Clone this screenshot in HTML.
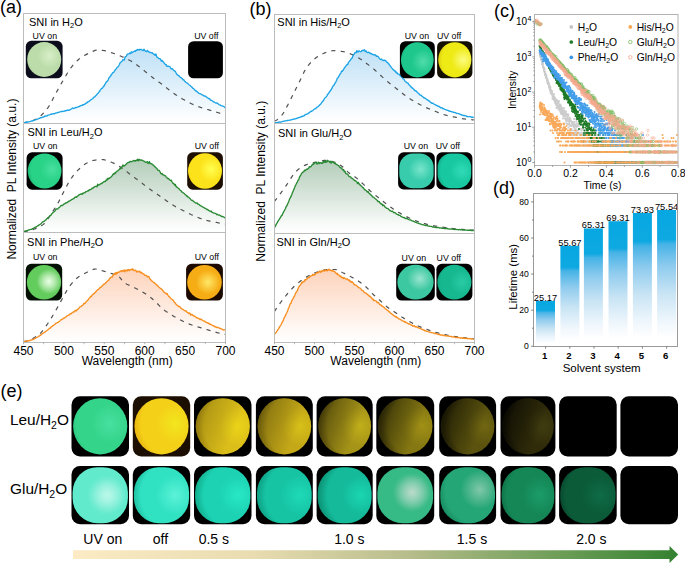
<!DOCTYPE html>
<html><head><meta charset="utf-8"><style>
html,body{margin:0;padding:0;background:#fff;overflow:hidden;width:685px;height:563px;}
svg{display:block;}
text{font-family:"Liberation Sans", sans-serif;fill:#000;}
</style></head><body>
<svg width="685" height="563" viewBox="0 0 685 563">
<defs><linearGradient id="g1" x1="0" y1="49.2" x2="0" y2="123.0" gradientUnits="userSpaceOnUse"><stop offset="0" stop-color="#bfe1f6"/><stop offset="0.5" stop-color="#bfe1f6" stop-opacity="0.5"/><stop offset="0.85" stop-color="#bfe1f6" stop-opacity="0.12"/><stop offset="1" stop-color="#bfe1f6" stop-opacity="0"/></linearGradient><linearGradient id="g2" x1="0" y1="159.2" x2="0" y2="232.0" gradientUnits="userSpaceOnUse"><stop offset="0" stop-color="#b3cdb9"/><stop offset="0.5" stop-color="#b3cdb9" stop-opacity="0.5"/><stop offset="0.85" stop-color="#b3cdb9" stop-opacity="0.12"/><stop offset="1" stop-color="#b3cdb9" stop-opacity="0"/></linearGradient><linearGradient id="g3" x1="0" y1="268.8" x2="0" y2="342.0" gradientUnits="userSpaceOnUse"><stop offset="0" stop-color="#fdd3bb"/><stop offset="0.5" stop-color="#fdd3bb" stop-opacity="0.5"/><stop offset="0.85" stop-color="#fdd3bb" stop-opacity="0.12"/><stop offset="1" stop-color="#fdd3bb" stop-opacity="0"/></linearGradient><linearGradient id="g4" x1="0" y1="49.8" x2="0" y2="123.0" gradientUnits="userSpaceOnUse"><stop offset="0" stop-color="#bfe1f6"/><stop offset="0.5" stop-color="#bfe1f6" stop-opacity="0.5"/><stop offset="0.85" stop-color="#bfe1f6" stop-opacity="0.12"/><stop offset="1" stop-color="#bfe1f6" stop-opacity="0"/></linearGradient><linearGradient id="g5" x1="0" y1="160.3" x2="0" y2="233.0" gradientUnits="userSpaceOnUse"><stop offset="0" stop-color="#b3cdb9"/><stop offset="0.5" stop-color="#b3cdb9" stop-opacity="0.5"/><stop offset="0.85" stop-color="#b3cdb9" stop-opacity="0.12"/><stop offset="1" stop-color="#b3cdb9" stop-opacity="0"/></linearGradient><linearGradient id="g6" x1="0" y1="269.4" x2="0" y2="342.0" gradientUnits="userSpaceOnUse"><stop offset="0" stop-color="#fdd3bb"/><stop offset="0.5" stop-color="#fdd3bb" stop-opacity="0.5"/><stop offset="0.85" stop-color="#fdd3bb" stop-opacity="0.12"/><stop offset="1" stop-color="#fdd3bb" stop-opacity="0"/></linearGradient><radialGradient id="p7" cx="0.65" cy="0.4" r="0.78" fx="0.65" fy="0.4"><stop offset="0" stop-color="#d8f0c8"/><stop offset="0.45" stop-color="#bcdcaa"/><stop offset="0.8" stop-color="#bcdcaa"/><stop offset="1" stop-color="#94bc84"/></radialGradient><radialGradient id="p8" cx="0.72" cy="0.45" r="0.78" fx="0.72" fy="0.45"><stop offset="0" stop-color="#48e0a0"/><stop offset="0.45" stop-color="#28d286"/><stop offset="0.8" stop-color="#28d286"/><stop offset="1" stop-color="#16ae68"/></radialGradient><radialGradient id="p9" cx="0.68" cy="0.45" r="0.78" fx="0.68" fy="0.45"><stop offset="0" stop-color="#ffff50"/><stop offset="0.45" stop-color="#fce21a"/><stop offset="0.8" stop-color="#fce21a"/><stop offset="1" stop-color="#ecb80a"/></radialGradient><radialGradient id="p10" cx="0.64" cy="0.48" r="0.78" fx="0.64" fy="0.48"><stop offset="0" stop-color="#e4fcdc"/><stop offset="0.45" stop-color="#62cc5c"/><stop offset="0.8" stop-color="#62cc5c"/><stop offset="1" stop-color="#38a834"/></radialGradient><radialGradient id="h11" cx="0.66" cy="0.48" r="0.4"><stop offset="0" stop-color="#f0fff0" stop-opacity="0.35"/><stop offset="1" stop-color="#f0fff0" stop-opacity="0"/></radialGradient><radialGradient id="p12" cx="0.6" cy="0.5" r="0.78" fx="0.6" fy="0.5"><stop offset="0" stop-color="#ffe868"/><stop offset="0.45" stop-color="#f6ac14"/><stop offset="0.8" stop-color="#f6ac14"/><stop offset="1" stop-color="#d88a08"/></radialGradient><radialGradient id="p13" cx="0.68" cy="0.55" r="0.78" fx="0.68" fy="0.55"><stop offset="0" stop-color="#50dcac"/><stop offset="0.45" stop-color="#1ec88c"/><stop offset="0.8" stop-color="#1ec88c"/><stop offset="1" stop-color="#149e6c"/></radialGradient><radialGradient id="p14" cx="0.75" cy="0.5" r="0.78" fx="0.75" fy="0.5"><stop offset="0" stop-color="#fcfc80"/><stop offset="0.45" stop-color="#eeea16"/><stop offset="0.8" stop-color="#eeea16"/><stop offset="1" stop-color="#d8c810"/></radialGradient><radialGradient id="p15" cx="0.62" cy="0.45" r="0.78" fx="0.62" fy="0.45"><stop offset="0" stop-color="#78e4cc"/><stop offset="0.45" stop-color="#38ccac"/><stop offset="0.8" stop-color="#38ccac"/><stop offset="1" stop-color="#22aa8c"/></radialGradient><radialGradient id="p16" cx="0.72" cy="0.5" r="0.78" fx="0.72" fy="0.5"><stop offset="0" stop-color="#30dcb8"/><stop offset="0.45" stop-color="#18c8a0"/><stop offset="0.8" stop-color="#18c8a0"/><stop offset="1" stop-color="#0ea482"/></radialGradient><radialGradient id="p17" cx="0.62" cy="0.4" r="0.78" fx="0.62" fy="0.4"><stop offset="0" stop-color="#98e4d0"/><stop offset="0.45" stop-color="#3cc8a0"/><stop offset="0.8" stop-color="#3cc8a0"/><stop offset="1" stop-color="#28a884"/></radialGradient><radialGradient id="p18" cx="0.72" cy="0.5" r="0.78" fx="0.72" fy="0.5"><stop offset="0" stop-color="#28ccA4"/><stop offset="0.45" stop-color="#16b890"/><stop offset="0.8" stop-color="#16b890"/><stop offset="1" stop-color="#0e9a74"/></radialGradient><marker id="m19" markerUnits="userSpaceOnUse" markerWidth="4" markerHeight="4" refX="2" refY="2" overflow="visible"><circle cx="2" cy="2" r="0.98" fill="#cccccc"/></marker><marker id="m20" markerUnits="userSpaceOnUse" markerWidth="4" markerHeight="4" refX="2" refY="2" overflow="visible"><circle cx="2" cy="2" r="0.98" fill="#1e7a26"/></marker><marker id="m21" markerUnits="userSpaceOnUse" markerWidth="4" markerHeight="4" refX="2" refY="2" overflow="visible"><circle cx="2" cy="2" r="0.98" fill="#449eea"/></marker><marker id="m22" markerUnits="userSpaceOnUse" markerWidth="4" markerHeight="4" refX="2" refY="2" overflow="visible"><circle cx="2" cy="2" r="0.98" fill="#f8a858"/></marker><marker id="m23" markerUnits="userSpaceOnUse" markerWidth="4" markerHeight="4" refX="2" refY="2" overflow="visible"><circle cx="2" cy="2" r="1.2" fill="none" stroke="#7cbb62" stroke-width="0.6"/></marker><marker id="m24" markerUnits="userSpaceOnUse" markerWidth="4" markerHeight="4" refX="2" refY="2" overflow="visible"><circle cx="2" cy="2" r="1.2" fill="none" stroke="#f5a88e" stroke-width="0.6"/></marker><linearGradient id="barg" x1="0" y1="0" x2="0" y2="1"><stop offset="0" stop-color="#06a7e2"/><stop offset="0.215" stop-color="#0ea9e1"/><stop offset="0.25" stop-color="#46b3e6"/><stop offset="0.41" stop-color="#8ecbee"/><stop offset="0.61" stop-color="#c8e4f4"/><stop offset="0.81" stop-color="#eef6fc"/><stop offset="0.94" stop-color="#ffffff"/></linearGradient><radialGradient id="p25" cx="0.68" cy="0.45" r="0.78" fx="0.68" fy="0.45"><stop offset="0" stop-color="#48e0a0"/><stop offset="0.45" stop-color="#34d48a"/><stop offset="0.8" stop-color="#34d48a"/><stop offset="1" stop-color="#22b070"/></radialGradient><radialGradient id="p26" cx="0.62" cy="0.5" r="0.78" fx="0.62" fy="0.5"><stop offset="0" stop-color="#b0f6e6"/><stop offset="0.45" stop-color="#62eacd"/><stop offset="0.8" stop-color="#62eacd"/><stop offset="1" stop-color="#44ceb0"/></radialGradient><radialGradient id="h27" cx="0.64" cy="0.5" r="0.3"><stop offset="0" stop-color="#d0faee" stop-opacity="0.35"/><stop offset="1" stop-color="#d0faee" stop-opacity="0"/></radialGradient><radialGradient id="p28" cx="0.75" cy="0.45" r="0.78" fx="0.75" fy="0.45"><stop offset="0" stop-color="#f2e61e"/><stop offset="0.45" stop-color="#f4d018"/><stop offset="0.8" stop-color="#f4d018"/><stop offset="1" stop-color="#e8b010"/></radialGradient><radialGradient id="p29" cx="0.75" cy="0.5" r="0.78" fx="0.75" fy="0.5"><stop offset="0" stop-color="#5cf2d8"/><stop offset="0.45" stop-color="#30e2c2"/><stop offset="0.8" stop-color="#30e2c2"/><stop offset="1" stop-color="#1cbc9c"/></radialGradient><radialGradient id="p30" cx="0.78" cy="0.5" r="0.78" fx="0.78" fy="0.5"><stop offset="0" stop-color="#ead418"/><stop offset="0.45" stop-color="#dcbe1a"/><stop offset="0.8" stop-color="#dcbe1a"/><stop offset="1" stop-color="#b89810"/></radialGradient><linearGradient id="d31" x1="0" y1="0.2" x2="1" y2="0.6"><stop offset="0" stop-color="#000" stop-opacity="0.25"/><stop offset="0.75" stop-color="#000" stop-opacity="0"/></linearGradient><radialGradient id="p32" cx="0.78" cy="0.5" r="0.78" fx="0.78" fy="0.5"><stop offset="0" stop-color="#28e8c6"/><stop offset="0.45" stop-color="#1cd2b2"/><stop offset="0.8" stop-color="#1cd2b2"/><stop offset="1" stop-color="#12ae8e"/></radialGradient><radialGradient id="p33" cx="0.8" cy="0.5" r="0.78" fx="0.8" fy="0.5"><stop offset="0" stop-color="#d6c018"/><stop offset="0.45" stop-color="#c4a818"/><stop offset="0.8" stop-color="#c4a818"/><stop offset="1" stop-color="#9a8410"/></radialGradient><linearGradient id="d34" x1="0" y1="0.2" x2="1" y2="0.6"><stop offset="0" stop-color="#000" stop-opacity="0.35"/><stop offset="0.75" stop-color="#000" stop-opacity="0"/></linearGradient><radialGradient id="p35" cx="0.78" cy="0.5" r="0.78" fx="0.78" fy="0.5"><stop offset="0" stop-color="#1edab8"/><stop offset="0.45" stop-color="#16c4a4"/><stop offset="0.8" stop-color="#16c4a4"/><stop offset="1" stop-color="#0ea084"/></radialGradient><radialGradient id="p36" cx="0.8" cy="0.5" r="0.78" fx="0.8" fy="0.5"><stop offset="0" stop-color="#c0ae1a"/><stop offset="0.45" stop-color="#a69418"/><stop offset="0.8" stop-color="#a69418"/><stop offset="1" stop-color="#7a6a0e"/></radialGradient><linearGradient id="d37" x1="0" y1="0.2" x2="1" y2="0.6"><stop offset="0" stop-color="#000" stop-opacity="0.5"/><stop offset="0.75" stop-color="#000" stop-opacity="0"/></linearGradient><radialGradient id="p38" cx="0.8" cy="0.5" r="0.78" fx="0.8" fy="0.5"><stop offset="0" stop-color="#1ad6b2"/><stop offset="0.45" stop-color="#14ba9a"/><stop offset="0.8" stop-color="#14ba9a"/><stop offset="1" stop-color="#0c9678"/></radialGradient><radialGradient id="p39" cx="0.82" cy="0.5" r="0.78" fx="0.82" fy="0.5"><stop offset="0" stop-color="#a09016"/><stop offset="0.45" stop-color="#857812"/><stop offset="0.8" stop-color="#857812"/><stop offset="1" stop-color="#5a500c"/></radialGradient><linearGradient id="d40" x1="0" y1="0.2" x2="1" y2="0.6"><stop offset="0" stop-color="#000" stop-opacity="0.6"/><stop offset="0.75" stop-color="#000" stop-opacity="0"/></linearGradient><radialGradient id="p41" cx="0.62" cy="0.45" r="0.78" fx="0.62" fy="0.45"><stop offset="0" stop-color="#b4d8c6"/><stop offset="0.45" stop-color="#36ba86"/><stop offset="0.8" stop-color="#36ba86"/><stop offset="1" stop-color="#1f9c6a"/></radialGradient><radialGradient id="h42" cx="0.64" cy="0.45" r="0.3"><stop offset="0" stop-color="#c4e0d2" stop-opacity="0.35"/><stop offset="1" stop-color="#c4e0d2" stop-opacity="0"/></radialGradient><radialGradient id="p43" cx="0.82" cy="0.5" r="0.78" fx="0.82" fy="0.5"><stop offset="0" stop-color="#706612"/><stop offset="0.45" stop-color="#5a520e"/><stop offset="0.8" stop-color="#5a520e"/><stop offset="1" stop-color="#3a3408"/></radialGradient><linearGradient id="d44" x1="0" y1="0.2" x2="1" y2="0.6"><stop offset="0" stop-color="#000" stop-opacity="0.65"/><stop offset="0.75" stop-color="#000" stop-opacity="0"/></linearGradient><radialGradient id="p45" cx="0.72" cy="0.4" r="0.78" fx="0.72" fy="0.4"><stop offset="0" stop-color="#80c8a8"/><stop offset="0.45" stop-color="#24a676"/><stop offset="0.8" stop-color="#24a676"/><stop offset="1" stop-color="#168a5e"/></radialGradient><radialGradient id="p46" cx="0.8" cy="0.5" r="0.78" fx="0.8" fy="0.5"><stop offset="0" stop-color="#403c10"/><stop offset="0.45" stop-color="#302c0a"/><stop offset="0.8" stop-color="#302c0a"/><stop offset="1" stop-color="#1a1805"/></radialGradient><linearGradient id="d47" x1="0" y1="0.2" x2="1" y2="0.6"><stop offset="0" stop-color="#000" stop-opacity="0.7"/><stop offset="0.75" stop-color="#000" stop-opacity="0"/></linearGradient><radialGradient id="p48" cx="0.72" cy="0.5" r="0.78" fx="0.72" fy="0.5"><stop offset="0" stop-color="#1a9c68"/><stop offset="0.45" stop-color="#158656"/><stop offset="0.8" stop-color="#158656"/><stop offset="1" stop-color="#0c6a42"/></radialGradient><radialGradient id="p49" cx="0.72" cy="0.5" r="0.78" fx="0.72" fy="0.5"><stop offset="0" stop-color="#0f6c46"/><stop offset="0.45" stop-color="#0b5a38"/><stop offset="0.8" stop-color="#0b5a38"/><stop offset="1" stop-color="#06422a"/></radialGradient><linearGradient id="arrg" x1="73" y1="0" x2="679" y2="0" gradientUnits="userSpaceOnUse"><stop offset="0" stop-color="#fcebc4"/><stop offset="0.3" stop-color="#e8dcb0"/><stop offset="0.55" stop-color="#b8bd8c"/><stop offset="0.8" stop-color="#6e9e58"/><stop offset="1" stop-color="#338130"/></linearGradient></defs>
<path d="M23.5 122.87 L24.2 122.72 L24.9 122.58 L25.6 122.17 L26.3 122.38 L27.0 121.92 L27.7 122.15 L28.4 121.96 L29.1 121.83 L29.8 121.66 L30.5 121.42 L31.2 121.13 L31.9 120.98 L32.6 121.03 L33.3 120.55 L34.0 120.38 L34.7 120.07 L35.4 119.85 L36.1 119.62 L36.8 119.42 L37.5 119.07 L38.2 118.78 L38.9 118.46 L39.6 118.28 L40.3 117.79 L41.0 117.74 L41.7 117.67 L42.4 117.11 L43.1 116.97 L43.8 117.17 L44.5 116.32 L45.2 115.97 L45.9 115.91 L46.6 116.03 L47.3 115.83 L48.0 115.07 L48.7 115.13 L49.4 114.81 L50.1 114.50 L50.8 114.06 L51.5 114.36 L52.2 113.85 L52.9 113.86 L53.6 113.64 L54.3 113.78 L55.0 113.48 L55.7 112.90 L56.4 112.89 L57.1 112.96 L57.8 112.37 L58.5 112.37 L59.2 112.31 L59.9 111.80 L60.6 111.70 L61.3 111.44 L62.0 111.64 L62.7 111.31 L63.4 111.42 L64.1 111.10 L64.8 111.02 L65.5 110.73 L66.2 110.71 L66.9 110.37 L67.6 110.02 L68.3 110.26 L69.0 110.03 L69.7 110.09 L70.4 109.42 L71.1 109.13 L71.8 108.75 L72.5 108.05 L73.2 108.35 L73.9 108.49 L74.6 107.99 L75.3 107.40 L76.0 107.82 L76.7 107.33 L77.4 107.12 L78.1 106.84 L78.8 106.63 L79.5 106.48 L80.2 105.71 L80.9 105.73 L81.6 105.35 L82.3 105.39 L83.0 104.56 L83.7 104.82 L84.4 104.22 L85.1 104.09 L85.8 103.16 L86.5 103.12 L87.2 102.61 L87.9 101.74 L88.6 101.60 L89.3 101.09 L90.0 100.48 L90.7 100.01 L91.4 99.31 L92.1 99.00 L92.8 98.63 L93.5 97.74 L94.2 96.90 L94.9 96.94 L95.6 95.84 L96.3 95.21 L97.0 94.35 L97.7 93.46 L98.4 92.97 L99.1 91.79 L99.8 91.10 L100.5 89.78 L101.2 88.82 L101.9 88.28 L102.6 88.08 L103.3 86.55 L104.0 86.15 L104.7 84.66 L105.4 83.65 L106.1 82.28 L106.8 81.46 L107.5 81.07 L108.2 79.77 L108.9 78.01 L109.6 77.00 L110.3 76.67 L111.0 74.96 L111.7 74.59 L112.4 72.95 L113.1 72.70 L113.8 72.21 L114.5 71.07 L115.2 69.96 L115.9 69.05 L116.6 68.08 L117.3 67.20 L118.0 66.78 L118.7 65.80 L119.4 64.48 L120.1 62.76 L120.8 62.19 L121.5 61.75 L122.2 60.93 L122.9 59.63 L123.6 59.95 L124.3 60.09 L125.0 57.09 L125.7 56.49 L126.4 56.17 L127.1 54.39 L127.8 53.95 L128.5 53.91 L129.2 53.83 L129.9 53.07 L130.6 53.55 L131.3 51.77 L132.0 52.80 L132.7 52.27 L133.4 51.57 L134.1 51.44 L134.8 50.89 L135.5 51.29 L136.2 50.16 L136.9 50.32 L137.6 49.54 L138.3 49.63 L139.0 50.07 L139.7 49.32 L140.4 49.68 L141.1 49.40 L141.8 49.84 L142.5 50.16 L143.2 50.65 L143.9 49.18 L144.6 50.25 L145.3 50.99 L146.0 51.45 L146.7 51.68 L147.4 50.38 L148.1 51.10 L148.8 51.90 L149.5 52.35 L150.2 52.29 L150.9 52.60 L151.6 52.93 L152.3 52.77 L153.0 53.65 L153.7 54.40 L154.4 54.24 L155.1 55.47 L155.8 53.92 L156.5 55.77 L157.2 57.39 L157.9 57.60 L158.6 58.53 L159.3 58.55 L160.0 58.57 L160.7 59.56 L161.4 61.21 L162.1 60.34 L162.8 61.51 L163.5 61.91 L164.2 63.18 L164.9 63.89 L165.6 64.92 L166.3 64.78 L167.0 66.38 L167.7 66.32 L168.4 66.22 L169.1 66.39 L169.8 66.58 L170.5 67.74 L171.2 69.04 L171.9 68.66 L172.6 68.91 L173.3 70.00 L174.0 70.52 L174.7 71.11 L175.4 71.45 L176.1 72.96 L176.8 74.31 L177.5 74.90 L178.2 75.45 L178.9 75.80 L179.6 76.53 L180.3 77.37 L181.0 77.58 L181.7 78.33 L182.4 78.69 L183.1 79.87 L183.8 79.73 L184.5 80.94 L185.2 81.62 L185.9 82.24 L186.6 82.83 L187.3 83.06 L188.0 83.68 L188.7 84.38 L189.4 85.03 L190.1 85.42 L190.8 86.27 L191.5 86.83 L192.2 87.33 L192.9 88.34 L193.6 88.55 L194.3 89.43 L195.0 90.36 L195.7 90.97 L196.4 90.99 L197.1 91.81 L197.8 92.08 L198.5 93.21 L199.2 93.45 L199.9 93.75 L200.6 93.83 L201.3 94.23 L202.0 94.87 L202.7 95.12 L203.4 95.46 L204.1 96.12 L204.8 95.99 L205.5 96.19 L206.2 96.87 L206.9 97.26 L207.6 97.97 L208.3 98.20 L209.0 98.81 L209.7 98.78 L210.4 100.12 L211.1 100.28 L211.8 100.39 L212.5 101.10 L213.2 101.74 L213.9 102.04 L214.6 102.19 L215.3 102.72 L216.0 103.13 L216.7 102.97 L217.4 103.25 L218.1 103.78 L218.8 104.47 L219.5 104.91 L220.2 104.94 L220.9 105.59 L221.6 105.82 L222.3 105.93 L223.0 106.13 L223.7 106.51 L224.4 107.02 L225.1 107.65 L225.1 123.0 L23.5 123.0 Z" fill="url(#g1)" stroke="none"/>
<path d="M23.5 122.80 L24.0 122.76 L24.5 122.71 L25.0 122.65 L25.5 122.57 L26.0 122.48 L26.5 122.38 L27.0 122.27 L27.5 122.15 L28.0 122.02 L28.5 121.88 L29.0 121.73 L29.5 121.58 L30.0 121.42 L30.5 121.26 L31.0 121.09 L31.5 120.92 L32.0 120.75 L32.5 120.57 L33.0 120.39 L33.5 120.19 L34.0 119.97 L34.5 119.74 L35.0 119.48 L35.5 119.22 L36.0 118.93 L36.5 118.63 L37.0 118.32 L37.5 118.00 L38.0 117.66 L38.5 117.31 L39.0 116.95 L39.5 116.58 L40.0 116.21 L40.5 115.82 L41.0 115.42 L41.5 114.99 L42.0 114.53 L42.5 114.06 L43.0 113.56 L43.5 113.04 L44.0 112.50 L44.5 111.94 L45.0 111.37 L45.5 110.77 L46.0 110.15 L46.5 109.52 L47.0 108.88 L47.5 108.21 L48.0 107.54 L48.5 106.83 L49.0 106.07 L49.5 105.27 L50.0 104.42 L50.5 103.53 L51.0 102.61 L51.5 101.67 L52.0 100.71 L52.5 99.74 L53.0 98.76 L53.5 97.77 L54.0 96.80 L54.5 95.83 L55.0 94.89 L55.5 93.96 L56.0 93.06 L56.5 92.16 L57.0 91.25 L57.5 90.35 L58.0 89.44 L58.5 88.54 L59.0 87.63 L59.5 86.73 L60.0 85.83 L60.5 84.94 L61.0 84.05 L61.5 83.17 L62.0 82.30 L62.5 81.43 L63.0 80.58 L63.5 79.73 L64.0 78.89 L64.5 78.04 L65.0 77.18 L65.5 76.33 L66.0 75.48 L66.5 74.64 L67.0 73.81 L67.5 72.99 L68.0 72.18 L68.5 71.38 L69.0 70.61 L69.5 69.85 L70.0 69.12 L70.5 68.41 L71.0 67.73 L71.5 67.08 L72.0 66.44 L72.5 65.81 L73.0 65.19 L73.5 64.59 L74.0 64.01 L74.5 63.44 L75.0 62.89 L75.5 62.36 L76.0 61.85 L76.5 61.35 L77.0 60.88 L77.5 60.43 L78.0 59.99 L78.5 59.56 L79.0 59.15 L79.5 58.75 L80.0 58.36 L80.5 57.98 L81.0 57.62 L81.5 57.26 L82.0 56.92 L82.5 56.60 L83.0 56.28 L83.5 55.98 L84.0 55.69 L84.5 55.40 L85.0 55.13 L85.5 54.86 L86.0 54.60 L86.5 54.35 L87.0 54.10 L87.5 53.86 L88.0 53.63 L88.5 53.40 L89.0 53.17 L89.5 52.95 L90.0 52.73 L90.5 52.51 L91.0 52.30 L91.5 52.08 L92.0 51.84 L92.5 51.59 L93.0 51.34 L93.5 51.09 L94.0 50.85 L94.5 50.63 L95.0 50.43 L95.5 50.26 L96.0 50.13 L96.5 50.04 L97.0 50.00 L97.5 50.00 L98.0 50.01 L98.5 50.03 L99.0 50.06 L99.5 50.09 L100.0 50.13 L100.5 50.17 L101.0 50.22 L101.5 50.27 L102.0 50.33 L102.5 50.39 L103.0 50.46 L103.5 50.52 L104.0 50.59 L104.5 50.66 L105.0 50.73 L105.5 50.82 L106.0 50.92 L106.5 51.04 L107.0 51.17 L107.5 51.31 L108.0 51.47 L108.5 51.63 L109.0 51.80 L109.5 51.98 L110.0 52.15 L110.5 52.33 L111.0 52.51 L111.5 52.69 L112.0 52.86 L112.5 53.03 L113.0 53.20 L113.5 53.38 L114.0 53.55 L114.5 53.73 L115.0 53.92 L115.5 54.10 L116.0 54.29 L116.5 54.48 L117.0 54.67 L117.5 54.87 L118.0 55.06 L118.5 55.26 L119.0 55.46 L119.5 55.66 L120.0 55.86 L120.5 56.07 L121.0 56.28 L121.5 56.49 L122.0 56.71 L122.5 56.93 L123.0 57.15 L123.5 57.37 L124.0 57.60 L124.5 57.83 L125.0 58.06 L125.5 58.30 L126.0 58.53 L126.5 58.77 L127.0 59.01 L127.5 59.25 L128.0 59.50 L128.5 59.76 L129.0 60.01 L129.5 60.27 L130.0 60.54 L130.5 60.82 L131.0 61.10 L131.5 61.38 L132.0 61.68 L132.5 61.98 L133.0 62.30 L133.5 62.62 L134.0 62.96 L134.5 63.30 L135.0 63.64 L135.5 64.00 L136.0 64.36 L136.5 64.72 L137.0 65.09 L137.5 65.46 L138.0 65.83 L138.5 66.20 L139.0 66.58 L139.5 66.95 L140.0 67.33 L140.5 67.72 L141.0 68.11 L141.5 68.51 L142.0 68.91 L142.5 69.32 L143.0 69.73 L143.5 70.14 L144.0 70.55 L144.5 70.96 L145.0 71.37 L145.5 71.78 L146.0 72.19 L146.5 72.60 L147.0 73.00 L147.5 73.40 L148.0 73.80 L148.5 74.20 L149.0 74.61 L149.5 75.01 L150.0 75.41 L150.5 75.82 L151.0 76.22 L151.5 76.62 L152.0 77.01 L152.5 77.41 L153.0 77.80 L153.5 78.19 L154.0 78.57 L154.5 78.95 L155.0 79.32 L155.5 79.69 L156.0 80.05 L156.5 80.41 L157.0 80.76 L157.5 81.11 L158.0 81.45 L158.5 81.80 L159.0 82.15 L159.5 82.49 L160.0 82.84 L160.5 83.19 L161.0 83.55 L161.5 83.91 L162.0 84.28 L162.5 84.65 L163.0 85.03 L163.5 85.42 L164.0 85.81 L164.5 86.21 L165.0 86.62 L165.5 87.02 L166.0 87.43 L166.5 87.83 L167.0 88.24 L167.5 88.65 L168.0 89.05 L168.5 89.44 L169.0 89.84 L169.5 90.22 L170.0 90.60 L170.5 90.97 L171.0 91.35 L171.5 91.72 L172.0 92.09 L172.5 92.46 L173.0 92.82 L173.5 93.19 L174.0 93.55 L174.5 93.90 L175.0 94.25 L175.5 94.60 L176.0 94.94 L176.5 95.28 L177.0 95.61 L177.5 95.94 L178.0 96.26 L178.5 96.57 L179.0 96.88 L179.5 97.19 L180.0 97.49 L180.5 97.79 L181.0 98.08 L181.5 98.37 L182.0 98.66 L182.5 98.95 L183.0 99.23 L183.5 99.51 L184.0 99.79 L184.5 100.06 L185.0 100.34 L185.5 100.61 L186.0 100.88 L186.5 101.15 L187.0 101.42 L187.5 101.68 L188.0 101.95 L188.5 102.21 L189.0 102.47 L189.5 102.72 L190.0 102.98 L190.5 103.23 L191.0 103.47 L191.5 103.71 L192.0 103.95 L192.5 104.18 L193.0 104.40 L193.5 104.62 L194.0 104.84 L194.5 105.05 L195.0 105.26 L195.5 105.47 L196.0 105.68 L196.5 105.88 L197.0 106.08 L197.5 106.27 L198.0 106.46 L198.5 106.65 L199.0 106.84 L199.5 107.02 L200.0 107.19 L200.5 107.37 L201.0 107.53 L201.5 107.70 L202.0 107.86 L202.5 108.01 L203.0 108.16 L203.5 108.31 L204.0 108.46 L204.5 108.60 L205.0 108.75 L205.5 108.89 L206.0 109.03 L206.5 109.18 L207.0 109.32 L207.5 109.46 L208.0 109.61 L208.5 109.76 L209.0 109.91 L209.5 110.06 L210.0 110.21 L210.5 110.36 L211.0 110.51 L211.5 110.65 L212.0 110.80 L212.5 110.95 L213.0 111.10 L213.5 111.25 L214.0 111.40 L214.5 111.55 L215.0 111.70 L215.5 111.85 L216.0 112.00 L216.5 112.15 L217.0 112.31 L217.5 112.47 L218.0 112.64 L218.5 112.80 L219.0 112.96 L219.5 113.13 L220.0 113.29 L220.5 113.45 L221.0 113.60 L221.5 113.75 L222.0 113.90 L222.5 114.03 L223.0 114.16 L223.5 114.28 L224.0 114.38 L224.5 114.48 L225.0 114.57" fill="none" stroke="#505050" stroke-width="1.2" stroke-dasharray="4.2 5.2"/>
<path d="M23.5 122.87 L24.2 122.72 L24.9 122.58 L25.6 122.17 L26.3 122.38 L27.0 121.92 L27.7 122.15 L28.4 121.96 L29.1 121.83 L29.8 121.66 L30.5 121.42 L31.2 121.13 L31.9 120.98 L32.6 121.03 L33.3 120.55 L34.0 120.38 L34.7 120.07 L35.4 119.85 L36.1 119.62 L36.8 119.42 L37.5 119.07 L38.2 118.78 L38.9 118.46 L39.6 118.28 L40.3 117.79 L41.0 117.74 L41.7 117.67 L42.4 117.11 L43.1 116.97 L43.8 117.17 L44.5 116.32 L45.2 115.97 L45.9 115.91 L46.6 116.03 L47.3 115.83 L48.0 115.07 L48.7 115.13 L49.4 114.81 L50.1 114.50 L50.8 114.06 L51.5 114.36 L52.2 113.85 L52.9 113.86 L53.6 113.64 L54.3 113.78 L55.0 113.48 L55.7 112.90 L56.4 112.89 L57.1 112.96 L57.8 112.37 L58.5 112.37 L59.2 112.31 L59.9 111.80 L60.6 111.70 L61.3 111.44 L62.0 111.64 L62.7 111.31 L63.4 111.42 L64.1 111.10 L64.8 111.02 L65.5 110.73 L66.2 110.71 L66.9 110.37 L67.6 110.02 L68.3 110.26 L69.0 110.03 L69.7 110.09 L70.4 109.42 L71.1 109.13 L71.8 108.75 L72.5 108.05 L73.2 108.35 L73.9 108.49 L74.6 107.99 L75.3 107.40 L76.0 107.82 L76.7 107.33 L77.4 107.12 L78.1 106.84 L78.8 106.63 L79.5 106.48 L80.2 105.71 L80.9 105.73 L81.6 105.35 L82.3 105.39 L83.0 104.56 L83.7 104.82 L84.4 104.22 L85.1 104.09 L85.8 103.16 L86.5 103.12 L87.2 102.61 L87.9 101.74 L88.6 101.60 L89.3 101.09 L90.0 100.48 L90.7 100.01 L91.4 99.31 L92.1 99.00 L92.8 98.63 L93.5 97.74 L94.2 96.90 L94.9 96.94 L95.6 95.84 L96.3 95.21 L97.0 94.35 L97.7 93.46 L98.4 92.97 L99.1 91.79 L99.8 91.10 L100.5 89.78 L101.2 88.82 L101.9 88.28 L102.6 88.08 L103.3 86.55 L104.0 86.15 L104.7 84.66 L105.4 83.65 L106.1 82.28 L106.8 81.46 L107.5 81.07 L108.2 79.77 L108.9 78.01 L109.6 77.00 L110.3 76.67 L111.0 74.96 L111.7 74.59 L112.4 72.95 L113.1 72.70 L113.8 72.21 L114.5 71.07 L115.2 69.96 L115.9 69.05 L116.6 68.08 L117.3 67.20 L118.0 66.78 L118.7 65.80 L119.4 64.48 L120.1 62.76 L120.8 62.19 L121.5 61.75 L122.2 60.93 L122.9 59.63 L123.6 59.95 L124.3 60.09 L125.0 57.09 L125.7 56.49 L126.4 56.17 L127.1 54.39 L127.8 53.95 L128.5 53.91 L129.2 53.83 L129.9 53.07 L130.6 53.55 L131.3 51.77 L132.0 52.80 L132.7 52.27 L133.4 51.57 L134.1 51.44 L134.8 50.89 L135.5 51.29 L136.2 50.16 L136.9 50.32 L137.6 49.54 L138.3 49.63 L139.0 50.07 L139.7 49.32 L140.4 49.68 L141.1 49.40 L141.8 49.84 L142.5 50.16 L143.2 50.65 L143.9 49.18 L144.6 50.25 L145.3 50.99 L146.0 51.45 L146.7 51.68 L147.4 50.38 L148.1 51.10 L148.8 51.90 L149.5 52.35 L150.2 52.29 L150.9 52.60 L151.6 52.93 L152.3 52.77 L153.0 53.65 L153.7 54.40 L154.4 54.24 L155.1 55.47 L155.8 53.92 L156.5 55.77 L157.2 57.39 L157.9 57.60 L158.6 58.53 L159.3 58.55 L160.0 58.57 L160.7 59.56 L161.4 61.21 L162.1 60.34 L162.8 61.51 L163.5 61.91 L164.2 63.18 L164.9 63.89 L165.6 64.92 L166.3 64.78 L167.0 66.38 L167.7 66.32 L168.4 66.22 L169.1 66.39 L169.8 66.58 L170.5 67.74 L171.2 69.04 L171.9 68.66 L172.6 68.91 L173.3 70.00 L174.0 70.52 L174.7 71.11 L175.4 71.45 L176.1 72.96 L176.8 74.31 L177.5 74.90 L178.2 75.45 L178.9 75.80 L179.6 76.53 L180.3 77.37 L181.0 77.58 L181.7 78.33 L182.4 78.69 L183.1 79.87 L183.8 79.73 L184.5 80.94 L185.2 81.62 L185.9 82.24 L186.6 82.83 L187.3 83.06 L188.0 83.68 L188.7 84.38 L189.4 85.03 L190.1 85.42 L190.8 86.27 L191.5 86.83 L192.2 87.33 L192.9 88.34 L193.6 88.55 L194.3 89.43 L195.0 90.36 L195.7 90.97 L196.4 90.99 L197.1 91.81 L197.8 92.08 L198.5 93.21 L199.2 93.45 L199.9 93.75 L200.6 93.83 L201.3 94.23 L202.0 94.87 L202.7 95.12 L203.4 95.46 L204.1 96.12 L204.8 95.99 L205.5 96.19 L206.2 96.87 L206.9 97.26 L207.6 97.97 L208.3 98.20 L209.0 98.81 L209.7 98.78 L210.4 100.12 L211.1 100.28 L211.8 100.39 L212.5 101.10 L213.2 101.74 L213.9 102.04 L214.6 102.19 L215.3 102.72 L216.0 103.13 L216.7 102.97 L217.4 103.25 L218.1 103.78 L218.8 104.47 L219.5 104.91 L220.2 104.94 L220.9 105.59 L221.6 105.82 L222.3 105.93 L223.0 106.13 L223.7 106.51 L224.4 107.02 L225.1 107.65" fill="none" stroke="#1ca4e6" stroke-width="1.35" stroke-linejoin="round"/>
<path d="M23.5 231.67 L24.2 231.40 L24.9 231.05 L25.6 231.00 L26.3 230.79 L27.0 230.60 L27.7 230.50 L28.4 230.03 L29.1 230.08 L29.8 229.56 L30.5 229.43 L31.2 229.32 L31.9 229.02 L32.6 228.54 L33.3 228.57 L34.0 228.04 L34.7 227.50 L35.4 227.28 L36.1 226.76 L36.8 226.56 L37.5 225.87 L38.2 225.71 L38.9 224.88 L39.6 224.84 L40.3 224.19 L41.0 223.83 L41.7 222.93 L42.4 222.12 L43.1 221.68 L43.8 221.31 L44.5 221.14 L45.2 220.29 L45.9 219.83 L46.6 218.78 L47.3 218.22 L48.0 217.62 L48.7 217.28 L49.4 216.27 L50.1 215.66 L50.8 215.37 L51.5 214.09 L52.2 213.54 L52.9 212.49 L53.6 212.02 L54.3 211.57 L55.0 211.00 L55.7 209.76 L56.4 208.90 L57.1 209.12 L57.8 208.89 L58.5 207.77 L59.2 207.54 L59.9 207.00 L60.6 205.94 L61.3 205.34 L62.0 205.59 L62.7 205.29 L63.4 204.28 L64.1 204.16 L64.8 203.58 L65.5 203.10 L66.2 202.57 L66.9 202.87 L67.6 202.11 L68.3 201.62 L69.0 201.13 L69.7 200.98 L70.4 200.30 L71.1 200.09 L71.8 199.38 L72.5 199.32 L73.2 198.69 L73.9 198.55 L74.6 197.46 L75.3 197.29 L76.0 196.74 L76.7 197.25 L77.4 196.13 L78.1 195.91 L78.8 194.97 L79.5 194.84 L80.2 194.20 L80.9 194.36 L81.6 193.71 L82.3 194.21 L83.0 193.04 L83.7 193.35 L84.4 192.61 L85.1 192.51 L85.8 191.66 L86.5 191.63 L87.2 191.24 L87.9 190.66 L88.6 190.79 L89.3 189.67 L90.0 189.77 L90.7 189.37 L91.4 189.08 L92.1 188.21 L92.8 188.48 L93.5 187.48 L94.2 187.17 L94.9 186.61 L95.6 186.41 L96.3 186.28 L97.0 186.85 L97.7 184.26 L98.4 185.24 L99.1 184.82 L99.8 184.65 L100.5 183.77 L101.2 183.46 L101.9 183.60 L102.6 182.51 L103.3 182.14 L104.0 181.64 L104.7 181.40 L105.4 181.52 L106.1 179.94 L106.8 180.33 L107.5 178.34 L108.2 179.01 L108.9 178.09 L109.6 178.28 L110.3 177.51 L111.0 176.93 L111.7 176.26 L112.4 175.57 L113.1 173.91 L113.8 174.38 L114.5 173.02 L115.2 173.52 L115.9 172.10 L116.6 171.78 L117.3 170.90 L118.0 170.53 L118.7 169.96 L119.4 169.50 L120.1 168.05 L120.8 168.84 L121.5 166.96 L122.2 166.84 L122.9 165.01 L123.6 165.99 L124.3 165.82 L125.0 165.43 L125.7 164.58 L126.4 164.07 L127.1 163.02 L127.8 162.73 L128.5 162.48 L129.2 162.35 L129.9 161.43 L130.6 161.54 L131.3 161.78 L132.0 161.37 L132.7 161.01 L133.4 160.45 L134.1 160.84 L134.8 160.58 L135.5 161.08 L136.2 160.13 L136.9 160.53 L137.6 159.23 L138.3 160.91 L139.0 159.26 L139.7 160.03 L140.4 159.98 L141.1 159.99 L141.8 160.27 L142.5 160.31 L143.2 160.81 L143.9 161.06 L144.6 161.70 L145.3 161.94 L146.0 162.44 L146.7 162.00 L147.4 161.59 L148.1 163.52 L148.8 162.90 L149.5 161.61 L150.2 163.67 L150.9 163.59 L151.6 163.74 L152.3 164.29 L153.0 165.16 L153.7 165.28 L154.4 166.39 L155.1 166.79 L155.8 167.39 L156.5 168.32 L157.2 168.92 L157.9 170.25 L158.6 170.44 L159.3 170.52 L160.0 171.74 L160.7 173.27 L161.4 173.98 L162.1 173.50 L162.8 174.79 L163.5 174.86 L164.2 175.51 L164.9 175.49 L165.6 175.98 L166.3 177.09 L167.0 177.85 L167.7 178.48 L168.4 178.44 L169.1 179.28 L169.8 180.03 L170.5 180.54 L171.2 180.11 L171.9 181.53 L172.6 182.72 L173.3 183.64 L174.0 183.78 L174.7 185.30 L175.4 184.48 L176.1 186.85 L176.8 186.79 L177.5 187.75 L178.2 188.06 L178.9 188.63 L179.6 189.60 L180.3 190.38 L181.0 190.59 L181.7 191.91 L182.4 192.10 L183.1 192.89 L183.8 193.22 L184.5 193.84 L185.2 194.65 L185.9 194.79 L186.6 196.06 L187.3 196.00 L188.0 197.14 L188.7 197.21 L189.4 198.08 L190.1 198.48 L190.8 199.62 L191.5 200.30 L192.2 200.15 L192.9 200.92 L193.6 201.33 L194.3 201.93 L195.0 202.46 L195.7 203.11 L196.4 203.03 L197.1 202.89 L197.8 204.02 L198.5 204.12 L199.2 204.59 L199.9 205.39 L200.6 205.89 L201.3 205.91 L202.0 206.66 L202.7 206.87 L203.4 207.40 L204.1 207.58 L204.8 208.39 L205.5 208.31 L206.2 208.90 L206.9 209.52 L207.6 209.44 L208.3 210.17 L209.0 210.56 L209.7 211.02 L210.4 211.60 L211.1 211.03 L211.8 212.12 L212.5 212.32 L213.2 212.85 L213.9 213.07 L214.6 213.08 L215.3 213.43 L216.0 213.65 L216.7 214.47 L217.4 214.36 L218.1 214.88 L218.8 215.06 L219.5 214.96 L220.2 215.63 L220.9 215.95 L221.6 216.58 L222.3 216.51 L223.0 216.60 L223.7 216.99 L224.4 217.54 L225.1 217.76 L225.1 232.0 L23.5 232.0 Z" fill="url(#g2)" stroke="none"/>
<path d="M23.5 231.50 L24.0 231.49 L24.5 231.48 L25.0 231.45 L25.5 231.41 L26.0 231.36 L26.5 231.29 L27.0 231.22 L27.5 231.14 L28.0 231.05 L28.5 230.94 L29.0 230.83 L29.5 230.71 L30.0 230.58 L30.5 230.44 L31.0 230.29 L31.5 230.13 L32.0 229.97 L32.5 229.80 L33.0 229.62 L33.5 229.43 L34.0 229.23 L34.5 229.03 L35.0 228.83 L35.5 228.61 L36.0 228.39 L36.5 228.16 L37.0 227.93 L37.5 227.69 L38.0 227.45 L38.5 227.20 L39.0 226.95 L39.5 226.69 L40.0 226.43 L40.5 226.16 L41.0 225.89 L41.5 225.62 L42.0 225.34 L42.5 225.03 L43.0 224.65 L43.5 224.23 L44.0 223.76 L44.5 223.24 L45.0 222.69 L45.5 222.10 L46.0 221.47 L46.5 220.82 L47.0 220.13 L47.5 219.43 L48.0 218.70 L48.5 217.96 L49.0 217.21 L49.5 216.45 L50.0 215.68 L50.5 214.91 L51.0 214.15 L51.5 213.39 L52.0 212.63 L52.5 211.89 L53.0 211.16 L53.5 210.42 L54.0 209.65 L54.5 208.88 L55.0 208.08 L55.5 207.28 L56.0 206.45 L56.5 205.62 L57.0 204.77 L57.5 203.90 L58.0 203.03 L58.5 202.14 L59.0 201.24 L59.5 200.30 L60.0 199.33 L60.5 198.33 L61.0 197.31 L61.5 196.28 L62.0 195.24 L62.5 194.20 L63.0 193.16 L63.5 192.14 L64.0 191.14 L64.5 190.16 L65.0 189.21 L65.5 188.27 L66.0 187.33 L66.5 186.39 L67.0 185.46 L67.5 184.54 L68.0 183.63 L68.5 182.74 L69.0 181.87 L69.5 181.02 L70.0 180.21 L70.5 179.44 L71.0 178.70 L71.5 177.99 L72.0 177.30 L72.5 176.62 L73.0 175.96 L73.5 175.32 L74.0 174.68 L74.5 174.07 L75.0 173.47 L75.5 172.88 L76.0 172.32 L76.5 171.76 L77.0 171.22 L77.5 170.70 L78.0 170.19 L78.5 169.69 L79.0 169.21 L79.5 168.73 L80.0 168.26 L80.5 167.80 L81.0 167.34 L81.5 166.89 L82.0 166.45 L82.5 166.03 L83.0 165.61 L83.5 165.22 L84.0 164.84 L84.5 164.48 L85.0 164.14 L85.5 163.82 L86.0 163.52 L86.5 163.25 L87.0 162.98 L87.5 162.73 L88.0 162.47 L88.5 162.23 L89.0 161.99 L89.5 161.76 L90.0 161.54 L90.5 161.33 L91.0 161.13 L91.5 160.95 L92.0 160.79 L92.5 160.64 L93.0 160.51 L93.5 160.39 L94.0 160.30 L94.5 160.22 L95.0 160.14 L95.5 160.06 L96.0 159.99 L96.5 159.91 L97.0 159.85 L97.5 159.78 L98.0 159.72 L98.5 159.67 L99.0 159.62 L99.5 159.58 L100.0 159.55 L100.5 159.53 L101.0 159.51 L101.5 159.50 L102.0 159.51 L102.5 159.54 L103.0 159.59 L103.5 159.67 L104.0 159.77 L104.5 159.89 L105.0 160.02 L105.5 160.17 L106.0 160.33 L106.5 160.49 L107.0 160.66 L107.5 160.84 L108.0 161.02 L108.5 161.19 L109.0 161.37 L109.5 161.53 L110.0 161.70 L110.5 161.88 L111.0 162.07 L111.5 162.27 L112.0 162.48 L112.5 162.69 L113.0 162.91 L113.5 163.14 L114.0 163.38 L114.5 163.62 L115.0 163.87 L115.5 164.12 L116.0 164.37 L116.5 164.63 L117.0 164.90 L117.5 165.17 L118.0 165.46 L118.5 165.76 L119.0 166.06 L119.5 166.38 L120.0 166.71 L120.5 167.04 L121.0 167.38 L121.5 167.72 L122.0 168.07 L122.5 168.43 L123.0 168.78 L123.5 169.14 L124.0 169.50 L124.5 169.86 L125.0 170.24 L125.5 170.63 L126.0 171.02 L126.5 171.42 L127.0 171.82 L127.5 172.23 L128.0 172.64 L128.5 173.05 L129.0 173.46 L129.5 173.87 L130.0 174.28 L130.5 174.67 L131.0 175.07 L131.5 175.45 L132.0 175.82 L132.5 176.19 L133.0 176.55 L133.5 176.91 L134.0 177.26 L134.5 177.61 L135.0 177.95 L135.5 178.30 L136.0 178.65 L136.5 178.99 L137.0 179.34 L137.5 179.69 L138.0 180.05 L138.5 180.41 L139.0 180.78 L139.5 181.15 L140.0 181.53 L140.5 181.92 L141.0 182.32 L141.5 182.72 L142.0 183.12 L142.5 183.53 L143.0 183.93 L143.5 184.34 L144.0 184.75 L144.5 185.15 L145.0 185.55 L145.5 185.95 L146.0 186.34 L146.5 186.72 L147.0 187.10 L147.5 187.47 L148.0 187.83 L148.5 188.19 L149.0 188.55 L149.5 188.90 L150.0 189.25 L150.5 189.60 L151.0 189.95 L151.5 190.29 L152.0 190.63 L152.5 190.98 L153.0 191.32 L153.5 191.67 L154.0 192.01 L154.5 192.36 L155.0 192.71 L155.5 193.06 L156.0 193.41 L156.5 193.76 L157.0 194.11 L157.5 194.45 L158.0 194.80 L158.5 195.15 L159.0 195.50 L159.5 195.85 L160.0 196.19 L160.5 196.54 L161.0 196.89 L161.5 197.24 L162.0 197.59 L162.5 197.94 L163.0 198.29 L163.5 198.65 L164.0 199.01 L164.5 199.36 L165.0 199.72 L165.5 200.08 L166.0 200.44 L166.5 200.80 L167.0 201.15 L167.5 201.50 L168.0 201.85 L168.5 202.20 L169.0 202.54 L169.5 202.87 L170.0 203.20 L170.5 203.52 L171.0 203.85 L171.5 204.17 L172.0 204.48 L172.5 204.80 L173.0 205.11 L173.5 205.42 L174.0 205.72 L174.5 206.02 L175.0 206.32 L175.5 206.62 L176.0 206.90 L176.5 207.19 L177.0 207.47 L177.5 207.75 L178.0 208.02 L178.5 208.28 L179.0 208.54 L179.5 208.79 L180.0 209.04 L180.5 209.29 L181.0 209.53 L181.5 209.77 L182.0 210.01 L182.5 210.25 L183.0 210.49 L183.5 210.73 L184.0 210.97 L184.5 211.21 L185.0 211.45 L185.5 211.70 L186.0 211.95 L186.5 212.20 L187.0 212.45 L187.5 212.71 L188.0 212.96 L188.5 213.22 L189.0 213.47 L189.5 213.72 L190.0 213.97 L190.5 214.22 L191.0 214.46 L191.5 214.71 L192.0 214.94 L192.5 215.17 L193.0 215.40 L193.5 215.62 L194.0 215.84 L194.5 216.06 L195.0 216.28 L195.5 216.50 L196.0 216.71 L196.5 216.92 L197.0 217.13 L197.5 217.33 L198.0 217.53 L198.5 217.73 L199.0 217.92 L199.5 218.11 L200.0 218.29 L200.5 218.47 L201.0 218.64 L201.5 218.81 L202.0 218.97 L202.5 219.14 L203.0 219.30 L203.5 219.46 L204.0 219.62 L204.5 219.77 L205.0 219.92 L205.5 220.06 L206.0 220.21 L206.5 220.34 L207.0 220.48 L207.5 220.60 L208.0 220.73 L208.5 220.85 L209.0 220.96 L209.5 221.07 L210.0 221.17 L210.5 221.27 L211.0 221.37 L211.5 221.46 L212.0 221.55 L212.5 221.65 L213.0 221.74 L213.5 221.83 L214.0 221.92 L214.5 222.01 L215.0 222.10 L215.5 222.20 L216.0 222.30 L216.5 222.40 L217.0 222.51 L217.5 222.62 L218.0 222.74 L218.5 222.85 L219.0 222.97 L219.5 223.08 L220.0 223.20 L220.5 223.31 L221.0 223.42 L221.5 223.52 L222.0 223.62 L222.5 223.72 L223.0 223.80 L223.5 223.88 L224.0 223.96 L224.5 224.02 L225.0 224.08" fill="none" stroke="#505050" stroke-width="1.2" stroke-dasharray="4.2 5.2"/>
<path d="M23.5 231.67 L24.2 231.40 L24.9 231.05 L25.6 231.00 L26.3 230.79 L27.0 230.60 L27.7 230.50 L28.4 230.03 L29.1 230.08 L29.8 229.56 L30.5 229.43 L31.2 229.32 L31.9 229.02 L32.6 228.54 L33.3 228.57 L34.0 228.04 L34.7 227.50 L35.4 227.28 L36.1 226.76 L36.8 226.56 L37.5 225.87 L38.2 225.71 L38.9 224.88 L39.6 224.84 L40.3 224.19 L41.0 223.83 L41.7 222.93 L42.4 222.12 L43.1 221.68 L43.8 221.31 L44.5 221.14 L45.2 220.29 L45.9 219.83 L46.6 218.78 L47.3 218.22 L48.0 217.62 L48.7 217.28 L49.4 216.27 L50.1 215.66 L50.8 215.37 L51.5 214.09 L52.2 213.54 L52.9 212.49 L53.6 212.02 L54.3 211.57 L55.0 211.00 L55.7 209.76 L56.4 208.90 L57.1 209.12 L57.8 208.89 L58.5 207.77 L59.2 207.54 L59.9 207.00 L60.6 205.94 L61.3 205.34 L62.0 205.59 L62.7 205.29 L63.4 204.28 L64.1 204.16 L64.8 203.58 L65.5 203.10 L66.2 202.57 L66.9 202.87 L67.6 202.11 L68.3 201.62 L69.0 201.13 L69.7 200.98 L70.4 200.30 L71.1 200.09 L71.8 199.38 L72.5 199.32 L73.2 198.69 L73.9 198.55 L74.6 197.46 L75.3 197.29 L76.0 196.74 L76.7 197.25 L77.4 196.13 L78.1 195.91 L78.8 194.97 L79.5 194.84 L80.2 194.20 L80.9 194.36 L81.6 193.71 L82.3 194.21 L83.0 193.04 L83.7 193.35 L84.4 192.61 L85.1 192.51 L85.8 191.66 L86.5 191.63 L87.2 191.24 L87.9 190.66 L88.6 190.79 L89.3 189.67 L90.0 189.77 L90.7 189.37 L91.4 189.08 L92.1 188.21 L92.8 188.48 L93.5 187.48 L94.2 187.17 L94.9 186.61 L95.6 186.41 L96.3 186.28 L97.0 186.85 L97.7 184.26 L98.4 185.24 L99.1 184.82 L99.8 184.65 L100.5 183.77 L101.2 183.46 L101.9 183.60 L102.6 182.51 L103.3 182.14 L104.0 181.64 L104.7 181.40 L105.4 181.52 L106.1 179.94 L106.8 180.33 L107.5 178.34 L108.2 179.01 L108.9 178.09 L109.6 178.28 L110.3 177.51 L111.0 176.93 L111.7 176.26 L112.4 175.57 L113.1 173.91 L113.8 174.38 L114.5 173.02 L115.2 173.52 L115.9 172.10 L116.6 171.78 L117.3 170.90 L118.0 170.53 L118.7 169.96 L119.4 169.50 L120.1 168.05 L120.8 168.84 L121.5 166.96 L122.2 166.84 L122.9 165.01 L123.6 165.99 L124.3 165.82 L125.0 165.43 L125.7 164.58 L126.4 164.07 L127.1 163.02 L127.8 162.73 L128.5 162.48 L129.2 162.35 L129.9 161.43 L130.6 161.54 L131.3 161.78 L132.0 161.37 L132.7 161.01 L133.4 160.45 L134.1 160.84 L134.8 160.58 L135.5 161.08 L136.2 160.13 L136.9 160.53 L137.6 159.23 L138.3 160.91 L139.0 159.26 L139.7 160.03 L140.4 159.98 L141.1 159.99 L141.8 160.27 L142.5 160.31 L143.2 160.81 L143.9 161.06 L144.6 161.70 L145.3 161.94 L146.0 162.44 L146.7 162.00 L147.4 161.59 L148.1 163.52 L148.8 162.90 L149.5 161.61 L150.2 163.67 L150.9 163.59 L151.6 163.74 L152.3 164.29 L153.0 165.16 L153.7 165.28 L154.4 166.39 L155.1 166.79 L155.8 167.39 L156.5 168.32 L157.2 168.92 L157.9 170.25 L158.6 170.44 L159.3 170.52 L160.0 171.74 L160.7 173.27 L161.4 173.98 L162.1 173.50 L162.8 174.79 L163.5 174.86 L164.2 175.51 L164.9 175.49 L165.6 175.98 L166.3 177.09 L167.0 177.85 L167.7 178.48 L168.4 178.44 L169.1 179.28 L169.8 180.03 L170.5 180.54 L171.2 180.11 L171.9 181.53 L172.6 182.72 L173.3 183.64 L174.0 183.78 L174.7 185.30 L175.4 184.48 L176.1 186.85 L176.8 186.79 L177.5 187.75 L178.2 188.06 L178.9 188.63 L179.6 189.60 L180.3 190.38 L181.0 190.59 L181.7 191.91 L182.4 192.10 L183.1 192.89 L183.8 193.22 L184.5 193.84 L185.2 194.65 L185.9 194.79 L186.6 196.06 L187.3 196.00 L188.0 197.14 L188.7 197.21 L189.4 198.08 L190.1 198.48 L190.8 199.62 L191.5 200.30 L192.2 200.15 L192.9 200.92 L193.6 201.33 L194.3 201.93 L195.0 202.46 L195.7 203.11 L196.4 203.03 L197.1 202.89 L197.8 204.02 L198.5 204.12 L199.2 204.59 L199.9 205.39 L200.6 205.89 L201.3 205.91 L202.0 206.66 L202.7 206.87 L203.4 207.40 L204.1 207.58 L204.8 208.39 L205.5 208.31 L206.2 208.90 L206.9 209.52 L207.6 209.44 L208.3 210.17 L209.0 210.56 L209.7 211.02 L210.4 211.60 L211.1 211.03 L211.8 212.12 L212.5 212.32 L213.2 212.85 L213.9 213.07 L214.6 213.08 L215.3 213.43 L216.0 213.65 L216.7 214.47 L217.4 214.36 L218.1 214.88 L218.8 215.06 L219.5 214.96 L220.2 215.63 L220.9 215.95 L221.6 216.58 L222.3 216.51 L223.0 216.60 L223.7 216.99 L224.4 217.54 L225.1 217.76" fill="none" stroke="#2a8a34" stroke-width="1.35" stroke-linejoin="round"/>
<path d="M23.5 341.54 L24.2 341.45 L24.9 341.32 L25.6 341.01 L26.3 341.18 L27.0 341.16 L27.7 341.03 L28.4 340.67 L29.1 340.85 L29.8 340.63 L30.5 340.16 L31.2 339.98 L31.9 339.91 L32.6 339.49 L33.3 339.27 L34.0 339.09 L34.7 338.74 L35.4 338.13 L36.1 337.76 L36.8 337.34 L37.5 337.02 L38.2 336.62 L38.9 336.14 L39.6 335.90 L40.3 335.34 L41.0 334.87 L41.7 334.06 L42.4 333.65 L43.1 333.24 L43.8 332.90 L44.5 332.16 L45.2 332.06 L45.9 331.28 L46.6 330.77 L47.3 330.21 L48.0 329.74 L48.7 329.26 L49.4 328.41 L50.1 328.26 L50.8 327.22 L51.5 326.92 L52.2 326.20 L52.9 325.66 L53.6 325.30 L54.3 324.67 L55.0 324.47 L55.7 323.48 L56.4 323.20 L57.1 322.72 L57.8 322.58 L58.5 321.98 L59.2 321.28 L59.9 321.04 L60.6 320.37 L61.3 319.50 L62.0 319.32 L62.7 319.10 L63.4 318.23 L64.1 318.34 L64.8 317.62 L65.5 316.95 L66.2 316.83 L66.9 315.88 L67.6 315.69 L68.3 315.17 L69.0 315.16 L69.7 314.28 L70.4 313.67 L71.1 313.73 L71.8 313.03 L72.5 312.48 L73.2 312.03 L73.9 312.02 L74.6 311.26 L75.3 310.48 L76.0 311.04 L76.7 309.82 L77.4 309.75 L78.1 308.96 L78.8 308.53 L79.5 307.29 L80.2 306.85 L80.9 306.71 L81.6 305.91 L82.3 305.40 L83.0 305.16 L83.7 303.41 L84.4 303.45 L85.1 303.45 L85.8 302.06 L86.5 301.50 L87.2 300.85 L87.9 300.04 L88.6 299.23 L89.3 297.96 L90.0 297.62 L90.7 296.47 L91.4 296.55 L92.1 294.96 L92.8 294.61 L93.5 293.76 L94.2 293.64 L94.9 292.60 L95.6 292.21 L96.3 291.07 L97.0 290.53 L97.7 289.69 L98.4 289.41 L99.1 288.75 L99.8 287.77 L100.5 287.09 L101.2 287.09 L101.9 286.33 L102.6 285.49 L103.3 284.78 L104.0 284.08 L104.7 284.01 L105.4 283.09 L106.1 282.39 L106.8 281.76 L107.5 281.10 L108.2 280.45 L108.9 279.90 L109.6 278.27 L110.3 278.27 L111.0 277.10 L111.7 276.84 L112.4 277.02 L113.1 274.83 L113.8 274.51 L114.5 274.28 L115.2 272.77 L115.9 274.62 L116.6 272.53 L117.3 273.26 L118.0 272.00 L118.7 272.39 L119.4 271.98 L120.1 271.20 L120.8 271.46 L121.5 270.69 L122.2 270.65 L122.9 271.58 L123.6 270.20 L124.3 270.06 L125.0 271.80 L125.7 270.10 L126.4 270.34 L127.1 270.94 L127.8 269.68 L128.5 269.54 L129.2 270.74 L129.9 269.67 L130.6 269.78 L131.3 269.43 L132.0 269.89 L132.7 268.81 L133.4 269.87 L134.1 270.48 L134.8 270.65 L135.5 270.10 L136.2 270.97 L136.9 272.05 L137.6 271.27 L138.3 271.85 L139.0 271.59 L139.7 271.15 L140.4 272.76 L141.1 272.20 L141.8 272.69 L142.5 273.47 L143.2 273.82 L143.9 274.19 L144.6 275.26 L145.3 275.21 L146.0 275.63 L146.7 275.55 L147.4 277.04 L148.1 276.50 L148.8 276.60 L149.5 277.94 L150.2 279.32 L150.9 279.82 L151.6 280.94 L152.3 281.20 L153.0 281.87 L153.7 282.52 L154.4 282.73 L155.1 283.45 L155.8 284.09 L156.5 285.02 L157.2 285.16 L157.9 286.02 L158.6 286.97 L159.3 287.45 L160.0 288.00 L160.7 288.66 L161.4 288.86 L162.1 289.45 L162.8 290.31 L163.5 291.66 L164.2 292.20 L164.9 292.59 L165.6 293.34 L166.3 294.01 L167.0 293.37 L167.7 294.72 L168.4 295.90 L169.1 296.91 L169.8 296.97 L170.5 298.26 L171.2 298.80 L171.9 299.22 L172.6 299.61 L173.3 300.46 L174.0 301.64 L174.7 302.56 L175.4 303.27 L176.1 304.26 L176.8 304.96 L177.5 305.43 L178.2 306.15 L178.9 306.66 L179.6 306.49 L180.3 307.20 L181.0 308.20 L181.7 308.81 L182.4 309.07 L183.1 309.40 L183.8 310.00 L184.5 310.53 L185.2 310.89 L185.9 310.69 L186.6 311.82 L187.3 312.38 L188.0 312.63 L188.7 313.66 L189.4 313.04 L190.1 313.35 L190.8 315.21 L191.5 314.39 L192.2 314.38 L192.9 315.29 L193.6 316.05 L194.3 316.00 L195.0 316.44 L195.7 317.10 L196.4 317.76 L197.1 317.79 L197.8 318.01 L198.5 318.16 L199.2 318.80 L199.9 319.66 L200.6 319.02 L201.3 319.38 L202.0 319.90 L202.7 320.51 L203.4 320.83 L204.1 320.97 L204.8 321.26 L205.5 322.04 L206.2 322.17 L206.9 322.72 L207.6 322.70 L208.3 323.36 L209.0 323.26 L209.7 324.29 L210.4 324.11 L211.1 324.49 L211.8 325.04 L212.5 325.28 L213.2 325.55 L213.9 326.13 L214.6 326.24 L215.3 327.10 L216.0 326.86 L216.7 327.46 L217.4 327.42 L218.1 327.49 L218.8 327.65 L219.5 328.39 L220.2 328.35 L220.9 328.91 L221.6 328.96 L222.3 329.33 L223.0 329.57 L223.7 330.12 L224.4 329.95 L225.1 329.91 L225.1 342.0 L23.5 342.0 Z" fill="url(#g3)" stroke="none"/>
<path d="M23.5 341.50 L24.0 341.49 L24.5 341.46 L25.0 341.41 L25.5 341.34 L26.0 341.25 L26.5 341.14 L27.0 341.02 L27.5 340.88 L28.0 340.72 L28.5 340.55 L29.0 340.36 L29.5 340.16 L30.0 339.94 L30.5 339.72 L31.0 339.48 L31.5 339.23 L32.0 338.96 L32.5 338.69 L33.0 338.41 L33.5 338.12 L34.0 337.82 L34.5 337.52 L35.0 337.20 L35.5 336.88 L36.0 336.56 L36.5 336.23 L37.0 335.90 L37.5 335.56 L38.0 335.22 L38.5 334.88 L39.0 334.53 L39.5 334.15 L40.0 333.71 L40.5 333.23 L41.0 332.70 L41.5 332.13 L42.0 331.53 L42.5 330.91 L43.0 330.25 L43.5 329.58 L44.0 328.90 L44.5 328.20 L45.0 327.50 L45.5 326.79 L46.0 326.09 L46.5 325.40 L47.0 324.70 L47.5 323.99 L48.0 323.25 L48.5 322.50 L49.0 321.73 L49.5 320.95 L50.0 320.16 L50.5 319.36 L51.0 318.54 L51.5 317.72 L52.0 316.89 L52.5 316.06 L53.0 315.22 L53.5 314.38 L54.0 313.54 L54.5 312.69 L55.0 311.83 L55.5 310.96 L56.0 310.08 L56.5 309.18 L57.0 308.28 L57.5 307.37 L58.0 306.46 L58.5 305.54 L59.0 304.63 L59.5 303.71 L60.0 302.80 L60.5 301.89 L61.0 300.99 L61.5 300.10 L62.0 299.22 L62.5 298.34 L63.0 297.44 L63.5 296.53 L64.0 295.61 L64.5 294.69 L65.0 293.78 L65.5 292.87 L66.0 291.98 L66.5 291.10 L67.0 290.24 L67.5 289.41 L68.0 288.60 L68.5 287.83 L69.0 287.09 L69.5 286.40 L70.0 285.73 L70.5 285.08 L71.0 284.43 L71.5 283.80 L72.0 283.18 L72.5 282.58 L73.0 281.99 L73.5 281.42 L74.0 280.88 L74.5 280.35 L75.0 279.84 L75.5 279.36 L76.0 278.90 L76.5 278.46 L77.0 278.06 L77.5 277.67 L78.0 277.31 L78.5 276.95 L79.0 276.61 L79.5 276.28 L80.0 275.97 L80.5 275.66 L81.0 275.36 L81.5 275.08 L82.0 274.80 L82.5 274.53 L83.0 274.26 L83.5 274.00 L84.0 273.75 L84.5 273.50 L85.0 273.26 L85.5 273.02 L86.0 272.79 L86.5 272.55 L87.0 272.31 L87.5 272.06 L88.0 271.80 L88.5 271.54 L89.0 271.28 L89.5 271.01 L90.0 270.76 L90.5 270.51 L91.0 270.26 L91.5 270.04 L92.0 269.82 L92.5 269.63 L93.0 269.45 L93.5 269.30 L94.0 269.18 L94.5 269.09 L95.0 269.03 L95.5 269.00 L96.0 269.01 L96.5 269.05 L97.0 269.12 L97.5 269.21 L98.0 269.33 L98.5 269.46 L99.0 269.61 L99.5 269.77 L100.0 269.93 L100.5 270.11 L101.0 270.28 L101.5 270.46 L102.0 270.63 L102.5 270.79 L103.0 270.94 L103.5 271.08 L104.0 271.22 L104.5 271.36 L105.0 271.50 L105.5 271.64 L106.0 271.79 L106.5 271.93 L107.0 272.07 L107.5 272.22 L108.0 272.37 L108.5 272.52 L109.0 272.68 L109.5 272.84 L110.0 273.00 L110.5 273.16 L111.0 273.33 L111.5 273.50 L112.0 273.67 L112.5 273.83 L113.0 273.99 L113.5 274.16 L114.0 274.33 L114.5 274.50 L115.0 274.68 L115.5 274.88 L116.0 275.08 L116.5 275.30 L117.0 275.53 L117.5 275.78 L118.0 276.05 L118.5 276.34 L119.0 276.69 L119.5 277.14 L120.0 277.69 L120.5 278.31 L121.0 278.97 L121.5 279.65 L122.0 280.33 L122.5 280.97 L123.0 281.57 L123.5 282.08 L124.0 282.50 L124.5 282.84 L125.0 283.16 L125.5 283.46 L126.0 283.74 L126.5 284.01 L127.0 284.26 L127.5 284.49 L128.0 284.72 L128.5 284.95 L129.0 285.16 L129.5 285.38 L130.0 285.60 L130.5 285.83 L131.0 286.06 L131.5 286.30 L132.0 286.55 L132.5 286.80 L133.0 287.04 L133.5 287.29 L134.0 287.53 L134.5 287.77 L135.0 288.02 L135.5 288.26 L136.0 288.51 L136.5 288.75 L137.0 289.00 L137.5 289.25 L138.0 289.51 L138.5 289.77 L139.0 290.04 L139.5 290.31 L140.0 290.58 L140.5 290.86 L141.0 291.14 L141.5 291.42 L142.0 291.70 L142.5 291.99 L143.0 292.28 L143.5 292.58 L144.0 292.88 L144.5 293.18 L145.0 293.49 L145.5 293.81 L146.0 294.13 L146.5 294.46 L147.0 294.80 L147.5 295.14 L148.0 295.50 L148.5 295.86 L149.0 296.23 L149.5 296.60 L150.0 296.98 L150.5 297.37 L151.0 297.77 L151.5 298.17 L152.0 298.58 L152.5 299.00 L153.0 299.42 L153.5 299.85 L154.0 300.28 L154.5 300.72 L155.0 301.17 L155.5 301.65 L156.0 302.14 L156.5 302.65 L157.0 303.18 L157.5 303.72 L158.0 304.26 L158.5 304.81 L159.0 305.35 L159.5 305.89 L160.0 306.42 L160.5 306.93 L161.0 307.42 L161.5 307.90 L162.0 308.35 L162.5 308.76 L163.0 309.17 L163.5 309.56 L164.0 309.94 L164.5 310.31 L165.0 310.68 L165.5 311.03 L166.0 311.38 L166.5 311.72 L167.0 312.05 L167.5 312.38 L168.0 312.71 L168.5 313.04 L169.0 313.36 L169.5 313.68 L170.0 314.00 L170.5 314.32 L171.0 314.63 L171.5 314.95 L172.0 315.26 L172.5 315.56 L173.0 315.86 L173.5 316.16 L174.0 316.46 L174.5 316.75 L175.0 317.04 L175.5 317.33 L176.0 317.61 L176.5 317.89 L177.0 318.17 L177.5 318.45 L178.0 318.72 L178.5 318.99 L179.0 319.26 L179.5 319.53 L180.0 319.79 L180.5 320.06 L181.0 320.32 L181.5 320.58 L182.0 320.83 L182.5 321.08 L183.0 321.33 L183.5 321.57 L184.0 321.81 L184.5 322.04 L185.0 322.27 L185.5 322.49 L186.0 322.70 L186.5 322.92 L187.0 323.13 L187.5 323.34 L188.0 323.54 L188.5 323.74 L189.0 323.94 L189.5 324.13 L190.0 324.32 L190.5 324.51 L191.0 324.69 L191.5 324.88 L192.0 325.05 L192.5 325.23 L193.0 325.40 L193.5 325.57 L194.0 325.73 L194.5 325.89 L195.0 326.05 L195.5 326.20 L196.0 326.35 L196.5 326.50 L197.0 326.65 L197.5 326.79 L198.0 326.94 L198.5 327.08 L199.0 327.23 L199.5 327.37 L200.0 327.52 L200.5 327.67 L201.0 327.82 L201.5 327.97 L202.0 328.12 L202.5 328.27 L203.0 328.42 L203.5 328.57 L204.0 328.72 L204.5 328.87 L205.0 329.02 L205.5 329.16 L206.0 329.31 L206.5 329.46 L207.0 329.61 L207.5 329.76 L208.0 329.91 L208.5 330.06 L209.0 330.21 L209.5 330.36 L210.0 330.51 L210.5 330.67 L211.0 330.82 L211.5 330.97 L212.0 331.12 L212.5 331.28 L213.0 331.43 L213.5 331.58 L214.0 331.72 L214.5 331.87 L215.0 332.02 L215.5 332.16 L216.0 332.30 L216.5 332.44 L217.0 332.58 L217.5 332.72 L218.0 332.86 L218.5 333.00 L219.0 333.13 L219.5 333.27 L220.0 333.40 L220.5 333.52 L221.0 333.65 L221.5 333.76 L222.0 333.88 L222.5 333.99 L223.0 334.09 L223.5 334.19 L224.0 334.29 L224.5 334.38 L225.0 334.47" fill="none" stroke="#505050" stroke-width="1.2" stroke-dasharray="4.2 5.2"/>
<path d="M23.5 341.54 L24.2 341.45 L24.9 341.32 L25.6 341.01 L26.3 341.18 L27.0 341.16 L27.7 341.03 L28.4 340.67 L29.1 340.85 L29.8 340.63 L30.5 340.16 L31.2 339.98 L31.9 339.91 L32.6 339.49 L33.3 339.27 L34.0 339.09 L34.7 338.74 L35.4 338.13 L36.1 337.76 L36.8 337.34 L37.5 337.02 L38.2 336.62 L38.9 336.14 L39.6 335.90 L40.3 335.34 L41.0 334.87 L41.7 334.06 L42.4 333.65 L43.1 333.24 L43.8 332.90 L44.5 332.16 L45.2 332.06 L45.9 331.28 L46.6 330.77 L47.3 330.21 L48.0 329.74 L48.7 329.26 L49.4 328.41 L50.1 328.26 L50.8 327.22 L51.5 326.92 L52.2 326.20 L52.9 325.66 L53.6 325.30 L54.3 324.67 L55.0 324.47 L55.7 323.48 L56.4 323.20 L57.1 322.72 L57.8 322.58 L58.5 321.98 L59.2 321.28 L59.9 321.04 L60.6 320.37 L61.3 319.50 L62.0 319.32 L62.7 319.10 L63.4 318.23 L64.1 318.34 L64.8 317.62 L65.5 316.95 L66.2 316.83 L66.9 315.88 L67.6 315.69 L68.3 315.17 L69.0 315.16 L69.7 314.28 L70.4 313.67 L71.1 313.73 L71.8 313.03 L72.5 312.48 L73.2 312.03 L73.9 312.02 L74.6 311.26 L75.3 310.48 L76.0 311.04 L76.7 309.82 L77.4 309.75 L78.1 308.96 L78.8 308.53 L79.5 307.29 L80.2 306.85 L80.9 306.71 L81.6 305.91 L82.3 305.40 L83.0 305.16 L83.7 303.41 L84.4 303.45 L85.1 303.45 L85.8 302.06 L86.5 301.50 L87.2 300.85 L87.9 300.04 L88.6 299.23 L89.3 297.96 L90.0 297.62 L90.7 296.47 L91.4 296.55 L92.1 294.96 L92.8 294.61 L93.5 293.76 L94.2 293.64 L94.9 292.60 L95.6 292.21 L96.3 291.07 L97.0 290.53 L97.7 289.69 L98.4 289.41 L99.1 288.75 L99.8 287.77 L100.5 287.09 L101.2 287.09 L101.9 286.33 L102.6 285.49 L103.3 284.78 L104.0 284.08 L104.7 284.01 L105.4 283.09 L106.1 282.39 L106.8 281.76 L107.5 281.10 L108.2 280.45 L108.9 279.90 L109.6 278.27 L110.3 278.27 L111.0 277.10 L111.7 276.84 L112.4 277.02 L113.1 274.83 L113.8 274.51 L114.5 274.28 L115.2 272.77 L115.9 274.62 L116.6 272.53 L117.3 273.26 L118.0 272.00 L118.7 272.39 L119.4 271.98 L120.1 271.20 L120.8 271.46 L121.5 270.69 L122.2 270.65 L122.9 271.58 L123.6 270.20 L124.3 270.06 L125.0 271.80 L125.7 270.10 L126.4 270.34 L127.1 270.94 L127.8 269.68 L128.5 269.54 L129.2 270.74 L129.9 269.67 L130.6 269.78 L131.3 269.43 L132.0 269.89 L132.7 268.81 L133.4 269.87 L134.1 270.48 L134.8 270.65 L135.5 270.10 L136.2 270.97 L136.9 272.05 L137.6 271.27 L138.3 271.85 L139.0 271.59 L139.7 271.15 L140.4 272.76 L141.1 272.20 L141.8 272.69 L142.5 273.47 L143.2 273.82 L143.9 274.19 L144.6 275.26 L145.3 275.21 L146.0 275.63 L146.7 275.55 L147.4 277.04 L148.1 276.50 L148.8 276.60 L149.5 277.94 L150.2 279.32 L150.9 279.82 L151.6 280.94 L152.3 281.20 L153.0 281.87 L153.7 282.52 L154.4 282.73 L155.1 283.45 L155.8 284.09 L156.5 285.02 L157.2 285.16 L157.9 286.02 L158.6 286.97 L159.3 287.45 L160.0 288.00 L160.7 288.66 L161.4 288.86 L162.1 289.45 L162.8 290.31 L163.5 291.66 L164.2 292.20 L164.9 292.59 L165.6 293.34 L166.3 294.01 L167.0 293.37 L167.7 294.72 L168.4 295.90 L169.1 296.91 L169.8 296.97 L170.5 298.26 L171.2 298.80 L171.9 299.22 L172.6 299.61 L173.3 300.46 L174.0 301.64 L174.7 302.56 L175.4 303.27 L176.1 304.26 L176.8 304.96 L177.5 305.43 L178.2 306.15 L178.9 306.66 L179.6 306.49 L180.3 307.20 L181.0 308.20 L181.7 308.81 L182.4 309.07 L183.1 309.40 L183.8 310.00 L184.5 310.53 L185.2 310.89 L185.9 310.69 L186.6 311.82 L187.3 312.38 L188.0 312.63 L188.7 313.66 L189.4 313.04 L190.1 313.35 L190.8 315.21 L191.5 314.39 L192.2 314.38 L192.9 315.29 L193.6 316.05 L194.3 316.00 L195.0 316.44 L195.7 317.10 L196.4 317.76 L197.1 317.79 L197.8 318.01 L198.5 318.16 L199.2 318.80 L199.9 319.66 L200.6 319.02 L201.3 319.38 L202.0 319.90 L202.7 320.51 L203.4 320.83 L204.1 320.97 L204.8 321.26 L205.5 322.04 L206.2 322.17 L206.9 322.72 L207.6 322.70 L208.3 323.36 L209.0 323.26 L209.7 324.29 L210.4 324.11 L211.1 324.49 L211.8 325.04 L212.5 325.28 L213.2 325.55 L213.9 326.13 L214.6 326.24 L215.3 327.10 L216.0 326.86 L216.7 327.46 L217.4 327.42 L218.1 327.49 L218.8 327.65 L219.5 328.39 L220.2 328.35 L220.9 328.91 L221.6 328.96 L222.3 329.33 L223.0 329.57 L223.7 330.12 L224.4 329.95 L225.1 329.91" fill="none" stroke="#f78e1e" stroke-width="1.35" stroke-linejoin="round"/>
<text x="0" y="13" font-size="18">(a)</text>
<rect x="23.5" y="13.5" width="202.0" height="329.0" fill="none" stroke="#bcbcbc" stroke-width="1"/>
<line x1="23.5" y1="123.5" x2="225.5" y2="123.5" stroke="#bcbcbc" stroke-width="1"/>
<line x1="23.5" y1="232.5" x2="225.5" y2="232.5" stroke="#bcbcbc" stroke-width="1"/>
<line x1="23.5" y1="342.0" x2="23.5" y2="344.2" stroke="#a8a8a8" stroke-width="0.8"/>
<text x="23.5" y="355.2" font-size="12" text-anchor="middle">450</text>
<line x1="43.7" y1="342.0" x2="43.7" y2="344.2" stroke="#a8a8a8" stroke-width="0.8"/>
<line x1="63.9" y1="342.0" x2="63.9" y2="344.2" stroke="#a8a8a8" stroke-width="0.8"/>
<text x="63.9" y="355.2" font-size="12" text-anchor="middle">500</text>
<line x1="84.1" y1="342.0" x2="84.1" y2="344.2" stroke="#a8a8a8" stroke-width="0.8"/>
<line x1="104.3" y1="342.0" x2="104.3" y2="344.2" stroke="#a8a8a8" stroke-width="0.8"/>
<text x="104.3" y="355.2" font-size="12" text-anchor="middle">550</text>
<line x1="124.5" y1="342.0" x2="124.5" y2="344.2" stroke="#a8a8a8" stroke-width="0.8"/>
<line x1="144.7" y1="342.0" x2="144.7" y2="344.2" stroke="#a8a8a8" stroke-width="0.8"/>
<text x="144.7" y="355.2" font-size="12" text-anchor="middle">600</text>
<line x1="164.9" y1="342.0" x2="164.9" y2="344.2" stroke="#a8a8a8" stroke-width="0.8"/>
<line x1="185.1" y1="342.0" x2="185.1" y2="344.2" stroke="#a8a8a8" stroke-width="0.8"/>
<text x="185.1" y="355.2" font-size="12" text-anchor="middle">650</text>
<line x1="205.3" y1="342.0" x2="205.3" y2="344.2" stroke="#a8a8a8" stroke-width="0.8"/>
<line x1="225.5" y1="342.0" x2="225.5" y2="344.2" stroke="#a8a8a8" stroke-width="0.8"/>
<text x="225.5" y="355.2" font-size="12" text-anchor="middle">700</text>
<text x="127.2" y="365.3" font-size="12" text-anchor="middle">Wavelength (nm)</text>
<path d="M274.3 123.02 L275.0 122.88 L275.7 122.72 L276.4 122.66 L277.1 122.64 L277.8 122.44 L278.5 122.25 L279.2 122.00 L279.9 122.10 L280.6 122.23 L281.3 121.86 L282.0 121.69 L282.7 121.40 L283.4 121.34 L284.1 121.01 L284.8 121.09 L285.5 120.91 L286.2 120.85 L286.9 120.49 L287.6 120.49 L288.3 120.43 L289.0 120.32 L289.7 120.16 L290.4 119.99 L291.1 119.88 L291.8 119.74 L292.5 119.43 L293.2 119.25 L293.9 119.17 L294.6 119.01 L295.3 118.86 L296.0 118.51 L296.7 118.50 L297.4 118.02 L298.1 117.95 L298.8 117.76 L299.5 117.41 L300.2 117.00 L300.9 117.05 L301.6 116.62 L302.3 116.20 L303.0 116.22 L303.7 116.02 L304.4 115.58 L305.1 114.70 L305.8 114.48 L306.5 114.45 L307.2 114.02 L307.9 113.58 L308.6 113.10 L309.3 112.70 L310.0 111.97 L310.7 111.51 L311.4 111.39 L312.1 110.91 L312.8 110.64 L313.5 109.89 L314.2 109.15 L314.9 109.04 L315.6 108.29 L316.3 108.10 L317.0 107.23 L317.7 106.93 L318.4 106.16 L319.1 105.71 L319.8 104.74 L320.5 104.42 L321.2 103.37 L321.9 102.32 L322.6 101.29 L323.3 100.85 L324.0 99.33 L324.7 98.41 L325.4 97.43 L326.1 96.93 L326.8 96.10 L327.5 94.61 L328.2 93.99 L328.9 92.81 L329.6 91.74 L330.3 90.81 L331.0 89.98 L331.7 88.67 L332.4 87.18 L333.1 86.06 L333.8 85.24 L334.5 84.27 L335.2 82.88 L335.9 81.79 L336.6 80.15 L337.3 78.34 L338.0 77.66 L338.7 76.69 L339.4 75.18 L340.1 73.98 L340.8 73.35 L341.5 71.15 L342.2 71.29 L342.9 70.56 L343.6 69.45 L344.3 68.20 L345.0 67.18 L345.7 66.51 L346.4 65.16 L347.1 64.46 L347.8 64.58 L348.5 62.19 L349.2 61.75 L349.9 60.50 L350.6 60.02 L351.3 58.68 L352.0 58.23 L352.7 56.64 L353.4 54.66 L354.1 54.39 L354.8 52.78 L355.5 52.38 L356.2 52.75 L356.9 50.56 L357.6 52.06 L358.3 51.76 L359.0 50.78 L359.7 51.27 L360.4 51.65 L361.1 51.59 L361.8 50.54 L362.5 50.26 L363.2 50.68 L363.9 50.09 L364.6 49.78 L365.3 51.65 L366.0 50.85 L366.7 51.98 L367.4 52.58 L368.1 52.38 L368.8 52.26 L369.5 53.17 L370.2 52.95 L370.9 53.85 L371.6 53.70 L372.3 54.35 L373.0 54.48 L373.7 55.03 L374.4 54.58 L375.1 54.67 L375.8 55.53 L376.5 56.39 L377.2 55.93 L377.9 56.62 L378.6 57.01 L379.3 58.44 L380.0 59.02 L380.7 59.50 L381.4 58.99 L382.1 59.93 L382.8 60.29 L383.5 60.65 L384.2 60.16 L384.9 60.18 L385.6 60.95 L386.3 61.31 L387.0 62.23 L387.7 62.81 L388.4 63.53 L389.1 64.26 L389.8 65.32 L390.5 66.43 L391.2 67.11 L391.9 68.06 L392.6 68.93 L393.3 69.82 L394.0 70.33 L394.7 70.98 L395.4 70.94 L396.1 72.85 L396.8 72.30 L397.5 73.71 L398.2 74.18 L398.9 74.04 L399.6 74.79 L400.3 76.02 L401.0 75.68 L401.7 77.37 L402.4 77.60 L403.1 78.93 L403.8 79.04 L404.5 80.27 L405.2 81.51 L405.9 81.83 L406.6 82.32 L407.3 83.12 L408.0 83.01 L408.7 84.46 L409.4 85.08 L410.1 85.93 L410.8 86.37 L411.5 87.72 L412.2 87.74 L412.9 88.47 L413.6 89.02 L414.3 89.98 L415.0 90.82 L415.7 90.78 L416.4 91.08 L417.1 92.18 L417.8 92.83 L418.5 93.43 L419.2 94.09 L419.9 94.97 L420.6 95.22 L421.3 95.27 L422.0 96.25 L422.7 96.77 L423.4 97.30 L424.1 98.05 L424.8 97.89 L425.5 98.67 L426.2 98.93 L426.9 99.64 L427.6 100.10 L428.3 100.10 L429.0 101.07 L429.7 101.17 L430.4 102.30 L431.1 102.55 L431.8 103.23 L432.5 103.12 L433.2 103.40 L433.9 104.04 L434.6 104.36 L435.3 104.76 L436.0 105.28 L436.7 105.40 L437.4 105.79 L438.1 106.42 L438.8 106.19 L439.5 106.91 L440.2 107.37 L440.9 107.91 L441.6 107.77 L442.3 107.94 L443.0 108.76 L443.7 108.75 L444.4 109.11 L445.1 109.42 L445.8 109.68 L446.5 110.00 L447.2 110.32 L447.9 110.27 L448.6 110.64 L449.3 111.23 L450.0 111.29 L450.7 111.40 L451.4 111.59 L452.1 111.89 L452.8 111.96 L453.5 112.30 L454.2 112.32 L454.9 112.57 L455.6 112.71 L456.3 113.31 L457.0 113.43 L457.7 113.40 L458.4 113.72 L459.1 113.96 L459.8 113.99 L460.5 114.58 L461.2 114.61 L461.9 115.06 L462.6 115.15 L463.3 115.59 L464.0 115.32 L464.7 115.76 L465.4 115.94 L466.1 115.85 L466.8 116.69 L467.5 116.39 L468.2 116.56 L468.9 116.69 L469.6 116.58 L470.3 116.69 L471.0 116.93 L471.7 117.32 L472.4 117.05 L473.1 117.39 L473.8 117.47 L473.8 123.0 L274.3 123.0 Z" fill="url(#g4)" stroke="none"/>
<path d="M274.3 121.20 L274.8 121.02 L275.3 120.81 L275.8 120.55 L276.3 120.25 L276.8 119.91 L277.3 119.55 L277.8 119.15 L278.3 118.73 L278.8 118.29 L279.3 117.82 L279.8 117.33 L280.3 116.83 L280.8 116.32 L281.3 115.79 L281.8 115.21 L282.3 114.55 L282.8 113.83 L283.3 113.06 L283.8 112.24 L284.3 111.38 L284.8 110.49 L285.3 109.58 L285.8 108.65 L286.3 107.73 L286.8 106.81 L287.3 105.90 L287.8 104.99 L288.3 104.05 L288.8 103.09 L289.3 102.11 L289.8 101.11 L290.3 100.11 L290.8 99.09 L291.3 98.07 L291.8 97.04 L292.3 96.02 L292.8 95.01 L293.3 94.00 L293.8 93.00 L294.3 92.01 L294.8 91.01 L295.3 90.01 L295.8 89.01 L296.3 88.01 L296.8 87.01 L297.3 86.01 L297.8 85.01 L298.3 84.01 L298.8 83.01 L299.3 82.00 L299.8 81.00 L300.3 79.96 L300.8 78.89 L301.3 77.81 L301.8 76.72 L302.3 75.63 L302.8 74.55 L303.3 73.50 L303.8 72.48 L304.3 71.51 L304.8 70.59 L305.3 69.73 L305.8 68.95 L306.3 68.21 L306.8 67.48 L307.3 66.78 L307.8 66.10 L308.3 65.43 L308.8 64.79 L309.3 64.17 L309.8 63.57 L310.3 62.99 L310.8 62.44 L311.3 61.90 L311.8 61.39 L312.3 60.90 L312.8 60.43 L313.3 59.99 L313.8 59.56 L314.3 59.14 L314.8 58.73 L315.3 58.32 L315.8 57.93 L316.3 57.55 L316.8 57.18 L317.3 56.82 L317.8 56.47 L318.3 56.13 L318.8 55.80 L319.3 55.49 L319.8 55.19 L320.3 54.91 L320.8 54.64 L321.3 54.39 L321.8 54.15 L322.3 53.93 L322.8 53.72 L323.3 53.51 L323.8 53.31 L324.3 53.10 L324.8 52.90 L325.3 52.69 L325.8 52.49 L326.3 52.30 L326.8 52.11 L327.3 51.93 L327.8 51.76 L328.3 51.59 L328.8 51.44 L329.3 51.29 L329.8 51.16 L330.3 51.05 L330.8 50.95 L331.3 50.86 L331.8 50.79 L332.3 50.74 L332.8 50.71 L333.3 50.70 L333.8 50.70 L334.3 50.71 L334.8 50.73 L335.3 50.75 L335.8 50.78 L336.3 50.81 L336.8 50.85 L337.3 50.89 L337.8 50.93 L338.3 50.98 L338.8 51.03 L339.3 51.09 L339.8 51.15 L340.3 51.21 L340.8 51.27 L341.3 51.34 L341.8 51.40 L342.3 51.47 L342.8 51.54 L343.3 51.63 L343.8 51.73 L344.3 51.84 L344.8 51.97 L345.3 52.11 L345.8 52.25 L346.3 52.41 L346.8 52.57 L347.3 52.74 L347.8 52.92 L348.3 53.10 L348.8 53.28 L349.3 53.47 L349.8 53.65 L350.3 53.84 L350.8 54.03 L351.3 54.23 L351.8 54.44 L352.3 54.66 L352.8 54.88 L353.3 55.11 L353.8 55.35 L354.3 55.60 L354.8 55.85 L355.3 56.11 L355.8 56.37 L356.3 56.64 L356.8 56.91 L357.3 57.19 L357.8 57.47 L358.3 57.76 L358.8 58.05 L359.3 58.34 L359.8 58.64 L360.3 58.95 L360.8 59.28 L361.3 59.61 L361.8 59.96 L362.3 60.31 L362.8 60.67 L363.3 61.03 L363.8 61.40 L364.3 61.78 L364.8 62.15 L365.3 62.53 L365.8 62.91 L366.3 63.28 L366.8 63.65 L367.3 64.02 L367.8 64.39 L368.3 64.76 L368.8 65.13 L369.3 65.50 L369.8 65.88 L370.3 66.26 L370.8 66.64 L371.3 67.04 L371.8 67.44 L372.3 67.85 L372.8 68.27 L373.3 68.69 L373.8 69.13 L374.3 69.57 L374.8 70.02 L375.3 70.47 L375.8 70.92 L376.3 71.38 L376.8 71.84 L377.3 72.30 L377.8 72.76 L378.3 73.22 L378.8 73.68 L379.3 74.14 L379.8 74.59 L380.3 75.04 L380.8 75.50 L381.3 75.96 L381.8 76.43 L382.3 76.89 L382.8 77.35 L383.3 77.82 L383.8 78.28 L384.3 78.74 L384.8 79.20 L385.3 79.65 L385.8 80.10 L386.3 80.54 L386.8 80.97 L387.3 81.40 L387.8 81.82 L388.3 82.23 L388.8 82.64 L389.3 83.04 L389.8 83.44 L390.3 83.84 L390.8 84.23 L391.3 84.62 L391.8 85.01 L392.3 85.39 L392.8 85.78 L393.3 86.17 L393.8 86.56 L394.3 86.95 L394.8 87.34 L395.3 87.74 L395.8 88.14 L396.3 88.54 L396.8 88.94 L397.3 89.34 L397.8 89.75 L398.3 90.15 L398.8 90.55 L399.3 90.95 L399.8 91.35 L400.3 91.75 L400.8 92.14 L401.3 92.53 L401.8 92.92 L402.3 93.30 L402.8 93.67 L403.3 94.05 L403.8 94.42 L404.3 94.79 L404.8 95.16 L405.3 95.53 L405.8 95.89 L406.3 96.25 L406.8 96.61 L407.3 96.96 L407.8 97.31 L408.3 97.66 L408.8 98.00 L409.3 98.34 L409.8 98.67 L410.3 99.00 L410.8 99.32 L411.3 99.64 L411.8 99.96 L412.3 100.27 L412.8 100.58 L413.3 100.89 L413.8 101.19 L414.3 101.49 L414.8 101.79 L415.3 102.08 L415.8 102.37 L416.3 102.65 L416.8 102.94 L417.3 103.22 L417.8 103.49 L418.3 103.76 L418.8 104.03 L419.3 104.30 L419.8 104.56 L420.3 104.83 L420.8 105.08 L421.3 105.34 L421.8 105.59 L422.3 105.84 L422.8 106.09 L423.3 106.33 L423.8 106.57 L424.3 106.81 L424.8 107.04 L425.3 107.27 L425.8 107.49 L426.3 107.71 L426.8 107.92 L427.3 108.13 L427.8 108.33 L428.3 108.54 L428.8 108.74 L429.3 108.93 L429.8 109.13 L430.3 109.32 L430.8 109.52 L431.3 109.71 L431.8 109.91 L432.3 110.10 L432.8 110.30 L433.3 110.50 L433.8 110.70 L434.3 110.91 L434.8 111.12 L435.3 111.33 L435.8 111.54 L436.3 111.75 L436.8 111.96 L437.3 112.17 L437.8 112.37 L438.3 112.58 L438.8 112.78 L439.3 112.97 L439.8 113.17 L440.3 113.35 L440.8 113.53 L441.3 113.70 L441.8 113.87 L442.3 114.04 L442.8 114.21 L443.3 114.38 L443.8 114.54 L444.3 114.70 L444.8 114.85 L445.3 115.01 L445.8 115.15 L446.3 115.30 L446.8 115.44 L447.3 115.57 L447.8 115.70 L448.3 115.83 L448.8 115.95 L449.3 116.06 L449.8 116.17 L450.3 116.27 L450.8 116.38 L451.3 116.47 L451.8 116.57 L452.3 116.66 L452.8 116.75 L453.3 116.85 L453.8 116.94 L454.3 117.03 L454.8 117.12 L455.3 117.21 L455.8 117.30 L456.3 117.40 L456.8 117.50 L457.3 117.60 L457.8 117.71 L458.3 117.81 L458.8 117.92 L459.3 118.03 L459.8 118.13 L460.3 118.24 L460.8 118.34 L461.3 118.44 L461.8 118.54 L462.3 118.63 L462.8 118.72 L463.3 118.80 L463.8 118.87 L464.3 118.94 L464.8 119.00 L465.3 119.06 L465.8 119.12 L466.3 119.17 L466.8 119.23 L467.3 119.28 L467.8 119.32 L468.3 119.37 L468.8 119.42 L469.3 119.47 L469.8 119.51 L470.3 119.56 L470.8 119.61 L471.3 119.67 L471.8 119.72 L472.3 119.78 L472.8 119.84 L473.3 119.89 L473.8 119.95" fill="none" stroke="#505050" stroke-width="1.2" stroke-dasharray="4.2 5.2"/>
<path d="M274.3 123.02 L275.0 122.88 L275.7 122.72 L276.4 122.66 L277.1 122.64 L277.8 122.44 L278.5 122.25 L279.2 122.00 L279.9 122.10 L280.6 122.23 L281.3 121.86 L282.0 121.69 L282.7 121.40 L283.4 121.34 L284.1 121.01 L284.8 121.09 L285.5 120.91 L286.2 120.85 L286.9 120.49 L287.6 120.49 L288.3 120.43 L289.0 120.32 L289.7 120.16 L290.4 119.99 L291.1 119.88 L291.8 119.74 L292.5 119.43 L293.2 119.25 L293.9 119.17 L294.6 119.01 L295.3 118.86 L296.0 118.51 L296.7 118.50 L297.4 118.02 L298.1 117.95 L298.8 117.76 L299.5 117.41 L300.2 117.00 L300.9 117.05 L301.6 116.62 L302.3 116.20 L303.0 116.22 L303.7 116.02 L304.4 115.58 L305.1 114.70 L305.8 114.48 L306.5 114.45 L307.2 114.02 L307.9 113.58 L308.6 113.10 L309.3 112.70 L310.0 111.97 L310.7 111.51 L311.4 111.39 L312.1 110.91 L312.8 110.64 L313.5 109.89 L314.2 109.15 L314.9 109.04 L315.6 108.29 L316.3 108.10 L317.0 107.23 L317.7 106.93 L318.4 106.16 L319.1 105.71 L319.8 104.74 L320.5 104.42 L321.2 103.37 L321.9 102.32 L322.6 101.29 L323.3 100.85 L324.0 99.33 L324.7 98.41 L325.4 97.43 L326.1 96.93 L326.8 96.10 L327.5 94.61 L328.2 93.99 L328.9 92.81 L329.6 91.74 L330.3 90.81 L331.0 89.98 L331.7 88.67 L332.4 87.18 L333.1 86.06 L333.8 85.24 L334.5 84.27 L335.2 82.88 L335.9 81.79 L336.6 80.15 L337.3 78.34 L338.0 77.66 L338.7 76.69 L339.4 75.18 L340.1 73.98 L340.8 73.35 L341.5 71.15 L342.2 71.29 L342.9 70.56 L343.6 69.45 L344.3 68.20 L345.0 67.18 L345.7 66.51 L346.4 65.16 L347.1 64.46 L347.8 64.58 L348.5 62.19 L349.2 61.75 L349.9 60.50 L350.6 60.02 L351.3 58.68 L352.0 58.23 L352.7 56.64 L353.4 54.66 L354.1 54.39 L354.8 52.78 L355.5 52.38 L356.2 52.75 L356.9 50.56 L357.6 52.06 L358.3 51.76 L359.0 50.78 L359.7 51.27 L360.4 51.65 L361.1 51.59 L361.8 50.54 L362.5 50.26 L363.2 50.68 L363.9 50.09 L364.6 49.78 L365.3 51.65 L366.0 50.85 L366.7 51.98 L367.4 52.58 L368.1 52.38 L368.8 52.26 L369.5 53.17 L370.2 52.95 L370.9 53.85 L371.6 53.70 L372.3 54.35 L373.0 54.48 L373.7 55.03 L374.4 54.58 L375.1 54.67 L375.8 55.53 L376.5 56.39 L377.2 55.93 L377.9 56.62 L378.6 57.01 L379.3 58.44 L380.0 59.02 L380.7 59.50 L381.4 58.99 L382.1 59.93 L382.8 60.29 L383.5 60.65 L384.2 60.16 L384.9 60.18 L385.6 60.95 L386.3 61.31 L387.0 62.23 L387.7 62.81 L388.4 63.53 L389.1 64.26 L389.8 65.32 L390.5 66.43 L391.2 67.11 L391.9 68.06 L392.6 68.93 L393.3 69.82 L394.0 70.33 L394.7 70.98 L395.4 70.94 L396.1 72.85 L396.8 72.30 L397.5 73.71 L398.2 74.18 L398.9 74.04 L399.6 74.79 L400.3 76.02 L401.0 75.68 L401.7 77.37 L402.4 77.60 L403.1 78.93 L403.8 79.04 L404.5 80.27 L405.2 81.51 L405.9 81.83 L406.6 82.32 L407.3 83.12 L408.0 83.01 L408.7 84.46 L409.4 85.08 L410.1 85.93 L410.8 86.37 L411.5 87.72 L412.2 87.74 L412.9 88.47 L413.6 89.02 L414.3 89.98 L415.0 90.82 L415.7 90.78 L416.4 91.08 L417.1 92.18 L417.8 92.83 L418.5 93.43 L419.2 94.09 L419.9 94.97 L420.6 95.22 L421.3 95.27 L422.0 96.25 L422.7 96.77 L423.4 97.30 L424.1 98.05 L424.8 97.89 L425.5 98.67 L426.2 98.93 L426.9 99.64 L427.6 100.10 L428.3 100.10 L429.0 101.07 L429.7 101.17 L430.4 102.30 L431.1 102.55 L431.8 103.23 L432.5 103.12 L433.2 103.40 L433.9 104.04 L434.6 104.36 L435.3 104.76 L436.0 105.28 L436.7 105.40 L437.4 105.79 L438.1 106.42 L438.8 106.19 L439.5 106.91 L440.2 107.37 L440.9 107.91 L441.6 107.77 L442.3 107.94 L443.0 108.76 L443.7 108.75 L444.4 109.11 L445.1 109.42 L445.8 109.68 L446.5 110.00 L447.2 110.32 L447.9 110.27 L448.6 110.64 L449.3 111.23 L450.0 111.29 L450.7 111.40 L451.4 111.59 L452.1 111.89 L452.8 111.96 L453.5 112.30 L454.2 112.32 L454.9 112.57 L455.6 112.71 L456.3 113.31 L457.0 113.43 L457.7 113.40 L458.4 113.72 L459.1 113.96 L459.8 113.99 L460.5 114.58 L461.2 114.61 L461.9 115.06 L462.6 115.15 L463.3 115.59 L464.0 115.32 L464.7 115.76 L465.4 115.94 L466.1 115.85 L466.8 116.69 L467.5 116.39 L468.2 116.56 L468.9 116.69 L469.6 116.58 L470.3 116.69 L471.0 116.93 L471.7 117.32 L472.4 117.05 L473.1 117.39 L473.8 117.47" fill="none" stroke="#1ca4e6" stroke-width="1.35" stroke-linejoin="round"/>
<path d="M274.3 227.59 L275.0 226.74 L275.7 225.39 L276.4 224.07 L277.1 222.98 L277.8 221.69 L278.5 220.43 L279.2 219.43 L279.9 218.29 L280.6 217.16 L281.3 215.89 L282.0 215.37 L282.7 213.74 L283.4 212.20 L284.1 211.12 L284.8 209.74 L285.5 208.49 L286.2 206.51 L286.9 205.79 L287.6 203.96 L288.3 202.48 L289.0 200.75 L289.7 198.72 L290.4 197.73 L291.1 196.11 L291.8 194.44 L292.5 192.57 L293.2 191.10 L293.9 189.27 L294.6 187.67 L295.3 185.60 L296.0 184.53 L296.7 183.07 L297.4 181.76 L298.1 180.26 L298.8 179.58 L299.5 177.07 L300.2 175.80 L300.9 174.82 L301.6 173.39 L302.3 172.63 L303.0 172.12 L303.7 171.86 L304.4 170.24 L305.1 170.65 L305.8 170.12 L306.5 169.11 L307.2 169.41 L307.9 168.78 L308.6 168.24 L309.3 166.67 L310.0 166.79 L310.7 166.75 L311.4 165.95 L312.1 165.01 L312.8 164.06 L313.5 164.43 L314.2 163.19 L314.9 163.06 L315.6 162.46 L316.3 162.56 L317.0 164.13 L317.7 163.34 L318.4 162.13 L319.1 163.69 L319.8 162.74 L320.5 162.71 L321.2 163.38 L321.9 162.87 L322.6 163.33 L323.3 161.42 L324.0 162.20 L324.7 161.05 L325.4 162.35 L326.1 161.02 L326.8 162.11 L327.5 160.29 L328.2 161.18 L328.9 161.20 L329.6 162.20 L330.3 161.28 L331.0 163.15 L331.7 162.13 L332.4 161.55 L333.1 162.37 L333.8 162.44 L334.5 163.51 L335.2 162.96 L335.9 164.18 L336.6 164.62 L337.3 164.65 L338.0 165.23 L338.7 165.67 L339.4 166.84 L340.1 167.28 L340.8 168.01 L341.5 167.83 L342.2 169.29 L342.9 169.94 L343.6 169.61 L344.3 171.69 L345.0 171.32 L345.7 173.24 L346.4 173.89 L347.1 173.80 L347.8 174.23 L348.5 175.59 L349.2 176.50 L349.9 176.70 L350.6 176.99 L351.3 178.00 L352.0 178.18 L352.7 178.89 L353.4 179.26 L354.1 180.14 L354.8 180.64 L355.5 180.60 L356.2 181.48 L356.9 181.98 L357.6 183.52 L358.3 182.35 L359.0 183.89 L359.7 184.35 L360.4 185.33 L361.1 185.88 L361.8 186.22 L362.5 187.55 L363.2 187.55 L363.9 188.57 L364.6 189.78 L365.3 189.86 L366.0 190.42 L366.7 191.00 L367.4 192.02 L368.1 191.51 L368.8 193.19 L369.5 193.34 L370.2 194.38 L370.9 194.98 L371.6 195.27 L372.3 196.67 L373.0 197.09 L373.7 197.14 L374.4 197.96 L375.1 198.58 L375.8 199.00 L376.5 199.65 L377.2 200.38 L377.9 201.58 L378.6 201.33 L379.3 201.71 L380.0 203.10 L380.7 203.22 L381.4 204.32 L382.1 204.11 L382.8 205.68 L383.5 205.06 L384.2 205.73 L384.9 206.75 L385.6 207.61 L386.3 207.86 L387.0 208.44 L387.7 208.49 L388.4 208.89 L389.1 209.91 L389.8 210.36 L390.5 210.88 L391.2 211.26 L391.9 211.48 L392.6 211.23 L393.3 212.19 L394.0 212.81 L394.7 212.48 L395.4 212.89 L396.1 213.62 L396.8 214.23 L397.5 214.64 L398.2 214.48 L398.9 215.28 L399.6 215.31 L400.3 215.63 L401.0 216.47 L401.7 216.78 L402.4 217.10 L403.1 217.48 L403.8 217.38 L404.5 217.66 L405.2 218.59 L405.9 218.40 L406.6 218.66 L407.3 218.67 L408.0 219.15 L408.7 219.53 L409.4 219.84 L410.1 219.91 L410.8 220.17 L411.5 220.66 L412.2 220.85 L412.9 221.13 L413.6 221.27 L414.3 221.58 L415.0 222.18 L415.7 222.37 L416.4 222.47 L417.1 222.78 L417.8 223.03 L418.5 223.39 L419.2 223.53 L419.9 223.81 L420.6 223.93 L421.3 224.33 L422.0 224.53 L422.7 224.56 L423.4 224.83 L424.1 225.15 L424.8 225.15 L425.5 225.56 L426.2 224.97 L426.9 225.65 L427.6 225.73 L428.3 226.15 L429.0 226.11 L429.7 226.25 L430.4 226.33 L431.1 226.43 L431.8 226.68 L432.5 226.99 L433.2 227.03 L433.9 226.92 L434.6 227.25 L435.3 227.28 L436.0 227.61 L436.7 227.42 L437.4 227.68 L438.1 227.46 L438.8 227.57 L439.5 228.01 L440.2 227.93 L440.9 227.91 L441.6 228.24 L442.3 228.29 L443.0 228.22 L443.7 228.26 L444.4 228.62 L445.1 228.55 L445.8 228.45 L446.5 228.69 L447.2 228.50 L447.9 228.74 L448.6 228.81 L449.3 228.99 L450.0 229.19 L450.7 229.09 L451.4 229.15 L452.1 229.02 L452.8 229.06 L453.5 229.31 L454.2 229.26 L454.9 229.54 L455.6 229.30 L456.3 229.39 L457.0 229.60 L457.7 229.66 L458.4 229.77 L459.1 229.50 L459.8 229.57 L460.5 229.74 L461.2 229.62 L461.9 229.86 L462.6 229.98 L463.3 229.83 L464.0 230.11 L464.7 230.01 L465.4 230.11 L466.1 230.11 L466.8 230.12 L467.5 230.22 L468.2 230.43 L468.9 229.94 L469.6 230.37 L470.3 230.19 L471.0 230.49 L471.7 230.58 L472.4 230.37 L473.1 230.53 L473.8 230.53 L473.8 233.0 L274.3 233.0 Z" fill="url(#g5)" stroke="none"/>
<path d="M274.3 201.60 L274.8 200.96 L275.3 200.31 L275.8 199.67 L276.3 199.02 L276.8 198.36 L277.3 197.71 L277.8 197.05 L278.3 196.39 L278.8 195.72 L279.3 195.06 L279.8 194.39 L280.3 193.72 L280.8 193.04 L281.3 192.36 L281.8 191.68 L282.3 191.00 L282.8 190.32 L283.3 189.63 L283.8 188.94 L284.3 188.24 L284.8 187.55 L285.3 186.85 L285.8 186.14 L286.3 185.43 L286.8 184.72 L287.3 184.00 L287.8 183.26 L288.3 182.50 L288.8 181.70 L289.3 180.90 L289.8 180.08 L290.3 179.25 L290.8 178.43 L291.3 177.62 L291.8 176.82 L292.3 176.04 L292.8 175.30 L293.3 174.58 L293.8 173.91 L294.3 173.28 L294.8 172.71 L295.3 172.19 L295.8 171.69 L296.3 171.21 L296.8 170.74 L297.3 170.28 L297.8 169.84 L298.3 169.42 L298.8 169.01 L299.3 168.62 L299.8 168.25 L300.3 167.89 L300.8 167.55 L301.3 167.22 L301.8 166.91 L302.3 166.62 L302.8 166.35 L303.3 166.08 L303.8 165.83 L304.3 165.58 L304.8 165.34 L305.3 165.11 L305.8 164.89 L306.3 164.67 L306.8 164.47 L307.3 164.27 L307.8 164.09 L308.3 163.91 L308.8 163.74 L309.3 163.58 L309.8 163.44 L310.3 163.30 L310.8 163.17 L311.3 163.05 L311.8 162.94 L312.3 162.84 L312.8 162.73 L313.3 162.64 L313.8 162.55 L314.3 162.46 L314.8 162.37 L315.3 162.28 L315.8 162.20 L316.3 162.11 L316.8 162.02 L317.3 161.93 L317.8 161.84 L318.3 161.74 L318.8 161.63 L319.3 161.51 L319.8 161.38 L320.3 161.25 L320.8 161.12 L321.3 160.99 L321.8 160.86 L322.3 160.74 L322.8 160.63 L323.3 160.53 L323.8 160.45 L324.3 160.38 L324.8 160.33 L325.3 160.30 L325.8 160.30 L326.3 160.32 L326.8 160.35 L327.3 160.41 L327.8 160.47 L328.3 160.55 L328.8 160.64 L329.3 160.75 L329.8 160.86 L330.3 160.98 L330.8 161.11 L331.3 161.24 L331.8 161.38 L332.3 161.52 L332.8 161.66 L333.3 161.80 L333.8 161.95 L334.3 162.11 L334.8 162.30 L335.3 162.50 L335.8 162.71 L336.3 162.94 L336.8 163.18 L337.3 163.43 L337.8 163.69 L338.3 163.97 L338.8 164.25 L339.3 164.55 L339.8 164.85 L340.3 165.16 L340.8 165.47 L341.3 165.80 L341.8 166.16 L342.3 166.56 L342.8 166.99 L343.3 167.44 L343.8 167.92 L344.3 168.41 L344.8 168.91 L345.3 169.41 L345.8 169.91 L346.3 170.41 L346.8 170.90 L347.3 171.37 L347.8 171.83 L348.3 172.26 L348.8 172.66 L349.3 173.04 L349.8 173.41 L350.3 173.76 L350.8 174.11 L351.3 174.44 L351.8 174.78 L352.3 175.11 L352.8 175.43 L353.3 175.76 L353.8 176.10 L354.3 176.44 L354.8 176.79 L355.3 177.14 L355.8 177.51 L356.3 177.90 L356.8 178.30 L357.3 178.71 L357.8 179.13 L358.3 179.56 L358.8 180.00 L359.3 180.44 L359.8 180.89 L360.3 181.35 L360.8 181.81 L361.3 182.28 L361.8 182.74 L362.3 183.21 L362.8 183.68 L363.3 184.15 L363.8 184.61 L364.3 185.08 L364.8 185.55 L365.3 186.04 L365.8 186.52 L366.3 187.02 L366.8 187.51 L367.3 188.01 L367.8 188.51 L368.3 189.01 L368.8 189.50 L369.3 189.99 L369.8 190.48 L370.3 190.95 L370.8 191.42 L371.3 191.88 L371.8 192.33 L372.3 192.76 L372.8 193.18 L373.3 193.60 L373.8 194.00 L374.3 194.41 L374.8 194.80 L375.3 195.19 L375.8 195.58 L376.3 195.96 L376.8 196.35 L377.3 196.73 L377.8 197.12 L378.3 197.50 L378.8 197.89 L379.3 198.28 L379.8 198.68 L380.3 199.08 L380.8 199.49 L381.3 199.89 L381.8 200.30 L382.3 200.71 L382.8 201.12 L383.3 201.53 L383.8 201.94 L384.3 202.35 L384.8 202.75 L385.3 203.15 L385.8 203.55 L386.3 203.94 L386.8 204.32 L387.3 204.70 L387.8 205.07 L388.3 205.44 L388.8 205.81 L389.3 206.18 L389.8 206.54 L390.3 206.90 L390.8 207.25 L391.3 207.60 L391.8 207.95 L392.3 208.30 L392.8 208.64 L393.3 208.98 L393.8 209.31 L394.3 209.64 L394.8 209.97 L395.3 210.29 L395.8 210.61 L396.3 210.93 L396.8 211.24 L397.3 211.55 L397.8 211.86 L398.3 212.17 L398.8 212.47 L399.3 212.77 L399.8 213.06 L400.3 213.35 L400.8 213.64 L401.3 213.92 L401.8 214.20 L402.3 214.48 L402.8 214.75 L403.3 215.02 L403.8 215.29 L404.3 215.56 L404.8 215.82 L405.3 216.08 L405.8 216.34 L406.3 216.59 L406.8 216.84 L407.3 217.09 L407.8 217.34 L408.3 217.58 L408.8 217.81 L409.3 218.05 L409.8 218.27 L410.3 218.50 L410.8 218.72 L411.3 218.94 L411.8 219.16 L412.3 219.37 L412.8 219.59 L413.3 219.80 L413.8 220.00 L414.3 220.21 L414.8 220.41 L415.3 220.60 L415.8 220.80 L416.3 220.99 L416.8 221.17 L417.3 221.35 L417.8 221.53 L418.3 221.70 L418.8 221.87 L419.3 222.04 L419.8 222.20 L420.3 222.36 L420.8 222.52 L421.3 222.68 L421.8 222.83 L422.3 222.98 L422.8 223.12 L423.3 223.27 L423.8 223.41 L424.3 223.55 L424.8 223.69 L425.3 223.82 L425.8 223.95 L426.3 224.08 L426.8 224.21 L427.3 224.34 L427.8 224.47 L428.3 224.59 L428.8 224.72 L429.3 224.84 L429.8 224.96 L430.3 225.07 L430.8 225.19 L431.3 225.30 L431.8 225.40 L432.3 225.51 L432.8 225.60 L433.3 225.70 L433.8 225.79 L434.3 225.88 L434.8 225.97 L435.3 226.05 L435.8 226.13 L436.3 226.21 L436.8 226.28 L437.3 226.36 L437.8 226.43 L438.3 226.50 L438.8 226.58 L439.3 226.65 L439.8 226.72 L440.3 226.80 L440.8 226.87 L441.3 226.95 L441.8 227.02 L442.3 227.10 L442.8 227.17 L443.3 227.25 L443.8 227.32 L444.3 227.40 L444.8 227.47 L445.3 227.54 L445.8 227.62 L446.3 227.69 L446.8 227.76 L447.3 227.83 L447.8 227.89 L448.3 227.96 L448.8 228.03 L449.3 228.09 L449.8 228.15 L450.3 228.22 L450.8 228.28 L451.3 228.34 L451.8 228.41 L452.3 228.47 L452.8 228.53 L453.3 228.58 L453.8 228.64 L454.3 228.70 L454.8 228.75 L455.3 228.80 L455.8 228.85 L456.3 228.90 L456.8 228.95 L457.3 228.99 L457.8 229.03 L458.3 229.08 L458.8 229.12 L459.3 229.16 L459.8 229.19 L460.3 229.23 L460.8 229.27 L461.3 229.31 L461.8 229.34 L462.3 229.38 L462.8 229.41 L463.3 229.45 L463.8 229.49 L464.3 229.52 L464.8 229.56 L465.3 229.59 L465.8 229.63 L466.3 229.67 L466.8 229.70 L467.3 229.74 L467.8 229.77 L468.3 229.81 L468.8 229.84 L469.3 229.87 L469.8 229.90 L470.3 229.93 L470.8 229.96 L471.3 229.99 L471.8 230.01 L472.3 230.03 L472.8 230.05 L473.3 230.07 L473.8 230.09" fill="none" stroke="#505050" stroke-width="1.2" stroke-dasharray="4.2 5.2"/>
<path d="M274.3 227.59 L275.0 226.74 L275.7 225.39 L276.4 224.07 L277.1 222.98 L277.8 221.69 L278.5 220.43 L279.2 219.43 L279.9 218.29 L280.6 217.16 L281.3 215.89 L282.0 215.37 L282.7 213.74 L283.4 212.20 L284.1 211.12 L284.8 209.74 L285.5 208.49 L286.2 206.51 L286.9 205.79 L287.6 203.96 L288.3 202.48 L289.0 200.75 L289.7 198.72 L290.4 197.73 L291.1 196.11 L291.8 194.44 L292.5 192.57 L293.2 191.10 L293.9 189.27 L294.6 187.67 L295.3 185.60 L296.0 184.53 L296.7 183.07 L297.4 181.76 L298.1 180.26 L298.8 179.58 L299.5 177.07 L300.2 175.80 L300.9 174.82 L301.6 173.39 L302.3 172.63 L303.0 172.12 L303.7 171.86 L304.4 170.24 L305.1 170.65 L305.8 170.12 L306.5 169.11 L307.2 169.41 L307.9 168.78 L308.6 168.24 L309.3 166.67 L310.0 166.79 L310.7 166.75 L311.4 165.95 L312.1 165.01 L312.8 164.06 L313.5 164.43 L314.2 163.19 L314.9 163.06 L315.6 162.46 L316.3 162.56 L317.0 164.13 L317.7 163.34 L318.4 162.13 L319.1 163.69 L319.8 162.74 L320.5 162.71 L321.2 163.38 L321.9 162.87 L322.6 163.33 L323.3 161.42 L324.0 162.20 L324.7 161.05 L325.4 162.35 L326.1 161.02 L326.8 162.11 L327.5 160.29 L328.2 161.18 L328.9 161.20 L329.6 162.20 L330.3 161.28 L331.0 163.15 L331.7 162.13 L332.4 161.55 L333.1 162.37 L333.8 162.44 L334.5 163.51 L335.2 162.96 L335.9 164.18 L336.6 164.62 L337.3 164.65 L338.0 165.23 L338.7 165.67 L339.4 166.84 L340.1 167.28 L340.8 168.01 L341.5 167.83 L342.2 169.29 L342.9 169.94 L343.6 169.61 L344.3 171.69 L345.0 171.32 L345.7 173.24 L346.4 173.89 L347.1 173.80 L347.8 174.23 L348.5 175.59 L349.2 176.50 L349.9 176.70 L350.6 176.99 L351.3 178.00 L352.0 178.18 L352.7 178.89 L353.4 179.26 L354.1 180.14 L354.8 180.64 L355.5 180.60 L356.2 181.48 L356.9 181.98 L357.6 183.52 L358.3 182.35 L359.0 183.89 L359.7 184.35 L360.4 185.33 L361.1 185.88 L361.8 186.22 L362.5 187.55 L363.2 187.55 L363.9 188.57 L364.6 189.78 L365.3 189.86 L366.0 190.42 L366.7 191.00 L367.4 192.02 L368.1 191.51 L368.8 193.19 L369.5 193.34 L370.2 194.38 L370.9 194.98 L371.6 195.27 L372.3 196.67 L373.0 197.09 L373.7 197.14 L374.4 197.96 L375.1 198.58 L375.8 199.00 L376.5 199.65 L377.2 200.38 L377.9 201.58 L378.6 201.33 L379.3 201.71 L380.0 203.10 L380.7 203.22 L381.4 204.32 L382.1 204.11 L382.8 205.68 L383.5 205.06 L384.2 205.73 L384.9 206.75 L385.6 207.61 L386.3 207.86 L387.0 208.44 L387.7 208.49 L388.4 208.89 L389.1 209.91 L389.8 210.36 L390.5 210.88 L391.2 211.26 L391.9 211.48 L392.6 211.23 L393.3 212.19 L394.0 212.81 L394.7 212.48 L395.4 212.89 L396.1 213.62 L396.8 214.23 L397.5 214.64 L398.2 214.48 L398.9 215.28 L399.6 215.31 L400.3 215.63 L401.0 216.47 L401.7 216.78 L402.4 217.10 L403.1 217.48 L403.8 217.38 L404.5 217.66 L405.2 218.59 L405.9 218.40 L406.6 218.66 L407.3 218.67 L408.0 219.15 L408.7 219.53 L409.4 219.84 L410.1 219.91 L410.8 220.17 L411.5 220.66 L412.2 220.85 L412.9 221.13 L413.6 221.27 L414.3 221.58 L415.0 222.18 L415.7 222.37 L416.4 222.47 L417.1 222.78 L417.8 223.03 L418.5 223.39 L419.2 223.53 L419.9 223.81 L420.6 223.93 L421.3 224.33 L422.0 224.53 L422.7 224.56 L423.4 224.83 L424.1 225.15 L424.8 225.15 L425.5 225.56 L426.2 224.97 L426.9 225.65 L427.6 225.73 L428.3 226.15 L429.0 226.11 L429.7 226.25 L430.4 226.33 L431.1 226.43 L431.8 226.68 L432.5 226.99 L433.2 227.03 L433.9 226.92 L434.6 227.25 L435.3 227.28 L436.0 227.61 L436.7 227.42 L437.4 227.68 L438.1 227.46 L438.8 227.57 L439.5 228.01 L440.2 227.93 L440.9 227.91 L441.6 228.24 L442.3 228.29 L443.0 228.22 L443.7 228.26 L444.4 228.62 L445.1 228.55 L445.8 228.45 L446.5 228.69 L447.2 228.50 L447.9 228.74 L448.6 228.81 L449.3 228.99 L450.0 229.19 L450.7 229.09 L451.4 229.15 L452.1 229.02 L452.8 229.06 L453.5 229.31 L454.2 229.26 L454.9 229.54 L455.6 229.30 L456.3 229.39 L457.0 229.60 L457.7 229.66 L458.4 229.77 L459.1 229.50 L459.8 229.57 L460.5 229.74 L461.2 229.62 L461.9 229.86 L462.6 229.98 L463.3 229.83 L464.0 230.11 L464.7 230.01 L465.4 230.11 L466.1 230.11 L466.8 230.12 L467.5 230.22 L468.2 230.43 L468.9 229.94 L469.6 230.37 L470.3 230.19 L471.0 230.49 L471.7 230.58 L472.4 230.37 L473.1 230.53 L473.8 230.53" fill="none" stroke="#2a8a34" stroke-width="1.35" stroke-linejoin="round"/>
<path d="M274.3 334.51 L275.0 333.68 L275.7 332.82 L276.4 332.21 L277.1 330.99 L277.8 329.88 L278.5 328.85 L279.2 327.61 L279.9 326.37 L280.6 325.49 L281.3 324.23 L282.0 322.44 L282.7 321.61 L283.4 320.07 L284.1 317.92 L284.8 316.81 L285.5 315.43 L286.2 313.73 L286.9 312.49 L287.6 310.90 L288.3 308.74 L289.0 307.32 L289.7 305.37 L290.4 303.62 L291.1 303.19 L291.8 300.57 L292.5 299.77 L293.2 298.24 L293.9 296.89 L294.6 296.00 L295.3 293.87 L296.0 292.53 L296.7 291.75 L297.4 290.16 L298.1 288.66 L298.8 287.05 L299.5 285.82 L300.2 285.23 L300.9 284.36 L301.6 282.45 L302.3 282.82 L303.0 281.55 L303.7 281.42 L304.4 281.53 L305.1 279.60 L305.8 279.94 L306.5 279.41 L307.2 278.75 L307.9 277.37 L308.6 277.48 L309.3 277.47 L310.0 276.60 L310.7 276.15 L311.4 275.69 L312.1 275.64 L312.8 274.23 L313.5 275.11 L314.2 274.67 L314.9 274.86 L315.6 273.69 L316.3 272.92 L317.0 272.77 L317.7 272.57 L318.4 272.75 L319.1 271.15 L319.8 271.44 L320.5 272.38 L321.2 270.84 L321.9 271.46 L322.6 270.60 L323.3 270.81 L324.0 270.66 L324.7 271.15 L325.4 269.63 L326.1 270.29 L326.8 270.53 L327.5 270.77 L328.2 269.36 L328.9 269.93 L329.6 269.40 L330.3 270.52 L331.0 270.10 L331.7 270.90 L332.4 270.57 L333.1 271.22 L333.8 270.87 L334.5 271.63 L335.2 272.06 L335.9 273.25 L336.6 273.84 L337.3 273.26 L338.0 274.95 L338.7 274.89 L339.4 275.59 L340.1 276.53 L340.8 275.88 L341.5 277.70 L342.2 277.74 L342.9 277.25 L343.6 278.64 L344.3 277.68 L345.0 278.47 L345.7 278.87 L346.4 279.26 L347.1 278.67 L347.8 279.85 L348.5 279.99 L349.2 279.81 L349.9 281.47 L350.6 281.03 L351.3 282.31 L352.0 281.70 L352.7 282.50 L353.4 283.11 L354.1 284.80 L354.8 284.74 L355.5 285.11 L356.2 285.23 L356.9 285.88 L357.6 286.87 L358.3 287.05 L359.0 287.85 L359.7 287.82 L360.4 288.43 L361.1 289.01 L361.8 290.43 L362.5 290.52 L363.2 290.88 L363.9 292.05 L364.6 292.72 L365.3 292.98 L366.0 293.30 L366.7 293.67 L367.4 294.33 L368.1 295.20 L368.8 295.20 L369.5 296.56 L370.2 296.31 L370.9 297.30 L371.6 297.90 L372.3 299.04 L373.0 299.16 L373.7 300.61 L374.4 300.23 L375.1 300.68 L375.8 300.83 L376.5 301.50 L377.2 302.69 L377.9 302.35 L378.6 302.57 L379.3 303.87 L380.0 304.82 L380.7 304.80 L381.4 305.49 L382.1 306.22 L382.8 306.38 L383.5 306.93 L384.2 307.57 L384.9 308.35 L385.6 308.97 L386.3 309.41 L387.0 309.86 L387.7 310.60 L388.4 310.74 L389.1 311.85 L389.8 311.94 L390.5 313.31 L391.2 313.34 L391.9 314.10 L392.6 314.61 L393.3 315.23 L394.0 315.83 L394.7 316.01 L395.4 316.97 L396.1 316.57 L396.8 317.62 L397.5 317.52 L398.2 318.42 L398.9 318.94 L399.6 318.94 L400.3 319.63 L401.0 319.67 L401.7 320.40 L402.4 320.80 L403.1 321.04 L403.8 321.19 L404.5 322.06 L405.2 321.65 L405.9 322.70 L406.6 322.80 L407.3 323.24 L408.0 323.48 L408.7 324.03 L409.4 324.03 L410.1 324.19 L410.8 324.66 L411.5 325.23 L412.2 325.29 L412.9 326.30 L413.6 325.90 L414.3 325.72 L415.0 326.57 L415.7 327.01 L416.4 326.72 L417.1 327.17 L417.8 327.62 L418.5 327.73 L419.2 328.01 L419.9 328.58 L420.6 328.71 L421.3 328.85 L422.0 329.33 L422.7 329.41 L423.4 330.08 L424.1 330.02 L424.8 330.76 L425.5 330.78 L426.2 331.28 L426.9 331.33 L427.6 331.34 L428.3 331.67 L429.0 331.97 L429.7 332.13 L430.4 332.44 L431.1 332.51 L431.8 332.63 L432.5 332.86 L433.2 332.93 L433.9 333.18 L434.6 333.53 L435.3 333.71 L436.0 333.69 L436.7 333.65 L437.4 334.13 L438.1 334.28 L438.8 334.54 L439.5 334.65 L440.2 334.99 L440.9 334.93 L441.6 335.04 L442.3 334.99 L443.0 335.57 L443.7 335.37 L444.4 335.50 L445.1 335.56 L445.8 335.89 L446.5 335.73 L447.2 335.98 L447.9 335.85 L448.6 336.21 L449.3 336.43 L450.0 336.41 L450.7 336.31 L451.4 336.50 L452.1 337.05 L452.8 336.82 L453.5 336.92 L454.2 337.03 L454.9 337.16 L455.6 337.53 L456.3 337.35 L457.0 337.54 L457.7 337.28 L458.4 337.53 L459.1 337.58 L459.8 337.92 L460.5 338.25 L461.2 337.91 L461.9 337.76 L462.6 338.40 L463.3 337.83 L464.0 338.05 L464.7 338.42 L465.4 338.54 L466.1 338.28 L466.8 338.27 L467.5 338.73 L468.2 338.57 L468.9 338.48 L469.6 338.58 L470.3 338.84 L471.0 338.61 L471.7 339.07 L472.4 339.10 L473.1 339.14 L473.8 339.39 L473.8 342.0 L274.3 342.0 Z" fill="url(#g6)" stroke="none"/>
<path d="M274.3 311.60 L274.8 310.84 L275.3 310.09 L275.8 309.34 L276.3 308.60 L276.8 307.87 L277.3 307.14 L277.8 306.42 L278.3 305.71 L278.8 305.00 L279.3 304.30 L279.8 303.60 L280.3 302.92 L280.8 302.24 L281.3 301.57 L281.8 300.90 L282.3 300.24 L282.8 299.58 L283.3 298.94 L283.8 298.29 L284.3 297.66 L284.8 297.03 L285.3 296.41 L285.8 295.80 L286.3 295.19 L286.8 294.59 L287.3 294.00 L287.8 293.41 L288.3 292.83 L288.8 292.24 L289.3 291.66 L289.8 291.08 L290.3 290.51 L290.8 289.95 L291.3 289.39 L291.8 288.84 L292.3 288.30 L292.8 287.77 L293.3 287.25 L293.8 286.75 L294.3 286.26 L294.8 285.78 L295.3 285.33 L295.8 284.88 L296.3 284.44 L296.8 284.01 L297.3 283.58 L297.8 283.17 L298.3 282.76 L298.8 282.37 L299.3 281.98 L299.8 281.59 L300.3 281.22 L300.8 280.85 L301.3 280.48 L301.8 280.13 L302.3 279.78 L302.8 279.43 L303.3 279.09 L303.8 278.75 L304.3 278.42 L304.8 278.09 L305.3 277.76 L305.8 277.44 L306.3 277.13 L306.8 276.82 L307.3 276.52 L307.8 276.23 L308.3 275.95 L308.8 275.67 L309.3 275.40 L309.8 275.15 L310.3 274.90 L310.8 274.66 L311.3 274.43 L311.8 274.20 L312.3 273.97 L312.8 273.75 L313.3 273.54 L313.8 273.33 L314.3 273.12 L314.8 272.92 L315.3 272.73 L315.8 272.55 L316.3 272.37 L316.8 272.19 L317.3 272.02 L317.8 271.86 L318.3 271.71 L318.8 271.54 L319.3 271.38 L319.8 271.21 L320.3 271.04 L320.8 270.87 L321.3 270.70 L321.8 270.54 L322.3 270.38 L322.8 270.23 L323.3 270.09 L323.8 269.96 L324.3 269.85 L324.8 269.74 L325.3 269.66 L325.8 269.59 L326.3 269.54 L326.8 269.51 L327.3 269.50 L327.8 269.50 L328.3 269.50 L328.8 269.50 L329.3 269.50 L329.8 269.50 L330.3 269.50 L330.8 269.50 L331.3 269.50 L331.8 269.50 L332.3 269.50 L332.8 269.50 L333.3 269.50 L333.8 269.50 L334.3 269.50 L334.8 269.50 L335.3 269.52 L335.8 269.59 L336.3 269.70 L336.8 269.85 L337.3 270.02 L337.8 270.23 L338.3 270.45 L338.8 270.70 L339.3 270.95 L339.8 271.22 L340.3 271.49 L340.8 271.75 L341.3 272.02 L341.8 272.27 L342.3 272.51 L342.8 272.73 L343.3 272.96 L343.8 273.19 L344.3 273.42 L344.8 273.66 L345.3 273.90 L345.8 274.14 L346.3 274.39 L346.8 274.63 L347.3 274.88 L347.8 275.14 L348.3 275.39 L348.8 275.65 L349.3 275.91 L349.8 276.18 L350.3 276.44 L350.8 276.71 L351.3 276.98 L351.8 277.25 L352.3 277.53 L352.8 277.80 L353.3 278.08 L353.8 278.36 L354.3 278.64 L354.8 278.93 L355.3 279.22 L355.8 279.51 L356.3 279.81 L356.8 280.12 L357.3 280.43 L357.8 280.74 L358.3 281.06 L358.8 281.39 L359.3 281.73 L359.8 282.08 L360.3 282.43 L360.8 282.79 L361.3 283.15 L361.8 283.53 L362.3 283.91 L362.8 284.30 L363.3 284.70 L363.8 285.10 L364.3 285.52 L364.8 285.94 L365.3 286.37 L365.8 286.81 L366.3 287.26 L366.8 287.71 L367.3 288.19 L367.8 288.69 L368.3 289.22 L368.8 289.77 L369.3 290.34 L369.8 290.91 L370.3 291.48 L370.8 292.04 L371.3 292.58 L371.8 293.10 L372.3 293.59 L372.8 294.07 L373.3 294.54 L373.8 295.01 L374.3 295.46 L374.8 295.91 L375.3 296.35 L375.8 296.79 L376.3 297.22 L376.8 297.66 L377.3 298.09 L377.8 298.52 L378.3 298.96 L378.8 299.40 L379.3 299.84 L379.8 300.29 L380.3 300.75 L380.8 301.21 L381.3 301.68 L381.8 302.16 L382.3 302.63 L382.8 303.11 L383.3 303.58 L383.8 304.05 L384.3 304.52 L384.8 304.98 L385.3 305.43 L385.8 305.87 L386.3 306.29 L386.8 306.70 L387.3 307.10 L387.8 307.48 L388.3 307.85 L388.8 308.21 L389.3 308.56 L389.8 308.90 L390.3 309.24 L390.8 309.57 L391.3 309.89 L391.8 310.22 L392.3 310.54 L392.8 310.86 L393.3 311.18 L393.8 311.51 L394.3 311.83 L394.8 312.17 L395.3 312.50 L395.8 312.84 L396.3 313.19 L396.8 313.53 L397.3 313.87 L397.8 314.22 L398.3 314.56 L398.8 314.91 L399.3 315.25 L399.8 315.59 L400.3 315.93 L400.8 316.26 L401.3 316.60 L401.8 316.92 L402.3 317.25 L402.8 317.56 L403.3 317.88 L403.8 318.19 L404.3 318.50 L404.8 318.81 L405.3 319.11 L405.8 319.41 L406.3 319.71 L406.8 320.01 L407.3 320.30 L407.8 320.59 L408.3 320.88 L408.8 321.17 L409.3 321.45 L409.8 321.73 L410.3 322.00 L410.8 322.27 L411.3 322.54 L411.8 322.81 L412.3 323.08 L412.8 323.35 L413.3 323.61 L413.8 323.87 L414.3 324.13 L414.8 324.38 L415.3 324.63 L415.8 324.87 L416.3 325.12 L416.8 325.35 L417.3 325.58 L417.8 325.81 L418.3 326.03 L418.8 326.25 L419.3 326.46 L419.8 326.67 L420.3 326.87 L420.8 327.07 L421.3 327.27 L421.8 327.47 L422.3 327.66 L422.8 327.85 L423.3 328.04 L423.8 328.23 L424.3 328.42 L424.8 328.60 L425.3 328.79 L425.8 328.97 L426.3 329.16 L426.8 329.35 L427.3 329.53 L427.8 329.71 L428.3 329.90 L428.8 330.08 L429.3 330.26 L429.8 330.44 L430.3 330.61 L430.8 330.78 L431.3 330.95 L431.8 331.12 L432.3 331.28 L432.8 331.44 L433.3 331.60 L433.8 331.75 L434.3 331.90 L434.8 332.05 L435.3 332.19 L435.8 332.34 L436.3 332.48 L436.8 332.61 L437.3 332.75 L437.8 332.88 L438.3 333.02 L438.8 333.15 L439.3 333.27 L439.8 333.40 L440.3 333.53 L440.8 333.65 L441.3 333.77 L441.8 333.90 L442.3 334.02 L442.8 334.14 L443.3 334.25 L443.8 334.37 L444.3 334.49 L444.8 334.60 L445.3 334.71 L445.8 334.82 L446.3 334.93 L446.8 335.04 L447.3 335.14 L447.8 335.24 L448.3 335.34 L448.8 335.44 L449.3 335.53 L449.8 335.63 L450.3 335.72 L450.8 335.81 L451.3 335.90 L451.8 335.98 L452.3 336.07 L452.8 336.15 L453.3 336.23 L453.8 336.32 L454.3 336.40 L454.8 336.47 L455.3 336.55 L455.8 336.63 L456.3 336.70 L456.8 336.77 L457.3 336.85 L457.8 336.92 L458.3 336.99 L458.8 337.06 L459.3 337.12 L459.8 337.19 L460.3 337.26 L460.8 337.32 L461.3 337.38 L461.8 337.45 L462.3 337.51 L462.8 337.57 L463.3 337.62 L463.8 337.68 L464.3 337.73 L464.8 337.78 L465.3 337.84 L465.8 337.89 L466.3 337.93 L466.8 337.98 L467.3 338.03 L467.8 338.07 L468.3 338.12 L468.8 338.16 L469.3 338.21 L469.8 338.25 L470.3 338.29 L470.8 338.33 L471.3 338.38 L471.8 338.42 L472.3 338.46 L472.8 338.50 L473.3 338.53 L473.8 338.57" fill="none" stroke="#505050" stroke-width="1.2" stroke-dasharray="4.2 5.2"/>
<path d="M274.3 334.51 L275.0 333.68 L275.7 332.82 L276.4 332.21 L277.1 330.99 L277.8 329.88 L278.5 328.85 L279.2 327.61 L279.9 326.37 L280.6 325.49 L281.3 324.23 L282.0 322.44 L282.7 321.61 L283.4 320.07 L284.1 317.92 L284.8 316.81 L285.5 315.43 L286.2 313.73 L286.9 312.49 L287.6 310.90 L288.3 308.74 L289.0 307.32 L289.7 305.37 L290.4 303.62 L291.1 303.19 L291.8 300.57 L292.5 299.77 L293.2 298.24 L293.9 296.89 L294.6 296.00 L295.3 293.87 L296.0 292.53 L296.7 291.75 L297.4 290.16 L298.1 288.66 L298.8 287.05 L299.5 285.82 L300.2 285.23 L300.9 284.36 L301.6 282.45 L302.3 282.82 L303.0 281.55 L303.7 281.42 L304.4 281.53 L305.1 279.60 L305.8 279.94 L306.5 279.41 L307.2 278.75 L307.9 277.37 L308.6 277.48 L309.3 277.47 L310.0 276.60 L310.7 276.15 L311.4 275.69 L312.1 275.64 L312.8 274.23 L313.5 275.11 L314.2 274.67 L314.9 274.86 L315.6 273.69 L316.3 272.92 L317.0 272.77 L317.7 272.57 L318.4 272.75 L319.1 271.15 L319.8 271.44 L320.5 272.38 L321.2 270.84 L321.9 271.46 L322.6 270.60 L323.3 270.81 L324.0 270.66 L324.7 271.15 L325.4 269.63 L326.1 270.29 L326.8 270.53 L327.5 270.77 L328.2 269.36 L328.9 269.93 L329.6 269.40 L330.3 270.52 L331.0 270.10 L331.7 270.90 L332.4 270.57 L333.1 271.22 L333.8 270.87 L334.5 271.63 L335.2 272.06 L335.9 273.25 L336.6 273.84 L337.3 273.26 L338.0 274.95 L338.7 274.89 L339.4 275.59 L340.1 276.53 L340.8 275.88 L341.5 277.70 L342.2 277.74 L342.9 277.25 L343.6 278.64 L344.3 277.68 L345.0 278.47 L345.7 278.87 L346.4 279.26 L347.1 278.67 L347.8 279.85 L348.5 279.99 L349.2 279.81 L349.9 281.47 L350.6 281.03 L351.3 282.31 L352.0 281.70 L352.7 282.50 L353.4 283.11 L354.1 284.80 L354.8 284.74 L355.5 285.11 L356.2 285.23 L356.9 285.88 L357.6 286.87 L358.3 287.05 L359.0 287.85 L359.7 287.82 L360.4 288.43 L361.1 289.01 L361.8 290.43 L362.5 290.52 L363.2 290.88 L363.9 292.05 L364.6 292.72 L365.3 292.98 L366.0 293.30 L366.7 293.67 L367.4 294.33 L368.1 295.20 L368.8 295.20 L369.5 296.56 L370.2 296.31 L370.9 297.30 L371.6 297.90 L372.3 299.04 L373.0 299.16 L373.7 300.61 L374.4 300.23 L375.1 300.68 L375.8 300.83 L376.5 301.50 L377.2 302.69 L377.9 302.35 L378.6 302.57 L379.3 303.87 L380.0 304.82 L380.7 304.80 L381.4 305.49 L382.1 306.22 L382.8 306.38 L383.5 306.93 L384.2 307.57 L384.9 308.35 L385.6 308.97 L386.3 309.41 L387.0 309.86 L387.7 310.60 L388.4 310.74 L389.1 311.85 L389.8 311.94 L390.5 313.31 L391.2 313.34 L391.9 314.10 L392.6 314.61 L393.3 315.23 L394.0 315.83 L394.7 316.01 L395.4 316.97 L396.1 316.57 L396.8 317.62 L397.5 317.52 L398.2 318.42 L398.9 318.94 L399.6 318.94 L400.3 319.63 L401.0 319.67 L401.7 320.40 L402.4 320.80 L403.1 321.04 L403.8 321.19 L404.5 322.06 L405.2 321.65 L405.9 322.70 L406.6 322.80 L407.3 323.24 L408.0 323.48 L408.7 324.03 L409.4 324.03 L410.1 324.19 L410.8 324.66 L411.5 325.23 L412.2 325.29 L412.9 326.30 L413.6 325.90 L414.3 325.72 L415.0 326.57 L415.7 327.01 L416.4 326.72 L417.1 327.17 L417.8 327.62 L418.5 327.73 L419.2 328.01 L419.9 328.58 L420.6 328.71 L421.3 328.85 L422.0 329.33 L422.7 329.41 L423.4 330.08 L424.1 330.02 L424.8 330.76 L425.5 330.78 L426.2 331.28 L426.9 331.33 L427.6 331.34 L428.3 331.67 L429.0 331.97 L429.7 332.13 L430.4 332.44 L431.1 332.51 L431.8 332.63 L432.5 332.86 L433.2 332.93 L433.9 333.18 L434.6 333.53 L435.3 333.71 L436.0 333.69 L436.7 333.65 L437.4 334.13 L438.1 334.28 L438.8 334.54 L439.5 334.65 L440.2 334.99 L440.9 334.93 L441.6 335.04 L442.3 334.99 L443.0 335.57 L443.7 335.37 L444.4 335.50 L445.1 335.56 L445.8 335.89 L446.5 335.73 L447.2 335.98 L447.9 335.85 L448.6 336.21 L449.3 336.43 L450.0 336.41 L450.7 336.31 L451.4 336.50 L452.1 337.05 L452.8 336.82 L453.5 336.92 L454.2 337.03 L454.9 337.16 L455.6 337.53 L456.3 337.35 L457.0 337.54 L457.7 337.28 L458.4 337.53 L459.1 337.58 L459.8 337.92 L460.5 338.25 L461.2 337.91 L461.9 337.76 L462.6 338.40 L463.3 337.83 L464.0 338.05 L464.7 338.42 L465.4 338.54 L466.1 338.28 L466.8 338.27 L467.5 338.73 L468.2 338.57 L468.9 338.48 L469.6 338.58 L470.3 338.84 L471.0 338.61 L471.7 339.07 L472.4 339.10 L473.1 339.14 L473.8 339.39" fill="none" stroke="#f78e1e" stroke-width="1.35" stroke-linejoin="round"/>
<text x="249.5" y="14.7" font-size="18">(b)</text>
<rect x="274.5" y="14.5" width="200.0" height="328.0" fill="none" stroke="#bcbcbc" stroke-width="1"/>
<line x1="274.5" y1="123.5" x2="474.5" y2="123.5" stroke="#bcbcbc" stroke-width="1"/>
<line x1="274.5" y1="233.5" x2="474.5" y2="233.5" stroke="#bcbcbc" stroke-width="1"/>
<line x1="274.5" y1="342.0" x2="274.5" y2="344.2" stroke="#a8a8a8" stroke-width="0.8"/>
<text x="274.5" y="355.2" font-size="12" text-anchor="middle">450</text>
<line x1="294.5" y1="342.0" x2="294.5" y2="344.2" stroke="#a8a8a8" stroke-width="0.8"/>
<line x1="314.5" y1="342.0" x2="314.5" y2="344.2" stroke="#a8a8a8" stroke-width="0.8"/>
<text x="314.5" y="355.2" font-size="12" text-anchor="middle">500</text>
<line x1="334.5" y1="342.0" x2="334.5" y2="344.2" stroke="#a8a8a8" stroke-width="0.8"/>
<line x1="354.5" y1="342.0" x2="354.5" y2="344.2" stroke="#a8a8a8" stroke-width="0.8"/>
<text x="354.5" y="355.2" font-size="12" text-anchor="middle">550</text>
<line x1="374.5" y1="342.0" x2="374.5" y2="344.2" stroke="#a8a8a8" stroke-width="0.8"/>
<line x1="394.5" y1="342.0" x2="394.5" y2="344.2" stroke="#a8a8a8" stroke-width="0.8"/>
<text x="394.5" y="355.2" font-size="12" text-anchor="middle">600</text>
<line x1="414.5" y1="342.0" x2="414.5" y2="344.2" stroke="#a8a8a8" stroke-width="0.8"/>
<line x1="434.5" y1="342.0" x2="434.5" y2="344.2" stroke="#a8a8a8" stroke-width="0.8"/>
<text x="434.5" y="355.2" font-size="12" text-anchor="middle">650</text>
<line x1="454.5" y1="342.0" x2="454.5" y2="344.2" stroke="#a8a8a8" stroke-width="0.8"/>
<line x1="474.5" y1="342.0" x2="474.5" y2="344.2" stroke="#a8a8a8" stroke-width="0.8"/>
<text x="474.5" y="355.2" font-size="12" text-anchor="middle">700</text>
<text x="375.8" y="365.3" font-size="12" text-anchor="middle">Wavelength (nm)</text>
<text transform="translate(16.0 179.1) rotate(-90)" font-size="12" text-anchor="middle" xml:space="preserve">Normalized  PL Intensity (a.u.)</text>
<text transform="translate(265.4 181.3) rotate(-90)" font-size="12" text-anchor="middle" xml:space="preserve">Normalized  PL Intensity (a.u.)</text>
<text x="29" y="26.0" font-size="11">SNI in H<tspan font-size="7.48" dy="2.31">2</tspan><tspan dy="-2.31">O</tspan></text>
<text x="27.4" y="136.4" font-size="11">SNI in Leu/H<tspan font-size="7.48" dy="2.31">2</tspan><tspan dy="-2.31">O</tspan></text>
<text x="27.1" y="246.0" font-size="11">SNI in Phe/H<tspan font-size="7.48" dy="2.31">2</tspan><tspan dy="-2.31">O</tspan></text>
<text x="277.3" y="25.9" font-size="11">SNI in His/H<tspan font-size="7.48" dy="2.31">2</tspan><tspan dy="-2.31">O</tspan></text>
<text x="278" y="137.3" font-size="11">SNI in Glu/H<tspan font-size="7.48" dy="2.31">2</tspan><tspan dy="-2.31">O</tspan></text>
<text x="276.5" y="246.1" font-size="11">SNI in Gln/H<tspan font-size="7.48" dy="2.31">2</tspan><tspan dy="-2.31">O</tspan></text>
<text x="32.6" y="39" font-size="8.8">UV on</text>
<text x="194.2" y="39" font-size="8.8">UV off</text>
<text x="33" y="149.2" font-size="8.8">UV on</text>
<text x="194.7" y="149.2" font-size="8.8">UV off</text>
<text x="33" y="260.4" font-size="8.8">UV on</text>
<text x="194.7" y="260.4" font-size="8.8">UV off</text>
<text x="404.7" y="38.8" font-size="8.8">UV on</text>
<text x="436.9" y="38.8" font-size="8.8">UV off</text>
<text x="403.7" y="149.3" font-size="8.8">UV on</text>
<text x="435.7" y="149.3" font-size="8.8">UV off</text>
<text x="401.6" y="260.9" font-size="8.8">UV on</text>
<text x="436.6" y="260.9" font-size="8.8">UV off</text>
<rect x="25.8" y="40.8" width="36.8" height="37.5" rx="5.5" fill="#0b0d1c"/>
<ellipse cx="44.2" cy="59.5" rx="17.0" ry="17.4" fill="url(#p7)"/>
<rect x="188.1" y="41.2" width="34.8" height="37.1" rx="5.5" fill="#000"/>
<rect x="26.6" y="152.3" width="36" height="37.4" rx="5.5" fill="#000"/>
<ellipse cx="44.6" cy="171.0" rx="16.9" ry="17.6" fill="url(#p8)"/>
<rect x="187.2" y="152.3" width="35.7" height="37.4" rx="5.5" fill="#1c0e00"/>
<ellipse cx="205.0" cy="171.0" rx="17.0" ry="17.8" fill="url(#p9)"/>
<rect x="25.8" y="263.8" width="36.4" height="36.8" rx="5.5" fill="#041004"/>
<ellipse cx="44.0" cy="282.2" rx="17.1" ry="17.3" fill="url(#p10)"/>
<ellipse cx="44.0" cy="282.2" rx="17.1" ry="17.3" fill="url(#h11)"/>
<rect x="186.1" y="263.8" width="36.8" height="36.8" rx="5.5" fill="#1c0a00"/>
<ellipse cx="204.5" cy="282.2" rx="17.3" ry="17.3" fill="url(#p12)"/>
<rect x="399.9" y="41.2" width="34.9" height="37.1" rx="5.5" fill="#000"/>
<ellipse cx="417.3" cy="59.8" rx="16.4" ry="17.6" fill="url(#p13)"/>
<rect x="437.1" y="41.2" width="35.3" height="37.1" rx="5.5" fill="#141000"/>
<ellipse cx="454.8" cy="59.8" rx="16.6" ry="17.6" fill="url(#p14)"/>
<rect x="398.1" y="152.3" width="36.7" height="37.1" rx="5.5" fill="#000"/>
<rect x="399.3" y="153.5" width="34.3" height="34.7" rx="13.7" ry="13.9" fill="url(#p15)"/>
<rect x="436.4" y="152.3" width="36" height="37.1" rx="5.5" fill="#000"/>
<rect x="437.6" y="153.5" width="33.6" height="34.7" rx="13.4" ry="13.9" fill="url(#p16)"/>
<rect x="396.2" y="263.8" width="38.6" height="36.8" rx="5.5" fill="#000"/>
<ellipse cx="415.5" cy="282.2" rx="18.1" ry="17.4" fill="url(#p17)"/>
<rect x="436.4" y="263.8" width="36" height="36.8" rx="5.5" fill="#000"/>
<ellipse cx="454.4" cy="282.2" rx="17.0" ry="17.4" fill="url(#p18)"/>
<text x="494" y="17.2" font-size="18">(c)</text>
<path d="M571 121 566 113.5 566 111.5 544.5 71 628.5 162.5 569 120 560.5 111.5 638 162.5 557 101 567 120 642.5 162.5 588 138 568 116.5 581.5 152 617 162.5 590.5 145.5 553 96.5 579 133 581.5 129 625 152 571 129 593 152 549.5 86 582.5 141.5 581 133 568.5 114.5 543.5 67 544 70 577 123.5 586 138 554 100 548.5 83.5 583.5 135 584.5 138 603.5 162.5 595 145.5 579 129 548.5 83 540 53.5 551.5 94 566.5 115 558.5 102 564 110.5 554.5 99.5 593.5 152 553.5 97 547 80 582 141.5 565 112 554 94 577 135 551 91 575.5 126 569.5 120 540 54.5 567 119 568 119 583 141.5 547.5 82.5 556 103.5 576 126 562 110 613.5 162.5 618.5 162.5 560.5 110.5 579 138 595.5 162.5 579 145.5 569.5 117.5 605.5 162.5 556.5 102.5 602 152 577.5 126 573 124.5 588 152 591.5 145.5 608 162.5 609 145.5 572 130.5 578 126 591.5 152 568.5 127.5 565 118.5 572.5 124.5 539.5 53 552 94 596 162.5 574.5 124.5 575 138 551.5 91 563.5 116.5 553 94.5 543.5 67.5 597 152 543 65.5 576.5 127.5 558 107.5 598 138 569.5 122 541.5 59.5 588.5 152 554.5 97.5 546 76 591.5 138 627 162.5 583.5 141.5 581 141.5 568 116 557.5 100.5 574 126 557 107.5 573 123.5 598.5 145.5 574 119 599.5 162.5 610 162.5 622 162.5 558.5 106.5 545.5 73.5 567 114.5 577.5 133 606.5 162.5 582 138 568.5 124.5 595.5 152 565.5 119 632.5 162.5 575.5 135 586 135 594.5 145.5 575 135 626 162.5 559 101 561 113.5 550 88 584 133 565 112.5 578.5 124.5 551 90.5 590.5 138 561 107.5 547 80.5 641 162.5 603 152 585 141.5 602 145.5 584 138 602.5 162.5 576 124.5 561.5 112 570 124.5 548.5 82.5 545.5 75.5 570.5 121 564.5 114.5 596 152 600.5 152 569.5 121 577 126 632 162.5 589.5 145.5 562.5 114 550.5 91 621.5 162.5 550 90.5 646.5 162.5 581 135 546 77.5 542 64 601 162.5 563.5 112.5 567 123.5 563 111.5 552 93.5 574 130.5 612 162.5 599 162.5 559.5 109 601 152 541 58 608.5 152 577.5 135 540 53 564 111 554 96.5 550 88.5 542.5 64.5 595 152 564.5 110.5 559.5 109.5 580 135 543.5 68 564 114.5 555.5 103.5 574.5 122 582 152 586.5 138 580 133 550.5 89.5 583 145.5 580 152 566 121 574 127.5 638.5 162.5 598 141.5 572.5 123.5 584.5 145.5 572 135 613 162.5 585.5 152 582.5 138 594.5 141.5 543 67 555.5 101 551.5 91.5 549.5 87 600.5 145.5 587 133 565.5 112 566.5 123.5 576.5 130.5 545 74.5 588 141.5 565.5 114.5 557.5 105.5 598 152 560 109.5 570.5 118.5 576.5 133 615 162.5 545 72 650.5 162.5 552.5 95 567.5 114.5 576 138 570.5 120 544 69 554.5 100.5 608 152 566.5 117.5 624.5 162.5 555 102 549 85 547 79 623.5 162.5 541 56.5 562.5 109.5 583 138 593.5 162.5 557 108 592.5 152 606 162.5 594 145.5 550.5 87.5 550 86.5 551 90 540.5 56 611 152 548 83.5 545 75 549 86 541.5 60 547.5 81 655 162.5 576.5 123.5 570.5 129 573.5 126 574.5 133 610.5 162.5 587.5 141.5 547.5 80.5 564 116.5 596.5 162.5 586 152 544.5 71.5 561.5 114 559 109 544 70.5 571.5 122 597.5 141.5 574.5 127.5 569 123.5 546.5 78 571 130.5 591 145.5 607 162.5 541.5 60.5 567.5 115 575.5 133 597 162.5 551.5 92 662 162.5 567 121 548 83 562 111 542 60 580.5 138 584.5 141.5 588.5 135 560 104.5 542.5 63 599 145.5 545.5 75 565 116 572 126 549 87.5 593 141.5 582.5 135 592 141.5 564.5 123.5 558.5 109.5 570 126 593 138 546 75.5 590.5 162.5 540 55 603 162.5 558.5 105.5 580.5 124.5 589 145.5 591.5 135 563 115 600 152 568 124.5 555 102.5 540.5 57 568.5 121 608.5 162.5 600 141.5 617.5 162.5 599.5 145.5 573.5 133 548.5 84 609 162.5 545 73.5 555.5 99 564 108 556.5 103 562 109.5 611.5 162.5 544.5 69 557 105 576 130.5 593.5 145.5 572.5 135 575 129 609.5 145.5 558 103.5 551 91.5 586.5 141.5 562.5 112 540 56 607.5 162.5 580.5 145.5 571 133 571.5 129 605.5 152 578 141.5 617.5 152 623 162.5 578.5 126 587.5 138 553.5 98 541 58.5 561 105.5 567.5 116.5 605 162.5 574 124.5 592.5 162.5 572.5 122 552.5 99 561 111.5 565.5 113.5 546.5 78.5 560.5 107.5 586.5 145.5 611.5 152 540.5 55 547 78 563 118.5 586 145.5 543 64 583.5 138 554 97 581 138 548 84 597 135 590 152 586.5 152 561.5 108 544.5 72 584 130.5 562 112 541 59 589.5 162.5 621 162.5 560 110.5 594.5 152 676.5 162.5 551.5 90.5 585.5 145.5 580 129 558.5 102.5 579.5 138 572 123.5 549.5 85.5 568.5 119 558 102 546.5 75.5 585.5 138 604.5 162.5 593 145.5 566.5 114 556 99.5 559.5 104.5 548 81.5 589 141.5 595 162.5 552 91.5 596.5 152 584 152 549 84 542.5 64 559.5 107.5 573.5 124.5 581.5 130.5 554 98 561 107 571 126 563.5 114 556 105 560 108.5 597.5 152 563 114.5 555 98 543 66 600 162.5 578.5 130.5 549.5 88 545.5 74.5 547.5 83 576.5 121 578 133 569.5 133 553 96 589 152 550.5 93 590 145.5 597.5 162.5 580.5 135 604 152 590 138 584.5 152 593 162.5 587 141.5 674.5 162.5 587 152 590.5 152 592 152 575 119 552 92.5 564.5 115 618 162.5 557 102.5 540.5 56.5 559.5 106 546 76.5 556.5 100 601.5 162.5 570 119 566.5 120 547.5 79.5 588.5 162.5 598.5 152 579.5 135 599 152 554.5 99 602.5 152 559 105.5 585 138 598 145.5 577 130.5 589 162.5 558 107 555.5 100.5 552.5 95.5 604 162.5 567.5 118.5 591.5 141.5 590 162.5 583.5 145.5 573.5 123.5 645 162.5 565.5 118.5 557.5 106 583 129 582.5 133 552.5 97 542 62 643.5 162.5 573 141.5 558 103 566 119 581.5 135 586 130.5 544 68 596.5 141.5 562.5 108 587.5 162.5 591 162.5 569 119 550 90 546 77 561.5 110.5 625.5 162.5 556.5 107.5 560.5 112 573 122 578 145.5 614 162.5 553.5 95.5 619 162.5 553 95 612.5 152" fill="none" stroke="none" marker-start="url(#m19)" marker-mid="url(#m19)" marker-end="url(#m19)"/>
<path d="M541 49.5 580.5 118.5 665 162.5 576 110.5 550.5 68 637.5 162.5 567 99.5 560 86 604.5 152 618.5 152 540 46.5 613.5 152 573 112 564 97.5 588.5 135 593.5 129 576.5 116.5 549.5 67.5 571 103.5 555.5 78.5 552 68.5 569.5 102.5 574.5 109 552 72 575 110 580.5 122 629.5 162.5 604 141.5 676 162.5 572 104.5 557 79 578.5 116.5 597.5 152 581 116.5 545.5 57.5 572 111 562 89.5 563.5 90 541.5 51.5 603.5 162.5 641 162.5 572.5 104 560.5 88.5 545 56.5 561.5 87 597 141.5 603.5 135 544 56 551 69.5 553 72 566 98 586.5 129 573 107.5 589.5 127.5 585.5 121 578.5 118.5 546 59.5 574.5 110.5 620 162.5 561.5 90.5 561.5 88.5 546 60.5 570.5 102.5 592.5 135 603 145.5 564.5 96 618 162.5 574.5 106.5 596 141.5 563 90 595.5 138 546 60 581 124.5 645 162.5 587.5 138 583 127.5 601 145.5 599.5 133 646 162.5 600.5 145.5 542 51 593 133 541.5 49.5 616 145.5 590 133 566.5 94.5 559 85 601.5 133 590.5 135 557.5 83.5 588 127.5 556 79 625.5 162.5 553 72.5 590.5 129 562.5 91.5 578.5 114.5 588.5 138 561 87 553.5 71.5 553.5 75.5 556 77.5 566 95.5 607.5 162.5 554 73.5 659 162.5 610 152 602 141.5 586 133 580.5 121 651 162.5 567.5 96.5 593.5 141.5 574 106.5 631.5 162.5 545 59 576 114 599 138 676.5 162.5 612 141.5 566.5 96.5 595 138 598 145.5 568 96.5 671.5 162.5 578.5 115 588.5 133 550 67 595.5 130.5 561 88.5 551 68.5 599.5 162.5 590.5 138 642.5 152 573.5 107 557.5 79.5 606 162.5 596.5 138 570.5 103 559.5 83.5 596.5 162.5 570.5 101.5 663 162.5 559 82 564.5 99 582 124.5 658 162.5 545.5 59 643.5 162.5 661 162.5 587.5 129 561 89 559.5 85.5 555 77.5 544.5 53 551 70.5 576 110 600.5 162.5 568.5 98.5 583.5 124.5 549.5 68 571.5 104 561.5 89.5 590.5 122 563.5 94 578 116.5 600.5 133 623.5 162.5 549 68 638.5 162.5 628.5 162.5 579.5 122 570 104.5 585 118.5 557 78 568 102.5 541 49 560.5 89.5 585 124.5 626.5 162.5 614 162.5 575.5 108.5 552.5 72.5 612.5 162.5 539.5 46 598.5 135 591.5 133 583.5 141.5 579.5 116.5 564 93 578 112 591 129 625 152 545 58.5 555 78 613 162.5 558.5 83 542.5 51.5 599.5 152 668.5 162.5 573 109 557.5 80.5 582 117.5 579 116.5 598.5 141.5 616.5 152 574 108 543.5 53.5 630.5 152 548 62.5 549.5 65.5 582 118.5 627.5 162.5 592 130.5 582.5 121 587.5 124.5 541.5 50.5 587 133 583 121 632.5 162.5 572 109 594 145.5 590 141.5 546 61.5 612.5 152 542 53 556.5 83 610.5 162.5 555.5 77 609.5 145.5 567.5 97 574 105.5 616 162.5 608.5 162.5 623 162.5 544 54.5 611.5 152 585.5 127.5 544.5 56 571.5 108 547.5 61.5 563.5 91 657.5 162.5 577.5 115 584.5 122 551 71 661.5 162.5 610 141.5 601.5 152 543.5 54.5 590 138 556 80 576.5 112 603.5 152 547.5 64.5 540.5 48 561 84.5 540 47 673.5 162.5 563 89 626.5 152 613.5 162.5 602 138 601.5 138 569.5 102 546 59 622.5 162.5 555.5 77.5 573.5 109 587 123.5 609 162.5 577 119 575 108 570.5 105 625 162.5 595 135 604 162.5 564 94 595 133 542 52.5 656 162.5 578 111.5 579 119 586.5 133 554 76.5 547 60.5 567.5 97.5 568.5 99 542 52 580 120 560.5 87 575 109.5 600 152 575.5 111.5 566.5 95.5 546.5 60 565.5 95.5 542.5 53 611.5 138 572.5 107 607 145.5 570 102 595 162.5 572.5 104.5 581.5 122 594 141.5 595.5 133 558 82.5 570 100 562.5 90 545.5 57 562 88 593 138 619 162.5 575 106.5 584.5 123.5 560 82.5 560 83.5 583 126 558 81 572.5 106.5 648 162.5 605 152 634.5 162.5 608.5 135 584 123.5 554.5 77.5 575.5 116 552.5 69.5 567.5 98.5 558 80 607.5 145.5 573 104.5 622.5 152 645.5 162.5 602.5 145.5 615 162.5 669.5 162.5 672.5 162.5 583.5 127.5 544.5 57 543 53 551.5 70.5 556.5 79 552 72.5 545 58 543 54 577 114.5 573.5 110.5 541.5 51 584.5 130.5 564 95 599 141.5 594.5 138 559 86 555.5 76.5 598.5 162.5 614.5 162.5 549 66.5 634 152 559 80.5 565.5 92 581.5 115 607.5 152 627 162.5 565 93 577 111.5 614.5 152 580 121 621 162.5 589 123.5 567 97.5 666 162.5 589 126 557.5 82 544 54 599 152 615.5 162.5 579 121 572.5 107.5 554.5 75 622 162.5 544 55 620.5 162.5 577.5 119 636.5 162.5 649 162.5 547.5 64 588 130.5 584 135 577 117.5 632 162.5 568.5 101 576.5 113.5 593 141.5 585.5 124.5 575.5 104.5 576.5 112.5 582.5 117.5 598 162.5 591 130.5 566 97 603.5 145.5 586 124.5 597 145.5 606 141.5 567 96 606.5 152 571.5 102.5 565.5 94.5 626 145.5 550 69.5 584 133 553 75.5 568.5 99.5 635.5 162.5 601.5 145.5 577.5 112 569 96.5 633.5 152 567 98 565 98 596.5 141.5 612 145.5 610 162.5 581.5 121 565 92.5 594 152 548.5 63 556 75 569 100.5 635 162.5 584 124.5 579 129 558 82 572 105.5 561 86 636 162.5 641.5 162.5 571.5 104.5 555 76 599 162.5 612.5 145.5 608 145.5 601 141.5 586 123.5 598 141.5 591.5 127.5 556.5 78 548.5 62 611.5 162.5 569.5 101 582.5 115 563.5 92 593 130.5 588 152 558.5 83.5 591.5 135 589 133 548.5 64 551.5 72.5 589 129 591.5 138 562.5 89 574 111.5 547.5 62 659.5 162.5 550 65.5 563 91.5 617.5 152 542.5 53.5 558.5 84.5 594.5 130.5 639 162.5 551.5 70 540.5 49 583.5 119 618.5 162.5 579.5 117.5 580 110 600 138 558.5 82 540.5 46.5 557 81 544.5 55 618 152 609.5 152 581 121 624.5 162.5 590 135 614 145.5 606.5 162.5 613 152 582.5 116 579 115 589.5 133 592 135 541 48 557 81.5 548.5 64.5 550 68.5 554 74.5 550.5 67.5 602 145.5 581 114 619.5 162.5 546.5 61 575 113.5 547 59.5 573.5 107.5 593 145.5 617 162.5 571 102 553 73 604.5 162.5 615.5 152 543.5 53 579.5 115 667.5 162.5 600 162.5 587 130.5 654 162.5 596 145.5 607 162.5 619 152 553 74 611 152 601 162.5 623.5 145.5 569.5 103.5 596 152 630 162.5 596.5 145.5 609 152 560.5 88 566 98.5 574.5 112.5 548 64 543 51.5 549 65 643 162.5 548.5 65 564.5 93 633.5 162.5 562 87.5 577 112.5 631 152 603 152 565 94 568.5 101.5 543 53.5 547 62 592 141.5 622 141.5 574 107.5 549 65.5 568 97 588 123.5 624 162.5 550.5 70.5 642.5 162.5 587.5 126 556.5 80.5 547 61 580.5 124.5 579.5 123.5 585 123.5 629 162.5 597.5 138 571 102.5 608.5 145.5 557 82.5 598.5 145.5 593.5 133 582 116 546.5 59.5 640.5 162.5 639.5 162.5 597.5 145.5 593.5 138 612 162.5 595.5 145.5 586.5 122 564 90 577.5 107 602.5 152 605.5 145.5 571 105 570 105.5 552 70.5 586 135 605 145.5 634 162.5 613 141.5 660 162.5 604 138 543 55 573.5 105.5 542.5 52.5 589.5 124.5 548 62 591.5 141.5 616.5 162.5 662 162.5 552.5 72 552.5 74 594.5 145.5 565 96 591 152 586.5 126 642 162.5 677 162.5 588 133 559.5 83 621.5 162.5 594.5 141.5 569 102.5 594 138 615.5 145.5 610.5 145.5 562 90.5 553.5 75 581.5 120 589.5 129 600.5 130.5 592.5 130.5 564.5 91.5 540.5 47.5 605.5 162.5" fill="none" stroke="none" marker-start="url(#m20)" marker-mid="url(#m20)" marker-end="url(#m20)"/>
<path d="M641 152 642.5 141.5 592.5 121 547.5 63.5 666 162.5 640.5 152 544.5 60 649.5 152 639 152 631 162.5 603.5 126 673.5 162.5 607.5 123.5 592.5 116 672.5 162.5 549 65 601 123.5 589 110 546.5 60.5 605.5 127.5 605 129 620 138 613 145.5 669.5 162.5 540 52 576 99.5 619 138 624.5 145.5 578 102.5 564.5 88 591.5 119 556 74 635.5 162.5 607 124.5 567 88.5 583.5 106.5 548.5 61.5 596.5 130.5 612.5 133 573.5 92.5 588 112.5 615 130.5 595.5 123.5 567 89 548 62.5 585 112.5 571.5 95.5 594 127.5 544.5 59.5 579.5 99.5 599 123.5 631.5 162.5 568 91.5 632.5 145.5 542.5 52.5 595 126 554 71.5 573.5 96 585.5 106 550.5 69 570.5 94.5 552 67 612 145.5 549 63.5 651 145.5 579.5 98.5 562.5 83 553 69 548.5 66.5 608.5 135 606 133 609 130.5 552.5 69 558 76.5 640 162.5 593.5 121 613.5 141.5 546.5 61 540.5 53.5 676 162.5 668 162.5 648.5 141.5 662 152 568 88 547.5 61 587.5 109 543 61.5 590.5 116.5 601 129 644 152 618 138 599 133 614.5 152 591.5 116 563.5 82 561 80.5 604.5 129 637 162.5 575 98.5 624.5 152 598 124.5 555 73 654 162.5 550 67 635 145.5 560 79 674 162.5 591.5 115 581.5 104 649 145.5 576 102.5 618.5 135 555 76 665.5 162.5 626.5 141.5 610.5 145.5 592 122 643 152 584 109.5 616.5 152 578.5 102.5 579.5 98 597 119 574.5 94 596.5 115 583 104 543.5 59 541.5 54 540.5 52 593.5 115 569.5 91 619.5 135 603 119 564.5 82.5 568.5 92 560 77.5 647.5 162.5 560.5 81 642.5 152 610 133 596.5 117.5 556 77.5 555.5 73.5 650 162.5 626.5 162.5 636.5 152 600 116.5 558.5 77 653.5 145.5 570 92 576 99 584.5 103.5 630 152 651.5 152 596 116.5 617 145.5 584 111 553.5 68 575 98 551 66.5 588 111 588.5 112.5 582.5 108 550 67.5 658 162.5 550.5 66.5 597.5 118.5 556 75 589.5 120 572 98 612 152 566 91 545.5 58 666.5 162.5 566 87.5 616 141.5 594 114 586 114.5 573.5 98.5 636 141.5 574 93.5 598 123.5 570 96 583 108 600.5 124.5 656 162.5 568.5 92.5 586 108 556 73 616 145.5 543 54.5 594.5 119 591.5 116.5 574.5 101 600 133 603.5 130.5 562.5 82.5 575.5 101.5 554.5 77 645 162.5 606 141.5 547.5 60.5 575.5 96.5 650 152 573 98 596 121 642.5 162.5 643.5 152 631 145.5 675.5 162.5 622.5 141.5 579.5 100.5 563 84.5 560 82 552 68.5 604.5 126 575.5 103 560.5 78.5 634.5 141.5 565 84.5 541 54 559 78.5 597 126 624 138 594.5 121 578.5 107.5 589.5 114.5 618 141.5 569 86.5 585.5 105 612.5 152 589 108 667 162.5 634 152 659 162.5 586 110 601.5 119 540 51.5 571 92.5 554 72 670.5 162.5 552.5 67 565.5 87.5 546.5 62 572.5 95.5 577 104.5 624 152 628 162.5 549 64.5 548 60.5 581 106.5 665 152 620 145.5 547.5 62.5 627.5 141.5 567.5 88 587.5 105.5 643.5 162.5 634.5 162.5 580.5 108 581 107.5 571.5 98 607 133 542.5 55.5 578.5 101 647.5 152 612 133 557.5 79 645.5 162.5 558.5 79 609 127.5 578.5 98 546 63.5 628.5 141.5 594.5 117.5 626.5 145.5 652.5 162.5 600.5 121 543.5 57.5 602.5 141.5 574 98 551 67.5 595 120 638 152 621 162.5 633 145.5 606 123.5 580 105 561.5 82.5 557.5 76 544 54 602.5 127.5 577 101 544.5 58.5 614 145.5 593 119 556.5 75.5 554.5 70 626 152 599 114 623.5 133 558.5 74.5 639.5 162.5 568.5 89.5 675 162.5 566.5 87.5 542 54 606 138 651.5 145.5 548 59.5 592 112.5 568.5 89 641.5 152 671 162.5 582.5 114 601.5 126 596.5 114 561.5 78.5 556.5 74.5 634 145.5 561.5 78 617.5 135 572 96 590.5 113.5 557 75.5 569.5 91.5 575.5 97 599.5 124.5 621 152 573 98.5 600 135 610.5 130.5 593.5 123.5 589 116.5 573.5 97.5 589 114 631 152 608 127.5 581.5 107 561 83 591 111 545.5 55 560 75.5 611 130.5 545 55.5 543.5 53 603 130.5 592 114.5 586 112.5 598.5 123.5 615 135 660 162.5 634 141.5 617 138 557.5 78 572.5 95 586.5 111.5 622 162.5 590.5 112.5 602.5 123.5 623.5 145.5 619 145.5 627 145.5 655 162.5 616 162.5 556.5 72.5 546 59 597 120 544.5 56.5 606.5 130.5 625 141.5 553.5 73 616.5 145.5 627 141.5 638 162.5 580.5 109.5 595.5 115 621.5 138 613.5 135 635 162.5 615.5 141.5 588.5 117.5 619.5 138 609 135 596 123.5 605 141.5 664 152 585 107 563.5 82.5 625.5 145.5 549.5 64.5 579 100 671.5 162.5 595 124.5 591 122 571.5 90.5 652.5 145.5 643 135 654 152 581 99 637 152 638.5 162.5 573 94.5 570.5 96 556.5 73.5 568.5 90 605.5 135 592.5 120 631.5 152 551.5 72.5 641 162.5 670 162.5 542 54.5 615.5 138 636 152 569.5 93.5 611.5 135 602 130.5 674.5 162.5 544 61 546 56.5 625.5 162.5 591 116 591.5 110.5 554.5 71.5 553 67.5 545 58 605 124.5 572 92.5 632.5 162.5 583.5 107.5 571 92 641.5 162.5 544 56.5 614.5 141.5 628.5 162.5 586.5 110.5 575 100.5 544 56 602 133 627.5 162.5 586.5 112.5 569 86 622.5 129 554 71 559 78 541.5 51.5 614 138 551.5 65.5 549.5 64 603 135 555 75.5 569.5 90.5 658.5 141.5 588.5 116 584 107.5 564 86.5 570.5 94 552.5 69.5 668.5 162.5 599 126 560.5 78 564.5 86.5 563 83.5 543 56 580 109.5 619.5 141.5 588 111.5 547 62.5 546.5 60 541 53.5 571 93.5 579 102.5 603.5 129 562 83.5 565 85 585 104.5 569 91.5 580.5 103.5 659.5 152 544.5 58 540 50.5 559.5 80 609 123.5 559 80 597.5 123.5 611.5 127.5 572.5 91 587 105.5 587 114 558.5 74 582 112 620 135 553 69.5 541.5 52.5 604 133 575.5 98.5 551.5 67.5 620.5 162.5 581.5 103.5 605 127.5 618.5 141.5 554 70 549.5 65 622.5 152 553.5 74 600.5 118.5 620 141.5 654.5 162.5 637 145.5 581 103.5 588.5 109.5 627 152 599.5 126 594 119 574 99 586.5 112 578 104 562.5 80 592 117.5 609.5 138 550.5 65.5 628 152 664.5 162.5 577.5 100.5 601.5 133 648.5 152 648.5 162.5 568 88.5 561 81.5 592.5 113.5 659.5 162.5 637.5 152 553 72.5 613.5 162.5 567 89.5 566 88 552.5 70.5 548.5 62.5 542 56.5 594.5 122 588 115 607.5 135 563 85 574.5 95.5 560 78.5 568 86.5 601.5 127.5 552.5 72.5 658.5 152 630 138 582 107.5 642 152 548 65.5 646.5 152 610 129 626 145.5 607.5 129 623 141.5 580.5 104.5 644.5 162.5 564 86 545 60 550 63.5 585.5 113.5 647 162.5 614 135 577.5 102.5 630.5 138 576.5 99.5 582 103.5 565.5 83 620.5 145.5 608.5 130.5 565.5 86 588 116.5 565.5 87 590 113.5 547 60 633.5 162.5 677 162.5 563 86.5 545.5 61.5 581 100 595 122 607.5 133 587.5 109.5 586.5 109.5 618.5 145.5 589.5 116.5 597.5 116.5 625 152 676.5 162.5 621 145.5 602 121 541.5 56 601.5 116.5 614.5 138 557 73.5 563 82.5 589.5 111.5 589 113.5 583 112 607 129 570 87.5 556 71 605.5 133 642 162.5 574.5 100.5 646.5 141.5 608 129 622 145.5 662 162.5 644.5 152 561.5 80 621.5 145.5 572.5 96.5 593 117.5 557 77.5 582.5 109.5 540.5 54 634.5 152 564 80 625 162.5 587.5 111.5 559.5 77.5 577 104 627.5 145.5 582.5 106 625.5 141.5 623 152 630.5 152 552 70.5 612.5 129 570.5 89 539.5 50.5 561.5 82 600 129 557 79.5 578 103 558 77.5 546 63 562 82 600.5 133 554.5 73.5 585.5 110.5 613 135 603.5 124.5 615.5 145.5 610.5 138 560.5 79.5 632 162.5 559.5 80.5 542.5 59.5 590.5 110 618 152 595.5 116.5 576 97.5 565.5 86.5 564 83.5 598.5 129 604 129 628.5 145.5 566.5 82.5 572.5 97 596 124.5 587 108 600.5 126 640.5 162.5 584.5 107.5 621.5 152 599 130.5 562 78 542 56 594.5 112 615 152 655.5 152 610.5 141.5 570 91 590 114 610 145.5 561 81 621.5 162.5 606.5 138 611.5 141.5 640 152 661 162.5 568 91 566.5 86.5 594 116.5 633.5 152 558 75.5 629 152 674.5 152 555.5 72 605.5 124.5 596.5 118.5 544 55.5 628 145.5 549.5 65.5 567.5 90 674 152 624 162.5 577.5 101.5 646 162.5 609.5 133 622 141.5 608.5 133 603 141.5 559.5 79.5 613 141.5 563.5 87.5 609.5 135 549 65.5 580 103.5 578 102 616.5 135 567.5 86.5 622.5 138 572 95.5 591 121 639.5 152 617 141.5 648 162.5 558 76 645 145.5 604 130.5 553 70 550 65 604.5 127.5 644 162.5 587.5 111 669 162.5 627 162.5 616 152 607.5 152 660.5 162.5 541 51.5 617.5 145.5 612.5 141.5 599.5 127.5 618.5 162.5 619.5 133 650.5 162.5 549 63 547 65 554.5 78 584 108.5 632 152 617.5 141.5 598 115 652 152 585 109.5 602.5 130.5 613 138 596 127.5 630 162.5 587 112 563.5 87 649 162.5 635 152 551 68.5 540.5 49.5 626 141.5 590 121 547 62 593.5 117.5 583.5 111.5 593 123.5 618 145.5 562.5 82 636 162.5 611 138 583.5 106 569.5 95.5 565 83.5 657.5 162.5 564 84.5 598 116.5 559 79.5 542.5 53.5 611.5 129 582 108 625 145.5 547.5 59.5 657 152 574 92.5 626 135 598.5 120 598.5 121 601 130.5 614.5 133 573.5 95 558.5 76.5 551 69.5 557.5 74.5 579 100.5 595 116.5 629.5 162.5 547 58.5 576.5 100.5 635.5 138 672 162.5 562 86 615.5 135 565 85.5 545.5 57.5 566.5 88.5 553.5 70 567 88 555 73.5 573 97 624.5 162.5 572 95 630.5 145.5 543.5 56 626.5 152 607 130.5 575 97.5 582.5 110.5 579 107.5 577 98.5 583 109.5 576.5 96 564.5 87.5 608.5 138 658.5 162.5 621.5 135 580.5 102.5 548.5 66 623 145.5 590 120 606.5 120 585 108 565 86.5 653.5 162.5 614 133 599.5 130.5 578 107.5 604.5 133 651 162.5 612 130.5 636.5 162.5 634 162.5 604 121 586 116 581.5 106 584 112.5 575 96.5 629 141.5 569 94 582 111.5 571.5 91 623 138" fill="none" stroke="none" marker-start="url(#m21)" marker-mid="url(#m21)" marker-end="url(#m21)"/>
<path d="M661.5 152 643 162.5 594.5 145.5 671 162.5 546.5 113.5 561 130.5 624 145.5 572 152 660.5 145.5 578 141.5 629 145.5 673.5 162.5 670.5 162.5 617.5 162.5 563.5 127.5 666 141.5 574 135 575 141.5 595 162.5 535.5 22 561 141.5 551 117.5 616 141.5 619 152 542 109 657.5 152 552.5 114.5 589.5 145.5 590 162.5 666.5 162.5 548.5 116.5 610 162.5 601 152 592 162.5 567.5 133 635.5 152 544.5 107.5 620 162.5 602 162.5 629.5 145.5 676.5 152 632 145.5 564 130.5 631 162.5 671.5 162.5 628 162.5 578.5 141.5 654.5 145.5 550.5 115 635 133 575.5 152 624.5 162.5 607.5 145.5 621.5 152 563 138 612 145.5 570.5 145.5 634.5 162.5 670 141.5 657.5 141.5 551 115 641 152 550 113.5 570.5 135 640 162.5 577 162.5 548.5 118.5 549 119 630 152 601 145.5 611 138 548.5 120 567.5 138 597.5 145.5 560.5 145.5 609 145.5 581 145.5 628.5 162.5 606 152 544.5 108 664.5 162.5 588 162.5 665.5 162.5 568.5 133 559.5 130.5 540.5 106 645 152 607 145.5 605 162.5 630.5 145.5 669.5 152 672.5 145.5 566 138 608 162.5 646 145.5 548.5 116 583 162.5 540 108 591 162.5 664.5 152 562.5 145.5 578 152 544 114 582.5 162.5 620.5 145.5 558.5 124.5 562.5 130.5 656 152 649.5 145.5 589.5 152 559 124.5 537 21 590.5 135 580 141.5 642.5 162.5 658.5 152 588.5 152 652 162.5 555.5 138 557 118.5 558.5 123.5 583.5 138 545.5 110 584.5 162.5 619 145.5 550 123.5 565.5 145.5 545.5 115 599.5 145.5 660 141.5 633 141.5 581.5 162.5 663 152 579.5 152 636 162.5 591 152 591.5 152 558.5 135 556.5 130.5 595 145.5 659 152 627 162.5 556 127.5 604 162.5 545 112 564.5 127.5 553.5 121 549 116.5 552 118.5 564.5 130.5 544.5 110.5 644 162.5 565.5 135 540.5 103 603.5 162.5 546 120 600.5 145.5 565 129 603.5 152 553 133 558 124.5 560 152 543.5 110.5 670 162.5 553.5 127.5 577 152 541 103.5 548 112.5 575 145.5 639.5 152 544.5 114.5 602.5 162.5 579.5 145.5 553.5 123.5 576 152 587 145.5 542.5 109.5 545 114.5 570.5 152 585.5 152 650.5 152 655 152 630 145.5 563.5 138 599 145.5 620.5 152 612.5 145.5 555.5 123.5 612.5 162.5 613.5 141.5 577.5 145.5 631.5 145.5 625.5 162.5 652.5 152 559 141.5 586.5 135 543.5 114 622.5 162.5 545.5 111.5 610.5 141.5 629.5 162.5 588.5 162.5 676 141.5 557.5 138 624 152 661 162.5 561 124.5 606.5 162.5 558 129 673 145.5 563 145.5 622 162.5 584.5 141.5 594 141.5 653.5 162.5 660.5 162.5 671.5 138 589 141.5 563 135 573 141.5 547.5 120 632.5 162.5 541 24 618 152 643.5 152 555 122 660 145.5 545 109 561.5 130.5 589 145.5 595.5 152 608 141.5 623 162.5 560.5 126 652 152 632.5 152 595 138 553 121 646.5 145.5 613 152 610 152 638.5 152 640.5 162.5 667 162.5 580.5 152 559.5 135 591.5 145.5 582 138 639 162.5 600 162.5 584.5 138 617 145.5 549.5 113.5 578 138 547 119 655.5 152 628 145.5 556 123.5 648 152 592 152 674 162.5 559.5 121 552 123.5 618.5 152 597.5 162.5 677 152 581.5 141.5 669 162.5 572 138 541.5 105 646 152 562 138 655 141.5 613 162.5 672.5 152 548.5 112.5 664 141.5 550 124.5 586 162.5 656 145.5 541.5 110.5 559.5 129 540 105 669.5 162.5 554 124.5 557.5 129 673.5 138 540.5 106.5 567.5 141.5 554 123.5 594 162.5 560.5 127.5 598.5 138 565.5 129 558 135 582.5 152 630.5 162.5 670 152 544 111 581 135 556.5 124.5 561.5 124.5 563 133 647.5 162.5 599.5 162.5 565.5 138 676 162.5 666 162.5 614.5 152 598 162.5 543 108.5 588 145.5 647 145.5 557.5 126 633.5 152 643 152 641.5 145.5 632 152 624.5 141.5 601.5 152 597 145.5 580.5 145.5 604.5 145.5 637.5 162.5 550 114 567 145.5 626.5 162.5 665 145.5 629.5 152 663 138 560.5 133 646.5 162.5 631.5 152 659 141.5 653.5 152 562 135 554 126 647 162.5 611 152 592.5 152 543.5 112.5 616 138 585 152 611.5 145.5 603.5 141.5 658 162.5 585 141.5 659.5 152 572.5 152 668.5 162.5 617.5 152 571 141.5 675.5 141.5 616.5 152 588.5 145.5 564 127.5 655.5 141.5 552 120 572 145.5 602 145.5 601.5 162.5 609 162.5 601.5 145.5 639.5 162.5 665.5 152 556.5 121 641 162.5 642.5 141.5 547 115 674.5 145.5 614 162.5 596 162.5 566.5 126 637 162.5 635 162.5 551.5 114 587.5 138 581.5 152 565 130.5 622 152 619.5 152 651 145.5 608.5 141.5 627.5 152 613.5 162.5 575 152 610.5 152 642.5 152 576.5 152 620 152 550.5 130.5 561.5 152 677 162.5 587.5 135 540.5 109.5 597 152 648.5 162.5 593 145.5 653 145.5 570 130.5 611.5 162.5 667.5 145.5 650.5 141.5 590.5 152 571.5 152 668.5 145.5 586.5 152 604.5 141.5 579.5 162.5 582 152 566 141.5 647 152 554.5 126 555.5 119 637 141.5 600 152 584 162.5 593.5 162.5 542 110 661.5 141.5 573.5 152 593.5 152 566 145.5 650 152 676 145.5 549 121 659 162.5 628.5 152 622.5 152 659 145.5 667.5 141.5 645.5 145.5 623 141.5 608.5 162.5 596.5 162.5 567 133 643.5 162.5 550.5 118.5 637.5 138 673.5 145.5 637.5 145.5 623.5 152 538.5 24.5 540 114.5 569.5 145.5 623.5 162.5 651.5 145.5 551 116 652 141.5 551 118.5 553 126 602.5 152 665 141.5 662.5 162.5 547.5 114 553 122 645 162.5 604 141.5 576 145.5 544 114.5 645.5 152 634 135 541 110 596 145.5 618 141.5 558.5 126 563 129 655 145.5 576 162.5 571.5 145.5 619.5 162.5 566.5 133 560 145.5 657 141.5 557 130.5 558 138 644.5 145.5 562 152 673 141.5 559 126 563.5 123.5 583 141.5 616 152 560 133 607.5 162.5 654 145.5 567 138 631.5 138 589.5 141.5 615 145.5 555.5 126 659.5 162.5 557 116.5 603 145.5 593 162.5 547 117.5 662 162.5 562 133 648.5 145.5 586.5 145.5 615.5 152 582.5 145.5 587 152 542 107.5 551.5 122 674 152 560 123.5 563.5 135 642 152 579 138 584 145.5 561 127.5 570 135 584 152 645 141.5 627 152 570 133 560 127.5 565 145.5 616.5 162.5 658 152 619 162.5 648 145.5 568 138 605.5 152 544.5 113.5 547.5 116 569 135 667.5 162.5 574.5 152 579 152 575.5 130.5 658.5 162.5 628 152 571 138 551.5 118.5 538 22 585 145.5 568.5 138 630 162.5 604 152 621.5 141.5 546.5 118.5 638 141.5 555 130.5 535 20 650.5 162.5 573.5 133 547 120 614 152 625.5 145.5 621.5 162.5 561 138 637 152 549 111 649 145.5 546.5 112.5 675 152 644.5 152 543 110.5 595.5 145.5 566.5 129 606 141.5 574 145.5 649.5 162.5 633 152 643.5 145.5 654.5 162.5 568.5 141.5 566 135 568.5 152 548 116 656.5 145.5 663.5 162.5 645.5 162.5 609 152 570 138 595 152 585.5 162.5 626.5 152 566.5 145.5 540.5 102.5 638 162.5 546 111.5 540 104 593 152 665 162.5 650.5 145.5 555 123.5 536.5 21.5 611 162.5 556 117.5 582 141.5 554 117.5 596 141.5 642 162.5 671 152 605 152 568 130.5 542.5 114 557 133 564 124.5 542.5 106.5 603 162.5 587.5 145.5 641.5 162.5 581 141.5 610 138 666.5 145.5 640.5 152 635.5 145.5 632.5 145.5 603 152 574 141.5 578.5 145.5 598.5 145.5 573.5 141.5 576.5 135 555.5 124.5 549.5 116.5 626 162.5 655.5 162.5 557 141.5 562.5 138 543 112.5 638 152 586.5 138 580 138 550 116.5 573 138 572.5 138 672 145.5 609.5 145.5 565 152 631 145.5 612 162.5 663.5 152 586 152 645 145.5 608.5 145.5 636.5 152 606 145.5 657 152 674.5 152 559 133 662.5 135 579 162.5 614.5 162.5 611.5 152 544 105 676.5 162.5 590 141.5 661 145.5 605.5 162.5 607.5 141.5 633 162.5 635 152 562.5 133 564 135 626.5 138 591 145.5 568 141.5 636 152 615 152 541 112 610.5 162.5 636 141.5 624.5 145.5 607 162.5 659.5 145.5 552.5 130.5 652.5 162.5 575.5 138 553 116 602.5 141.5 666 152 674.5 162.5 568 152 539.5 23.5 654 152 591.5 162.5 554.5 127.5 578.5 152 556.5 123.5 638.5 162.5 577.5 141.5 608 145.5 541 108 551.5 120 634.5 152 545.5 120 586 141.5 657.5 145.5 550.5 117.5 638 145.5 613.5 152 670.5 141.5 540 25 625 162.5 629 162.5 625 145.5 606 162.5 580.5 141.5 552.5 124.5 590 145.5 576.5 145.5 581 152 639 141.5 580 162.5 577.5 138 631 141.5 594.5 138 660 152 546 112 613 145.5 575 162.5 572.5 145.5 569 152 649 152 564 133 571 145.5 589 152 641.5 152 648 162.5 558.5 141.5 578 145.5 608.5 152 571.5 141.5 574.5 145.5 582.5 141.5 654.5 152 649.5 152 592.5 141.5 551.5 116.5 589 138 600.5 162.5 553.5 119 546 110.5 657 162.5 545.5 114.5 593.5 138 609.5 152 548 116.5 555 129 569 133 612.5 152 571 133 666.5 152 624 141.5 570.5 129 540 105.5 562.5 135 636.5 145.5 634 162.5 547.5 114.5 558 121 566.5 135 552.5 123.5 631 152 607.5 152 572 133 609 141.5 576.5 138 577 145.5 576 138 549 118.5 671.5 145.5 565 127.5 564.5 162.5 554.5 122 617 152 552.5 121 575.5 145.5 675.5 152 621 152 649 162.5 620 145.5 577.5 133 663 162.5 618.5 162.5 648.5 152 658 141.5 668 162.5 549.5 121 599 152 574.5 162.5 583.5 152 633.5 162.5 626 152 607 141.5 609.5 162.5 669 145.5 650 141.5 669 152 542.5 104 557.5 119 664 162.5 541.5 107.5 546.5 112 672 162.5 598.5 162.5 569.5 133 644 152 656.5 162.5 646.5 141.5 541.5 109 556 126 547 111 677 135 583.5 145.5 665 152 551 121 574 152 581 162.5 623 152 656 162.5 673 162.5 651 141.5 569.5 135 661.5 162.5 564.5 138 539.5 106.5" fill="none" stroke="none" marker-start="url(#m22)" marker-mid="url(#m22)" marker-end="url(#m22)"/>
<path d="M590 98 616 129 605.5 115 610.5 114 599 111.5 618.5 127.5 600 109 584 89.5 600 104.5 631.5 141.5 595 101 612.5 124.5 675.5 152 582 86 575.5 79.5 551 53 626 127.5 632 135 598.5 104.5 580 85 543 44 620 135 615.5 121 568 73 643.5 162.5 652 162.5 576.5 81.5 561 64 570 74 575.5 80 594 100 629 129 597.5 108.5 607 116 541 41.5 572 76.5 560.5 63.5 572.5 77.5 571.5 74.5 641 141.5 553 56 624.5 127.5 585 89.5 586 92 651 162.5 642 141.5 576 81 668.5 162.5 542 41.5 643 152 561.5 64.5 649 152 587 93 596 105.5 663 152 545 46 638 145.5 657 162.5 558 61 611 116.5 557 60 627 145.5 652.5 162.5 625.5 127.5 659 152 602.5 107.5 631.5 133 597.5 108 645.5 145.5 561 64.5 551.5 54 633.5 135 622.5 124.5 592.5 97.5 604 108 592 100 665 152 565.5 70 570.5 74 627.5 135 566.5 71.5 639 138 579 84.5 581 88 601 113.5 660 145.5 665.5 162.5 546.5 46.5 611 112.5 614 116 612 111 579.5 83.5 656.5 162.5 625 130.5 652 145.5 578.5 84 566.5 71 577 82.5 584.5 90 609.5 116 564.5 68 650 152 634.5 138 627.5 138 604.5 108 599.5 106 568.5 73.5 583.5 91 594 97.5 664 162.5 545.5 47 654.5 162.5 630 152 595.5 102 635.5 135 545.5 46 605 113.5 639.5 138 548 49 663.5 152 617.5 124.5 616.5 124.5 572 76 576 80.5 621 135 646.5 162.5 620.5 122 655 162.5 544 44.5 613.5 114 624 127.5 578.5 84.5 593 98 663 162.5 553.5 55.5 644 162.5 575 80 570 74.5 627 126 633.5 145.5 672.5 152 547 47 670.5 162.5 647 162.5 585 91.5 635 135 592.5 98 590.5 96.5 614 116.5 660 152 626 145.5 544.5 46 575 77.5 591.5 96.5 638.5 141.5 619.5 119 644 141.5 597 104.5 578 84.5 538 23 586.5 93 627 133 618 118.5 611.5 116 659.5 152 602 107.5 540.5 40 648.5 152 614.5 124.5 565.5 69.5 622 135 648.5 162.5 544.5 45.5 610.5 111.5 630.5 135 588 91.5 536.5 22 582 87.5 646 145.5 579 83.5 589 95 542.5 43 613 112.5 569.5 75 603.5 108.5 644.5 145.5 603 112 605.5 116.5 642.5 162.5 559 62.5 619 127.5 638 141.5 628.5 129 623.5 133 645 145.5 564.5 68.5 574 79.5 568 72 601 107 543 43 636.5 129 556 59.5 593 95.5 541 24 535.5 21.5 589.5 94.5 607.5 117.5 572.5 78 582 91 538.5 23.5 641.5 162.5 574 80.5 650 162.5 604.5 109.5 629.5 138 620.5 127.5 657.5 152 588.5 97 583.5 87.5 561.5 66.5 595.5 103.5 647.5 145.5 574.5 78.5 623 124.5 577.5 84.5 558.5 62.5 569.5 74.5 623.5 130.5 550 51.5 577 80.5 640 152 658 152 672.5 162.5 556 56.5 639.5 162.5 570.5 76 654.5 145.5 586.5 92 636.5 152 628 135 600.5 105.5 562.5 65.5 596 104 580.5 87 661 152 559 61.5 592 99 566 70.5 632 138 630.5 130.5 619 126 661.5 162.5 612.5 126 652.5 145.5 548.5 49 634.5 141.5 590.5 98.5 584.5 91.5 605 112.5 550.5 53 606 112 550 52 590 97.5 554.5 57 645.5 152 544 44 594.5 100 555 57 571 76.5 610 121 551 53.5 647.5 162.5 558 60.5 573.5 79 643 145.5 540 40.5 583 89.5 640.5 135 543.5 44 669.5 162.5 609 118.5 648 145.5 588.5 98 554.5 58 650.5 145.5 635 145.5 628.5 145.5 614.5 123.5 668 152 633 130.5 573.5 80.5 672 162.5 653.5 162.5 602 107 622.5 121 572.5 80.5 583 88.5 669 162.5 617.5 119 621 122 541 40.5 618 133 604.5 112.5 598.5 105.5 624.5 123.5 635.5 145.5 621.5 126 608 111.5 596.5 102 659 162.5 608 115 655 152 542.5 42.5 636 141.5 653 141.5 620 138 571 76 582.5 88.5 629.5 129 668 162.5 567 74 618 122 606 112.5 568 72.5 571.5 76 548.5 50 640.5 145.5 551.5 55.5 542 43.5 595 98 591 96.5 633 145.5 558.5 61.5 601.5 106.5 586 92.5 556.5 59 673 162.5 567.5 70 543.5 45 606.5 117.5 676 162.5 541.5 42 547.5 48.5 595.5 100.5 675 162.5 563 65.5 541.5 42.5 609 114 655.5 162.5 585.5 93.5 631 135 565 69.5 654 162.5 625.5 129 650.5 162.5 613.5 120 591.5 98.5 667.5 162.5 586.5 94 628 138 634 141.5 599.5 104 638.5 145.5 655.5 152 606.5 112 630 133 556.5 59.5 581 84.5 641 138 567 69.5 649.5 162.5 640 141.5 623 126 547 49 535 21 597 103.5 612 112.5 598 104 589.5 98.5 624 126 615 119 593.5 103 622 127.5 598 104.5 577 81.5 559 62 631 152 610 112 646 141.5 664.5 152 555 59 545.5 46.5 611.5 119 636 145.5 607 114.5 637.5 162.5 621.5 133 585.5 91.5 573 78 617 135 569 73.5 596.5 106 587 91 557 59.5 631.5 135 555.5 59 591 95.5 668.5 152 600 107.5 555.5 58.5 579.5 85.5 626.5 138 554 57 549.5 50.5 637 138 632.5 141.5 651 141.5 577.5 82.5 552 54 656 162.5 603.5 106.5 617 122 563.5 68 608.5 110.5 600.5 109 560 64 651.5 152 613.5 127.5 591 96 559.5 64 588 93 548 49.5 643.5 145.5 562.5 66.5 567.5 71.5 568.5 71.5 609 114.5 557.5 60 553 54.5 541 41 546.5 49 658.5 162.5 615 116.5 618.5 129 563.5 67 559.5 63.5 604 112 587.5 91 608.5 117.5 660.5 152 658.5 145.5 563 67 616 121 580.5 86.5 564 68.5 602.5 106.5 549 51 619.5 130.5 642 145.5 609.5 115 666.5 152 593.5 100.5 562 65.5 574.5 81 632.5 127.5 582.5 86.5 670 162.5 546 47 578 83 537 24 552.5 54.5 594.5 99.5 639 145.5 599 107.5 615.5 124.5 654 152 637 141.5 554 55.5 581.5 84 560 62.5 654.5 152 607.5 114.5 613 121 540 24.5 642.5 152 581.5 88.5 539.5 24.5 671 152 637.5 152 603 114 589 91.5 616.5 119 540 40 587.5 94.5 564 68 622.5 127.5 648 162.5 601.5 108.5 576.5 81" fill="none" stroke="none" marker-start="url(#m23)" marker-mid="url(#m23)" marker-end="url(#m23)"/>
<path d="M610 129 641 152 650.5 145.5 546 52 627.5 130.5 624.5 127.5 598 108.5 663.5 162.5 666 152 599 114 644.5 145.5 672.5 152 641 141.5 651.5 162.5 628 133 618.5 124.5 613 116.5 676 162.5 645.5 145.5 643.5 145.5 654.5 152 604.5 112.5 548 52.5 633 135 553 59.5 558.5 65.5 672.5 145.5 650 162.5 608.5 124.5 612.5 133 613.5 118.5 614.5 116 591 99 602 108.5 582.5 93 540 25 663.5 152 639.5 145.5 654.5 145.5 602 112.5 600 108 589.5 98 577 84.5 583 92 593.5 102 595.5 106 563.5 70.5 553 56.5 586 90 632 138 630 126 581 89 542.5 45.5 675 152 589 99 650.5 152 578.5 88.5 648.5 141.5 575.5 84.5 600 109.5 615.5 127.5 621 126 622.5 133 648.5 162.5 548.5 53 601 111.5 571 78 570 76.5 616 121 569 78 551.5 56.5 594 102.5 602.5 114 611 117.5 556.5 62.5 607 114 565.5 71.5 566.5 74 614.5 124.5 575.5 81.5 592 102.5 630.5 138 650 141.5 592 103.5 561 67.5 661.5 141.5 562.5 69 576 81.5 617.5 127.5 572.5 78.5 669.5 152 626.5 135 591 101.5 580.5 86.5 631.5 130.5 645 152 611.5 123.5 598.5 110.5 665.5 145.5 567.5 74 560 67 597 104.5 565.5 75 558 61.5 593.5 104 640 138 660 162.5 554.5 60 616.5 121 552 55.5 585.5 95 657 152 629.5 133 572.5 80 631 141.5 646 162.5 540.5 43 630.5 141.5 575 83.5 620.5 121 673 162.5 617.5 123.5 625 129 628.5 135 564.5 69.5 549 52.5 547 49.5 670 162.5 649.5 145.5 656 152 628.5 141.5 634.5 130.5 660.5 141.5 559.5 65 627 127.5 671 145.5 631 135 605.5 118.5 581.5 89.5 568.5 75 639.5 141.5 540.5 45 668 162.5 595.5 104.5 622.5 126 674 162.5 556.5 63 591 98 677 162.5 577 85 592.5 101 608 114.5 653.5 162.5 547.5 52 634.5 135 632.5 152 643 152 542 45 593 104 552.5 57 604.5 118.5 636.5 135 597.5 107 607 116.5 621 133 587 97 657 162.5 646.5 162.5 654 138 578 87.5 622 133 669.5 162.5 544 47 570.5 76.5 667 162.5 602.5 113.5 576.5 84 586 98.5 641.5 141.5 538.5 22 571 77.5 666 162.5 601.5 110 567 75 656 162.5 657.5 162.5 585.5 95.5 573 81 560.5 65 646.5 141.5 658 162.5 604 112 583 93.5 635 145.5 551 53.5 610 119 565 72.5 647 152 586.5 93.5 649 162.5 584.5 96 582.5 91 629 127.5 609 117.5 584 92.5 559 65.5 665 162.5 599 107.5 626 129 666.5 152 618.5 133 550 54 596 104 587.5 95.5 612 121 592.5 101.5 619 133 625 133 613 124.5 573 80.5 671 152 628 129 663 152 561.5 68.5 649 141.5 581.5 92.5 662.5 162.5 636.5 141.5 566 74.5 605 113.5 541 24 588.5 95 607.5 113.5 673.5 152 590 96 664 152 568.5 75.5 545 46.5 543.5 47.5 627 130.5 579.5 88.5 632.5 135 562 67 544.5 47.5 618 121 623.5 126 554 58.5 638 162.5 646 152 570.5 75.5 648 162.5 572.5 81 636 133 606 118.5 636 152 638.5 145.5 637.5 152 589.5 96.5 555.5 61 664.5 152 555.5 62 576 82 662 145.5 608 116.5 620 129 566 71 547.5 50 631.5 127.5 562.5 68.5 579 86 609 121 651 141.5 611.5 118.5 668 141.5 603 112.5 653.5 152 670.5 152 545 49 550.5 54.5 556 61.5 550.5 54 588 95.5 620 141.5 574 81.5 557 63 578.5 85 609 120 610.5 127.5 605 124.5 587 96 612 123.5 588 97 634 145.5 535 22 597 110 571.5 80 591.5 102.5 635 152 642.5 152 559 65 548.5 53.5 613.5 133 630 141.5 622.5 120 624 135 603.5 117.5 633.5 152 600.5 109 569 75.5 580 89 645 141.5 544.5 48 582 94.5 661.5 145.5 606.5 117.5 543 46.5 644 145.5 571.5 80.5 660.5 152 666.5 162.5 541.5 44 621.5 130.5 576.5 86 631.5 138 627 138 596 100 671.5 162.5 580.5 88.5 545.5 49 552 58.5 640.5 141.5 651 152 580 86.5 551.5 57 641.5 145.5 587.5 95 598.5 105.5 594.5 105.5 635.5 145.5 573.5 83 588.5 98 547 52.5 573.5 81.5 590 102.5 615.5 126 647.5 135 668.5 152 658.5 152 554.5 58 566.5 73.5 586.5 94.5 633.5 133 615 123.5 622 130.5 611 116 636 145.5 591.5 99.5 621.5 127.5 554.5 61 540 41.5 568 76.5 596.5 107.5 618 123.5 617 133 617 124.5 541 44 601.5 111.5 546.5 52 585 90.5 599.5 112 598 106.5 564 71 644 152 642 133 633 138 594 103.5 569.5 75.5 550 55 675.5 145.5 556 60 638.5 162.5 574.5 83.5 565 73.5 612.5 119 603.5 106.5 564.5 70.5 654 152 629 135 667.5 162.5 541.5 44.5 665.5 152 618 126 572 79 585 95 549 52 604.5 111 546 49.5 540 42.5 604 112.5 551 55.5 584 90.5 574 83.5 594.5 102.5 568 77 624 133 619.5 126 537 20 652.5 162.5 606.5 118.5 656.5 141.5 560 66.5 582 92 642 141.5 593 102 545.5 49.5 652 138 538 22.5 563 69 620.5 127.5 648 130.5 655.5 152 590.5 100.5 541 45 597.5 106.5 608.5 114 647.5 152 656.5 152 548 53 606 116.5 583.5 91.5 557.5 62.5 672 162.5 572 78.5 564 70.5 657.5 152 550 53.5 600.5 105 635.5 135 595 103.5 552.5 57.5 616 119 557.5 63 603 111 627.5 127.5 609.5 123.5 639 152 557 60.5 637 141.5 595.5 102 607.5 116 614 122 632 141.5 596.5 107 613.5 120 643.5 138 570 77.5 626 145.5 643 145.5 535.5 21 674 152 567 75.5 619 119 640.5 152 590.5 97 542.5 46.5 558.5 63.5 558 63.5 582 90 645.5 162.5 605.5 108.5 542 46 589 96.5 600 112 599.5 108 560.5 66 574.5 83 638 135 659 152 609.5 121 554 60 549.5 54.5 579 87 644.5 152 584.5 95.5 559.5 66 614 117.5 676.5 152 553.5 58.5 623.5 133 659.5 162.5 655 152 640.5 145.5 541 43 623 130.5 546.5 49.5 567.5 75 610.5 116.5 561.5 68 544 48.5 586.5 96.5 539.5 24 536.5 21.5 637.5 135 555 60 577.5 85.5 543.5 45 595 104.5 616.5 129 626.5 141.5 625.5 127.5 578 84.5 583.5 90.5" fill="none" stroke="none" marker-start="url(#m24)" marker-mid="url(#m24)" marker-end="url(#m24)"/>
<rect x="534.5" y="14.5" width="143.5" height="151.0" fill="none" stroke="#b2b2b2" stroke-width="1"/>
<line x1="534.6" y1="165.5" x2="534.6" y2="167.7" stroke="#777" stroke-width="0.7"/>
<text x="534.6" y="177.3" font-size="10.5" text-anchor="middle">0.0</text>
<line x1="552.6" y1="165.5" x2="552.6" y2="166.9" stroke="#777" stroke-width="0.7"/>
<line x1="570.5" y1="165.5" x2="570.5" y2="167.7" stroke="#777" stroke-width="0.7"/>
<text x="570.5" y="177.3" font-size="10.5" text-anchor="middle">0.2</text>
<line x1="588.5" y1="165.5" x2="588.5" y2="166.9" stroke="#777" stroke-width="0.7"/>
<line x1="606.4" y1="165.5" x2="606.4" y2="167.7" stroke="#777" stroke-width="0.7"/>
<text x="606.4" y="177.3" font-size="10.5" text-anchor="middle">0.4</text>
<line x1="624.4" y1="165.5" x2="624.4" y2="166.9" stroke="#777" stroke-width="0.7"/>
<line x1="642.3" y1="165.5" x2="642.3" y2="167.7" stroke="#777" stroke-width="0.7"/>
<text x="642.3" y="177.3" font-size="10.5" text-anchor="middle">0.6</text>
<line x1="660.2" y1="165.5" x2="660.2" y2="166.9" stroke="#777" stroke-width="0.7"/>
<line x1="678.2" y1="165.5" x2="678.2" y2="167.7" stroke="#777" stroke-width="0.7"/>
<text x="678.2" y="177.3" font-size="10.5" text-anchor="middle">0.8</text>
<text x="602.5" y="188.6" font-size="10.5" text-anchor="middle">Time (s)</text>
<line x1="534.5" y1="162.5" x2="532.3" y2="162.5" stroke="#777" stroke-width="0.7"/>
<line x1="534.5" y1="151.9" x2="533.3" y2="151.9" stroke="#777" stroke-width="0.7"/>
<line x1="534.5" y1="145.7" x2="533.3" y2="145.7" stroke="#777" stroke-width="0.7"/>
<line x1="534.5" y1="141.3" x2="533.3" y2="141.3" stroke="#777" stroke-width="0.7"/>
<line x1="534.5" y1="137.9" x2="533.3" y2="137.9" stroke="#777" stroke-width="0.7"/>
<line x1="534.5" y1="135.1" x2="533.3" y2="135.1" stroke="#777" stroke-width="0.7"/>
<line x1="534.5" y1="132.8" x2="533.3" y2="132.8" stroke="#777" stroke-width="0.7"/>
<line x1="534.5" y1="130.7" x2="533.3" y2="130.7" stroke="#777" stroke-width="0.7"/>
<line x1="534.5" y1="128.9" x2="533.3" y2="128.9" stroke="#777" stroke-width="0.7"/>
<text x="527.2" y="166.1" font-size="10" text-anchor="end">10</text>
<text x="527.6" y="161.9" font-size="7">0</text>
<line x1="534.5" y1="127.3" x2="532.3" y2="127.3" stroke="#777" stroke-width="0.7"/>
<line x1="534.5" y1="116.7" x2="533.3" y2="116.7" stroke="#777" stroke-width="0.7"/>
<line x1="534.5" y1="110.5" x2="533.3" y2="110.5" stroke="#777" stroke-width="0.7"/>
<line x1="534.5" y1="106.1" x2="533.3" y2="106.1" stroke="#777" stroke-width="0.7"/>
<line x1="534.5" y1="102.7" x2="533.3" y2="102.7" stroke="#777" stroke-width="0.7"/>
<line x1="534.5" y1="99.9" x2="533.3" y2="99.9" stroke="#777" stroke-width="0.7"/>
<line x1="534.5" y1="97.6" x2="533.3" y2="97.6" stroke="#777" stroke-width="0.7"/>
<line x1="534.5" y1="95.5" x2="533.3" y2="95.5" stroke="#777" stroke-width="0.7"/>
<line x1="534.5" y1="93.7" x2="533.3" y2="93.7" stroke="#777" stroke-width="0.7"/>
<text x="527.2" y="130.9" font-size="10" text-anchor="end">10</text>
<text x="527.6" y="126.7" font-size="7">1</text>
<line x1="534.5" y1="92.1" x2="532.3" y2="92.1" stroke="#777" stroke-width="0.7"/>
<line x1="534.5" y1="81.5" x2="533.3" y2="81.5" stroke="#777" stroke-width="0.7"/>
<line x1="534.5" y1="75.3" x2="533.3" y2="75.3" stroke="#777" stroke-width="0.7"/>
<line x1="534.5" y1="70.9" x2="533.3" y2="70.9" stroke="#777" stroke-width="0.7"/>
<line x1="534.5" y1="67.5" x2="533.3" y2="67.5" stroke="#777" stroke-width="0.7"/>
<line x1="534.5" y1="64.7" x2="533.3" y2="64.7" stroke="#777" stroke-width="0.7"/>
<line x1="534.5" y1="62.4" x2="533.3" y2="62.4" stroke="#777" stroke-width="0.7"/>
<line x1="534.5" y1="60.3" x2="533.3" y2="60.3" stroke="#777" stroke-width="0.7"/>
<line x1="534.5" y1="58.5" x2="533.3" y2="58.5" stroke="#777" stroke-width="0.7"/>
<text x="527.2" y="95.7" font-size="10" text-anchor="end">10</text>
<text x="527.6" y="91.5" font-size="7">2</text>
<line x1="534.5" y1="56.9" x2="532.3" y2="56.9" stroke="#777" stroke-width="0.7"/>
<line x1="534.5" y1="46.3" x2="533.3" y2="46.3" stroke="#777" stroke-width="0.7"/>
<line x1="534.5" y1="40.1" x2="533.3" y2="40.1" stroke="#777" stroke-width="0.7"/>
<line x1="534.5" y1="35.7" x2="533.3" y2="35.7" stroke="#777" stroke-width="0.7"/>
<line x1="534.5" y1="32.3" x2="533.3" y2="32.3" stroke="#777" stroke-width="0.7"/>
<line x1="534.5" y1="29.5" x2="533.3" y2="29.5" stroke="#777" stroke-width="0.7"/>
<line x1="534.5" y1="27.2" x2="533.3" y2="27.2" stroke="#777" stroke-width="0.7"/>
<line x1="534.5" y1="25.1" x2="533.3" y2="25.1" stroke="#777" stroke-width="0.7"/>
<line x1="534.5" y1="23.3" x2="533.3" y2="23.3" stroke="#777" stroke-width="0.7"/>
<text x="527.2" y="60.5" font-size="10" text-anchor="end">10</text>
<text x="527.6" y="56.3" font-size="7">3</text>
<line x1="534.5" y1="21.7" x2="532.3" y2="21.7" stroke="#777" stroke-width="0.7"/>
<text x="527.2" y="25.3" font-size="10" text-anchor="end">10</text>
<text x="527.6" y="21.1" font-size="7">4</text>
<text transform="translate(515.7 89.9) rotate(-90)" font-size="10.3" text-anchor="middle">Intensity</text>
<circle cx="571.3" cy="26.9" r="1.85" fill="#c4c4c4"/>
<text x="577.6999999999999" y="30.5" font-size="10.3">H<tspan font-size="7.0" dy="2.16">2</tspan><tspan dy="-2.16">O</tspan></text>
<circle cx="571.3" cy="42" r="1.85" fill="#1e7a26"/>
<text x="577.6999999999999" y="45.6" font-size="10.3">Leu/H<tspan font-size="7.0" dy="2.16">2</tspan><tspan dy="-2.16">O</tspan></text>
<circle cx="571.3" cy="57.3" r="1.85" fill="#3a96e6"/>
<text x="577.6999999999999" y="60.9" font-size="10.3">Phe/H<tspan font-size="7.0" dy="2.16">2</tspan><tspan dy="-2.16">O</tspan></text>
<circle cx="630.3" cy="26.9" r="1.85" fill="#f7a44a"/>
<text x="636.6999999999999" y="30.5" font-size="10.3">His/H<tspan font-size="7.0" dy="2.16">2</tspan><tspan dy="-2.16">O</tspan></text>
<circle cx="630.3" cy="42" r="1.75" fill="#fff" stroke="#7cbb62" stroke-width="0.8"/>
<text x="636.6999999999999" y="45.6" font-size="10.3">Glu/H<tspan font-size="7.0" dy="2.16">2</tspan><tspan dy="-2.16">O</tspan></text>
<circle cx="630.3" cy="57.3" r="1.75" fill="#fff" stroke="#f4a386" stroke-width="0.8"/>
<text x="636.6999999999999" y="60.9" font-size="10.3">Gln/H<tspan font-size="7.0" dy="2.16">2</tspan><tspan dy="-2.16">O</tspan></text>
<text x="493" y="193.6" font-size="18">(d)</text>
<rect x="536.0" y="300.9" width="19" height="45.4" fill="url(#barg)"/>
<text x="545.5" y="300.6" font-size="9.3" text-anchor="middle">25.17</text>
<rect x="560.4" y="245.8" width="19" height="100.5" fill="url(#barg)"/>
<text x="569.9" y="245.5" font-size="9.3" text-anchor="middle">55.67</text>
<rect x="583.9" y="228.4" width="19" height="117.9" fill="url(#barg)"/>
<text x="593.4" y="228.1" font-size="9.3" text-anchor="middle">65.31</text>
<rect x="608.5" y="221.2" width="19" height="125.1" fill="url(#barg)"/>
<text x="618.0" y="220.9" font-size="9.3" text-anchor="middle">69.31</text>
<rect x="632.9" y="212.9" width="19" height="133.4" fill="url(#barg)"/>
<text x="642.4" y="212.6" font-size="9.3" text-anchor="middle">73.93</text>
<rect x="657.1" y="210.0" width="19" height="136.3" fill="url(#barg)"/>
<text x="666.6" y="209.7" font-size="9.3" text-anchor="middle">75.54</text>
<rect x="533.5" y="193.5" width="144.0" height="153.0" fill="none" stroke="#9a9a9a" stroke-width="1"/>
<line x1="533.5" y1="346.3" x2="531.1" y2="346.3" stroke="#666" stroke-width="0.8"/>
<text x="528.7" y="349.3" font-size="8.6" text-anchor="end">0</text>
<line x1="533.5" y1="328.2" x2="532.0" y2="328.2" stroke="#666" stroke-width="0.8"/>
<line x1="533.5" y1="310.2" x2="531.1" y2="310.2" stroke="#666" stroke-width="0.8"/>
<text x="528.7" y="313.2" font-size="8.6" text-anchor="end">20</text>
<line x1="533.5" y1="292.2" x2="532.0" y2="292.2" stroke="#666" stroke-width="0.8"/>
<line x1="533.5" y1="274.1" x2="531.1" y2="274.1" stroke="#666" stroke-width="0.8"/>
<text x="528.7" y="277.1" font-size="8.6" text-anchor="end">40</text>
<line x1="533.5" y1="256.1" x2="532.0" y2="256.1" stroke="#666" stroke-width="0.8"/>
<line x1="533.5" y1="238.0" x2="531.1" y2="238.0" stroke="#666" stroke-width="0.8"/>
<text x="528.7" y="241.0" font-size="8.6" text-anchor="end">60</text>
<line x1="533.5" y1="220.0" x2="532.0" y2="220.0" stroke="#666" stroke-width="0.8"/>
<line x1="533.5" y1="201.9" x2="531.1" y2="201.9" stroke="#666" stroke-width="0.8"/>
<text x="528.7" y="204.9" font-size="8.6" text-anchor="end">80</text>
<line x1="545.6" y1="346.5" x2="545.6" y2="348.7" stroke="#666" stroke-width="0.8"/>
<text x="544.6" y="358.8" font-size="9.6" text-anchor="middle" font-weight="bold">1</text>
<line x1="569.8" y1="346.5" x2="569.8" y2="348.7" stroke="#666" stroke-width="0.8"/>
<text x="568.8" y="358.8" font-size="9.6" text-anchor="middle" font-weight="bold">2</text>
<line x1="594.0" y1="346.5" x2="594.0" y2="348.7" stroke="#666" stroke-width="0.8"/>
<text x="593.0" y="358.8" font-size="9.6" text-anchor="middle" font-weight="bold">3</text>
<line x1="618.2" y1="346.5" x2="618.2" y2="348.7" stroke="#666" stroke-width="0.8"/>
<text x="617.2" y="358.8" font-size="9.6" text-anchor="middle" font-weight="bold">4</text>
<line x1="642.4" y1="346.5" x2="642.4" y2="348.7" stroke="#666" stroke-width="0.8"/>
<text x="641.4" y="358.8" font-size="9.6" text-anchor="middle" font-weight="bold">5</text>
<line x1="666.6" y1="346.5" x2="666.6" y2="348.7" stroke="#666" stroke-width="0.8"/>
<text x="665.6" y="358.8" font-size="9.6" text-anchor="middle" font-weight="bold">6</text>
<text x="601.7" y="372.2" font-size="11.5" text-anchor="middle">Solvent system</text>
<text transform="translate(516.8 276.8) rotate(-90)" font-size="11.4" text-anchor="middle">Lifetime (ms)</text>
<text x="0.5" y="396.5" font-size="18">(e)</text>
<text x="10.0" y="425.2" font-size="15.4">Leu/H<tspan font-size="10.47" dy="3.6">2</tspan><tspan dy="-3.6">O</tspan></text>
<text x="10.0" y="494.3" font-size="15.4">Glu/H<tspan font-size="10.47" dy="3.6">2</tspan><tspan dy="-3.6">O</tspan></text>
<rect x="71.5" y="396.2" width="57.5" height="60.2" rx="8.5" fill="#000"/>
<ellipse cx="100.2" cy="426.3" rx="27.1" ry="28.1" fill="url(#p25)"/>
<rect x="71.5" y="466.1" width="57.5" height="58.2" rx="8.5" fill="#000"/>
<rect x="72.6" y="467.2" width="55.3" height="56.0" rx="24.9" ry="25.2" fill="url(#p26)"/>
<rect x="72.6" y="467.2" width="55.3" height="56.0" rx="24.9" ry="25.2" fill="url(#h27)"/>
<rect x="132.8" y="396.2" width="57.4" height="60.2" rx="8.5" fill="#1c0e00"/>
<ellipse cx="161.5" cy="426.3" rx="27.1" ry="28.1" fill="url(#p28)"/>
<rect x="132.8" y="466.1" width="57.4" height="58.2" rx="8.5" fill="#000"/>
<rect x="133.9" y="467.2" width="55.2" height="56.0" rx="24.8" ry="25.2" fill="url(#p29)"/>
<rect x="194.0" y="396.2" width="57.5" height="60.2" rx="8.5" fill="#000"/>
<ellipse cx="222.8" cy="426.3" rx="27.1" ry="28.1" fill="url(#p30)"/>
<ellipse cx="222.8" cy="426.3" rx="27.1" ry="28.1" fill="url(#d31)"/>
<rect x="194.0" y="466.1" width="57.5" height="58.2" rx="8.5" fill="#000"/>
<rect x="195.1" y="467.2" width="55.3" height="56.0" rx="24.9" ry="25.2" fill="url(#p32)"/>
<rect x="255.9" y="396.2" width="56.9" height="60.2" rx="8.5" fill="#000"/>
<ellipse cx="284.4" cy="426.3" rx="26.8" ry="28.1" fill="url(#p33)"/>
<ellipse cx="284.4" cy="426.3" rx="26.8" ry="28.1" fill="url(#d34)"/>
<rect x="255.9" y="466.1" width="56.9" height="58.2" rx="8.5" fill="#000"/>
<rect x="257.0" y="467.2" width="54.7" height="56.0" rx="24.6" ry="25.2" fill="url(#p35)"/>
<rect x="316.6" y="396.2" width="56.1" height="60.2" rx="8.5" fill="#000"/>
<ellipse cx="344.7" cy="426.3" rx="26.4" ry="28.1" fill="url(#p36)"/>
<ellipse cx="344.7" cy="426.3" rx="26.4" ry="28.1" fill="url(#d37)"/>
<rect x="316.6" y="466.1" width="56.1" height="58.2" rx="8.5" fill="#000"/>
<rect x="317.7" y="467.2" width="53.9" height="56.0" rx="24.3" ry="25.2" fill="url(#p38)"/>
<rect x="376.3" y="396.2" width="57.9" height="60.2" rx="8.5" fill="#000"/>
<ellipse cx="405.2" cy="426.3" rx="27.3" ry="28.1" fill="url(#p39)"/>
<ellipse cx="405.2" cy="426.3" rx="27.3" ry="28.1" fill="url(#d40)"/>
<rect x="376.3" y="466.1" width="57.9" height="58.2" rx="8.5" fill="#000"/>
<rect x="377.4" y="467.2" width="55.7" height="56.0" rx="25.1" ry="25.2" fill="url(#p41)"/>
<rect x="377.4" y="467.2" width="55.7" height="56.0" rx="25.1" ry="25.2" fill="url(#h42)"/>
<rect x="439.2" y="396.2" width="56.9" height="60.2" rx="8.5" fill="#000"/>
<ellipse cx="467.6" cy="426.3" rx="26.8" ry="28.1" fill="url(#p43)"/>
<ellipse cx="467.6" cy="426.3" rx="26.8" ry="28.1" fill="url(#d44)"/>
<rect x="439.2" y="466.1" width="56.9" height="58.2" rx="8.5" fill="#000"/>
<rect x="440.3" y="467.2" width="54.7" height="56.0" rx="24.6" ry="25.2" fill="url(#p45)"/>
<rect x="500.5" y="396.2" width="54.9" height="60.2" rx="8.5" fill="#000"/>
<ellipse cx="528.0" cy="426.3" rx="25.8" ry="28.1" fill="url(#p46)"/>
<ellipse cx="528.0" cy="426.3" rx="25.8" ry="28.1" fill="url(#d47)"/>
<rect x="500.5" y="466.1" width="54.9" height="58.2" rx="8.5" fill="#000"/>
<rect x="501.6" y="467.2" width="52.7" height="56.0" rx="23.7" ry="25.2" fill="url(#p48)"/>
<rect x="559.1" y="396.2" width="57.6" height="60.2" rx="8.5" fill="#000"/>
<rect x="559.1" y="466.1" width="57.6" height="58.2" rx="8.5" fill="#000"/>
<rect x="560.2" y="467.2" width="55.4" height="56.0" rx="24.9" ry="25.2" fill="url(#p49)"/>
<rect x="620.4" y="396.2" width="57.6" height="60.2" rx="8.5" fill="#000"/>
<rect x="620.4" y="466.1" width="57.6" height="58.2" rx="8.5" fill="#000"/>
<text x="83.3" y="543.6" font-size="14">UV on</text>
<text x="152.8" y="543.6" font-size="14">off</text>
<text x="198.7" y="543.6" font-size="14">0.5 s</text>
<text x="334.2" y="543.6" font-size="14">1.0 s</text>
<text x="456.8" y="543.6" font-size="14">1.5 s</text>
<text x="576.2" y="543.6" font-size="14">2.0 s</text>
<path d="M73 550.2 H669.5 V546.1 L678.2 554.5 L669.5 562.9 V559 H73 Z" fill="url(#arrg)"/>
</svg></body></html>
